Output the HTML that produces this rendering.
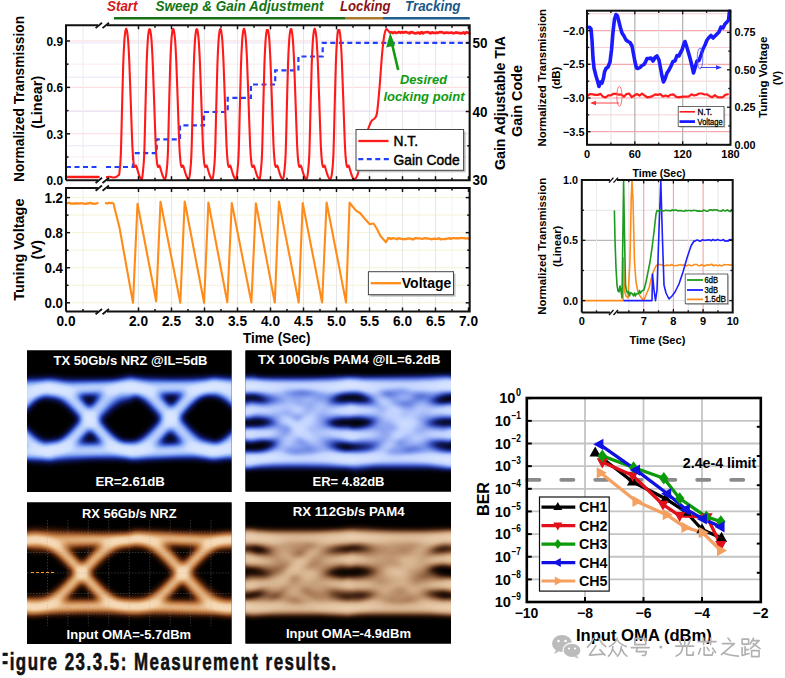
<!DOCTYPE html>
<html><head><meta charset="utf-8"><style>
html,body{margin:0;padding:0;background:#fff;width:785px;height:678px;overflow:hidden}
svg{display:block}
text{font-family:"Liberation Sans", sans-serif}
</style></head><body>
<svg width="785" height="678" viewBox="0 0 785 678">
<defs><filter id="bl2" x="-20%" y="-20%" width="140%" height="140%"><feGaussianBlur stdDeviation="2"/></filter><filter id="bl3" x="-20%" y="-20%" width="140%" height="140%"><feGaussianBlur stdDeviation="3"/></filter><filter id="bl4" x="-20%" y="-20%" width="140%" height="140%"><feGaussianBlur stdDeviation="4.5"/></filter><filter id="bl15" x="-20%" y="-20%" width="140%" height="140%"><feGaussianBlur stdDeviation="1.3"/></filter><filter id="fTX" x="0" y="0" width="1" height="1" filterUnits="objectBoundingBox" color-interpolation-filters="sRGB"><feGaussianBlur in="SourceAlpha" stdDeviation="3.3" result="b"/><feColorMatrix in="b" type="matrix" values="0 0 0 1 0  0 0 0 1 0  0 0 0 1 0  0 0 0 0 1" result="g"/><feComponentTransfer in="g"><feFuncR type="table" tableValues="0 0.07 0.24 0.54 0.8 0.9"/><feFuncG type="table" tableValues="0 0.11 0.37 0.67 0.87 0.93"/><feFuncB type="table" tableValues="0 0.42 0.82 0.96 1 1"/></feComponentTransfer></filter><clipPath id="k1"><rect x="27" y="350.5" width="204.5" height="141.5"/></clipPath><filter id="fTX4" x="0" y="0" width="1" height="1" filterUnits="objectBoundingBox" color-interpolation-filters="sRGB"><feGaussianBlur in="SourceAlpha" stdDeviation="2.6" result="b"/><feColorMatrix in="b" type="matrix" values="0 0 0 1 0  0 0 0 1 0  0 0 0 1 0  0 0 0 0 1" result="g"/><feComponentTransfer in="g"><feFuncR type="table" tableValues="0 0.08 0.25 0.5 0.75 0.88"/><feFuncG type="table" tableValues="0 0.12 0.35 0.6 0.82 0.92"/><feFuncB type="table" tableValues="0 0.42 0.78 0.93 1 1"/></feComponentTransfer></filter><clipPath id="k2"><rect x="245.5" y="350.5" width="205.5" height="141"/></clipPath><filter id="fRX" x="0" y="0" width="1" height="1" filterUnits="objectBoundingBox" color-interpolation-filters="sRGB"><feGaussianBlur in="SourceAlpha" stdDeviation="3.2" result="b"/><feColorMatrix in="b" type="matrix" values="0 0 0 1 0  0 0 0 1 0  0 0 0 1 0  0 0 0 0 1" result="g"/><feComponentTransfer in="g"><feFuncR type="table" tableValues="0 0.3 0.62 0.82 0.95 0.99"/><feFuncG type="table" tableValues="0 0.13 0.35 0.58 0.82 0.92"/><feFuncB type="table" tableValues="0 0.04 0.16 0.36 0.66 0.84"/></feComponentTransfer></filter><clipPath id="k3"><rect x="27" y="502.5" width="204.5" height="141.5"/></clipPath><filter id="fRX4" x="0" y="0" width="1" height="1" filterUnits="objectBoundingBox" color-interpolation-filters="sRGB"><feGaussianBlur in="SourceAlpha" stdDeviation="2.6" result="b"/><feColorMatrix in="b" type="matrix" values="0 0 0 1 0  0 0 0 1 0  0 0 0 1 0  0 0 0 0 1" result="g"/><feComponentTransfer in="g"><feFuncR type="table" tableValues="0 0.22 0.46 0.68 0.84 0.94"/><feFuncG type="table" tableValues="0 0.11 0.3 0.5 0.7 0.84"/><feFuncB type="table" tableValues="0 0.05 0.19 0.36 0.56 0.72"/></feComponentTransfer></filter><clipPath id="k4"><rect x="245.5" y="502" width="205.5" height="141.5"/></clipPath></defs>
<line x1="66" y1="157" x2="469.7" y2="157" stroke="#fdeaec" stroke-width="1" />
<line x1="66" y1="133.79" x2="469.7" y2="133.79" stroke="#fbd8db" stroke-width="1" />
<line x1="66" y1="110.58" x2="469.7" y2="110.58" stroke="#fdeaec" stroke-width="1" />
<line x1="66" y1="87.38" x2="469.7" y2="87.38" stroke="#fbd8db" stroke-width="1" />
<line x1="66" y1="64.17" x2="469.7" y2="64.17" stroke="#fdeaec" stroke-width="1" />
<line x1="66" y1="40.97" x2="469.7" y2="40.97" stroke="#fbd8db" stroke-width="1" />
<line x1="66" y1="145.8" x2="469.7" y2="145.8" stroke="#e6e6fa" stroke-width="1" />
<line x1="66" y1="111.5" x2="469.7" y2="111.5" stroke="#e6e6fa" stroke-width="1" />
<line x1="66" y1="77.2" x2="469.7" y2="77.2" stroke="#e6e6fa" stroke-width="1" />
<line x1="66" y1="42.9" x2="469.7" y2="42.9" stroke="#e6e6fa" stroke-width="1" />
<line x1="138.5" y1="25.3" x2="138.5" y2="180.2" stroke="#e6e6e6" stroke-width="1" />
<line x1="155" y1="25.3" x2="155" y2="180.2" stroke="#f3f3f3" stroke-width="1" />
<line x1="171.5" y1="25.3" x2="171.5" y2="180.2" stroke="#e6e6e6" stroke-width="1" />
<line x1="188" y1="25.3" x2="188" y2="180.2" stroke="#f3f3f3" stroke-width="1" />
<line x1="204.5" y1="25.3" x2="204.5" y2="180.2" stroke="#e6e6e6" stroke-width="1" />
<line x1="221" y1="25.3" x2="221" y2="180.2" stroke="#f3f3f3" stroke-width="1" />
<line x1="237.5" y1="25.3" x2="237.5" y2="180.2" stroke="#e6e6e6" stroke-width="1" />
<line x1="254" y1="25.3" x2="254" y2="180.2" stroke="#f3f3f3" stroke-width="1" />
<line x1="270.5" y1="25.3" x2="270.5" y2="180.2" stroke="#e6e6e6" stroke-width="1" />
<line x1="287" y1="25.3" x2="287" y2="180.2" stroke="#f3f3f3" stroke-width="1" />
<line x1="303.5" y1="25.3" x2="303.5" y2="180.2" stroke="#e6e6e6" stroke-width="1" />
<line x1="320" y1="25.3" x2="320" y2="180.2" stroke="#f3f3f3" stroke-width="1" />
<line x1="336.5" y1="25.3" x2="336.5" y2="180.2" stroke="#e6e6e6" stroke-width="1" />
<line x1="353" y1="25.3" x2="353" y2="180.2" stroke="#f3f3f3" stroke-width="1" />
<line x1="369.5" y1="25.3" x2="369.5" y2="180.2" stroke="#e6e6e6" stroke-width="1" />
<line x1="386" y1="25.3" x2="386" y2="180.2" stroke="#f3f3f3" stroke-width="1" />
<line x1="402.5" y1="25.3" x2="402.5" y2="180.2" stroke="#e6e6e6" stroke-width="1" />
<line x1="419" y1="25.3" x2="419" y2="180.2" stroke="#f3f3f3" stroke-width="1" />
<line x1="435.5" y1="25.3" x2="435.5" y2="180.2" stroke="#e6e6e6" stroke-width="1" />
<line x1="452" y1="25.3" x2="452" y2="180.2" stroke="#f3f3f3" stroke-width="1" />
<line x1="468.5" y1="25.3" x2="468.5" y2="180.2" stroke="#e6e6e6" stroke-width="1" />
<line x1="83" y1="25.3" x2="83" y2="180.2" stroke="#ececec" stroke-width="1" />
<text x="107" y="11.3" font-size="14.5" font-weight="bold" fill="#d41820" textLength="30.5" lengthAdjust="spacingAndGlyphs" font-style="italic" >Start</text>
<text x="155.5" y="11.3" font-size="14.5" font-weight="bold" fill="#137513" textLength="168" lengthAdjust="spacingAndGlyphs" font-style="italic" >Sweep &amp; Gain Adjustment</text>
<text x="340" y="11.3" font-size="14.5" font-weight="bold" fill="#8a1414" textLength="50.5" lengthAdjust="spacingAndGlyphs" font-style="italic" >Locking</text>
<text x="405" y="11.3" font-size="14.5" font-weight="bold" fill="#1a5888" textLength="55.5" lengthAdjust="spacingAndGlyphs" font-style="italic" >Tracking</text>
<line x1="114" y1="18.2" x2="345" y2="18.2" stroke="#177017" stroke-width="2.6" />
<line x1="345" y1="18.2" x2="383" y2="18.2" stroke="#a87b2a" stroke-width="2.6" />
<line x1="383" y1="18.2" x2="469.8" y2="18.2" stroke="#1f5f8f" stroke-width="2.6" />
<polyline points="66,167 98,167" fill="none" stroke="#1f3fff" stroke-width="2.2" stroke-dasharray="5,3.5"/>
<polyline points="106,167 133,167 133,153.2 156.7,153.2 156.7,139.3 180,139.3 180,125.4 204,125.4 204,112 227.7,112 227.7,97.9 250.9,97.9 250.9,84.5 275.2,84.5 275.2,70.4 298.4,70.4 298.4,56.5 322.7,56.5 322.7,42.8 469.5,42.8" fill="none" stroke="#1f3fff" stroke-width="2.2" stroke-dasharray="5,3.5"/>
<path d="M106,177 C106.67,176.97 108.67,176.72 110,176.8 C111.33,176.88 112.83,177.55 114,177.5 C115.17,177.45 116.25,176.92 117,176.5 C117.75,176.08 118.1,175.58 118.5,175 C118.9,174.42 119.02,176.33 119.4,173 C119.78,169.67 120.37,165.5 120.8,155 C121.23,144.5 121.6,125 122,110 C122.4,95 122.8,76.67 123.2,65 C123.6,53.33 124.02,45.75 124.4,40 C124.78,34.25 125.2,32.42 125.5,30.5 C125.8,28.58 125.97,28.5 126.2,28.5 C126.43,28.5 126.58,28.58 126.9,30.5 C127.22,32.42 127.7,34.75 128.1,40 C128.5,45.25 128.87,52 129.3,62 C129.73,72 130.2,86.17 130.7,100 C131.2,113.83 131.82,134.5 132.3,145 C132.78,155.5 133.2,159.33 133.6,163 C134,166.67 134.3,166.58 134.7,167 C135.1,167.42 135.58,165.17 136,165.5 C136.42,165.83 136.67,167.33 137.2,169 C137.73,170.67 138.45,173.78 139.2,175.5 C139.95,177.22 141.1,179.72 141.7,179.3 C142.3,178.88 142.38,177.05 142.8,173 C143.22,168.95 143.77,165.5 144.2,155 C144.63,144.5 145,125 145.4,110 C145.8,95 146.2,76.67 146.6,65 C147,53.33 147.42,45.75 147.8,40 C148.18,34.25 148.6,32.25 148.9,30.5 C149.2,28.75 149.37,29.5 149.6,29.5 C149.83,29.5 149.98,28.75 150.3,30.5 C150.62,32.25 151.1,34.75 151.5,40 C151.9,45.25 152.27,52 152.7,62 C153.13,72 153.6,86.17 154.1,100 C154.6,113.83 155.22,134.5 155.7,145 C156.18,155.5 156.6,159.33 157,163 C157.4,166.67 157.7,166.58 158.1,167 C158.5,167.42 158.98,165.17 159.4,165.5 C159.82,165.83 160.07,167.33 160.6,169 C161.13,170.67 161.85,173.78 162.6,175.5 C163.35,177.22 164.47,179.72 165.1,179.3 C165.73,178.88 165.95,177.05 166.4,173 C166.85,168.95 167.37,165.5 167.8,155 C168.23,144.5 168.6,125 169,110 C169.4,95 169.8,76.67 170.2,65 C170.6,53.33 171.02,45.75 171.4,40 C171.78,34.25 172.2,32.37 172.5,30.5 C172.8,28.63 172.97,28.8 173.2,28.8 C173.43,28.8 173.58,28.63 173.9,30.5 C174.22,32.37 174.7,34.75 175.1,40 C175.5,45.25 175.87,52 176.3,62 C176.73,72 177.2,86.17 177.7,100 C178.2,113.83 178.82,134.5 179.3,145 C179.78,155.5 180.2,159.33 180.6,163 C181,166.67 181.3,166.58 181.7,167 C182.1,167.42 182.58,165.17 183,165.5 C183.42,165.83 183.67,167.33 184.2,169 C184.73,170.67 185.45,173.78 186.2,175.5 C186.95,177.22 188.07,179.72 188.7,179.3 C189.33,178.88 189.55,177.05 190,173 C190.45,168.95 190.97,165.5 191.4,155 C191.83,144.5 192.2,125 192.6,110 C193,95 193.4,76.67 193.8,65 C194.2,53.33 194.62,45.75 195,40 C195.38,34.25 195.8,32.25 196.1,30.5 C196.4,28.75 196.57,29.5 196.8,29.5 C197.03,29.5 197.18,28.75 197.5,30.5 C197.82,32.25 198.3,34.75 198.7,40 C199.1,45.25 199.47,52 199.9,62 C200.33,72 200.8,86.17 201.3,100 C201.8,113.83 202.42,134.5 202.9,145 C203.38,155.5 203.8,159.33 204.2,163 C204.6,166.67 204.9,166.58 205.3,167 C205.7,167.42 206.18,165.17 206.6,165.5 C207.02,165.83 207.27,167.33 207.8,169 C208.33,170.67 209.05,173.78 209.8,175.5 C210.55,177.22 211.67,179.72 212.3,179.3 C212.93,178.88 213.15,177.05 213.6,173 C214.05,168.95 214.57,165.5 215,155 C215.43,144.5 215.8,125 216.2,110 C216.6,95 217,76.67 217.4,65 C217.8,53.33 218.22,45.75 218.6,40 C218.98,34.25 219.4,32.3 219.7,30.5 C220,28.7 220.17,29.2 220.4,29.2 C220.63,29.2 220.78,28.7 221.1,30.5 C221.42,32.3 221.9,34.75 222.3,40 C222.7,45.25 223.07,52 223.5,62 C223.93,72 224.4,86.17 224.9,100 C225.4,113.83 226.02,134.5 226.5,145 C226.98,155.5 227.4,159.33 227.8,163 C228.2,166.67 228.5,166.58 228.9,167 C229.3,167.42 229.78,165.17 230.2,165.5 C230.62,165.83 230.87,167.33 231.4,169 C231.93,170.67 232.65,173.78 233.4,175.5 C234.15,177.22 235.27,179.72 235.9,179.3 C236.53,178.88 236.75,177.05 237.2,173 C237.65,168.95 238.17,165.5 238.6,155 C239.03,144.5 239.4,125 239.8,110 C240.2,95 240.6,76.67 241,65 C241.4,53.33 241.82,45.75 242.2,40 C242.58,34.25 243,32.42 243.3,30.5 C243.6,28.58 243.77,28.5 244,28.5 C244.23,28.5 244.38,28.58 244.7,30.5 C245.02,32.42 245.5,34.75 245.9,40 C246.3,45.25 246.67,52 247.1,62 C247.53,72 248,86.17 248.5,100 C249,113.83 249.62,134.5 250.1,145 C250.58,155.5 251,159.33 251.4,163 C251.8,166.67 252.1,166.58 252.5,167 C252.9,167.42 253.38,165.17 253.8,165.5 C254.22,165.83 254.47,167.33 255,169 C255.53,170.67 256.25,173.78 257,175.5 C257.75,177.22 258.9,179.72 259.5,179.3 C260.1,178.88 260.18,177.05 260.6,173 C261.02,168.95 261.57,165.5 262,155 C262.43,144.5 262.8,125 263.2,110 C263.6,95 264,76.67 264.4,65 C264.8,53.33 265.22,45.75 265.6,40 C265.98,34.25 266.4,32 266.7,30.5 C267,29 267.17,31 267.4,31 C267.63,31 267.78,29 268.1,30.5 C268.42,32 268.9,34.75 269.3,40 C269.7,45.25 270.07,52 270.5,62 C270.93,72 271.4,86.17 271.9,100 C272.4,113.83 273.02,134.5 273.5,145 C273.98,155.5 274.4,159.33 274.8,163 C275.2,166.67 275.5,166.58 275.9,167 C276.3,167.42 276.78,165.17 277.2,165.5 C277.62,165.83 277.87,167.33 278.4,169 C278.93,170.67 279.65,173.78 280.4,175.5 C281.15,177.22 282.27,179.72 282.9,179.3 C283.53,178.88 283.75,177.05 284.2,173 C284.65,168.95 285.17,165.5 285.6,155 C286.03,144.5 286.4,125 286.8,110 C287.2,95 287.6,76.67 288,65 C288.4,53.33 288.82,45.75 289.2,40 C289.58,34.25 290,32.3 290.3,30.5 C290.6,28.7 290.77,29.2 291,29.2 C291.23,29.2 291.38,28.7 291.7,30.5 C292.02,32.3 292.5,34.75 292.9,40 C293.3,45.25 293.67,52 294.1,62 C294.53,72 295,86.17 295.5,100 C296,113.83 296.62,134.5 297.1,145 C297.58,155.5 298,159.33 298.4,163 C298.8,166.67 299.1,166.58 299.5,167 C299.9,167.42 300.38,165.17 300.8,165.5 C301.22,165.83 301.47,167.33 302,169 C302.53,170.67 303.25,173.78 304,175.5 C304.75,177.22 305.85,179.72 306.5,179.3 C307.15,178.88 307.43,177.05 307.9,173 C308.37,168.95 308.87,165.5 309.3,155 C309.73,144.5 310.1,125 310.5,110 C310.9,95 311.3,76.67 311.7,65 C312.1,53.33 312.52,45.75 312.9,40 C313.28,34.25 313.7,32.42 314,30.5 C314.3,28.58 314.47,28.5 314.7,28.5 C314.93,28.5 315.08,28.58 315.4,30.5 C315.72,32.42 316.2,34.75 316.6,40 C317,45.25 317.37,52 317.8,62 C318.23,72 318.7,86.17 319.2,100 C319.7,113.83 320.32,134.5 320.8,145 C321.28,155.5 321.7,159.33 322.1,163 C322.5,166.67 322.8,166.58 323.2,167 C323.6,167.42 324.08,165.17 324.5,165.5 C324.92,165.83 325.17,167.33 325.7,169 C326.23,170.67 326.95,173.78 327.7,175.5 C328.45,177.22 329.48,179.72 330.2,179.3 C330.92,178.88 331.47,177.05 332,173 C332.53,168.95 332.97,165.5 333.4,155 C333.83,144.5 334.2,125 334.6,110 C335,95 335.4,76.67 335.8,65 C336.2,53.33 336.62,45.75 337,40 C337.38,34.25 337.8,32 338.1,30.5 C338.4,29 338.57,31 338.8,31 C339.03,31 339.18,29 339.5,30.5 C339.82,32 340.3,34.75 340.7,40 C341.1,45.25 341.47,52 341.9,62 C342.33,72 342.8,86.17 343.3,100 C343.8,113.83 344.42,134.5 344.9,145 C345.38,155.5 345.8,159.33 346.2,163 C346.6,166.67 346.9,166.58 347.3,167 C347.7,167.42 348.18,165.17 348.6,165.5 C349.02,165.83 349.27,167.33 349.8,169 C350.33,170.67 351.05,173.78 351.8,175.5 C352.55,177.22 353.35,179.38 354.3,179.3 C355.25,179.22 356.38,178.22 357.5,175 C358.62,171.78 359.75,165.83 361,160 C362.25,154.17 363.75,145.33 365,140 C366.25,134.67 367.42,131.17 368.5,128 C369.58,124.83 370.5,122.58 371.5,121 C372.5,119.42 373.58,119.83 374.5,118.5 C375.42,117.17 376.17,118.08 377,113 C377.83,107.92 378.67,97.67 379.5,88 C380.33,78.33 381.25,63.5 382,55 C382.75,46.5 383.33,41.25 384,37 C384.67,32.75 385.33,30.58 386,29.5 C386.67,28.42 387.33,29.95 388,30.5 C388.67,31.05 389.67,32.42 390,32.8" fill="none" stroke="#ff1a1a" stroke-width="2.1" stroke-linejoin="round"/>
<polyline points="66,177 98.7,177" fill="none" stroke="#ff1a1a" stroke-width="2.3" stroke-linejoin="round" stroke-linecap="round" />
<polyline points="390,32.52 391.5,32.24 393,33.04 394.5,32.12 396,32.86 397.5,32.59 399,32.09 400.5,32.81 402,32.06 403.5,32.69 405,32.11 406.5,32.15 408,32.68 409.5,33.32 411,32.2 412.5,32.36 414,33 415.5,33.52 417,32.92 418.5,32.63 420,33.56 421.5,32.07 423,33.37 424.5,32.46 426,32.23 427.5,32.19 429,32.49 430.5,33.31 432,32.29 433.5,32.93 435,33.02 436.5,32.6 438,32.88 439.5,32.1 441,32.1 442.5,32.33 444,33.09 445.5,32.68 447,32.5 448.5,32.94 450,32.73 451.5,32.48 453,33.27 454.5,33.12 456,32.39 457.5,32.92 459,32.84 460.5,33.4 462,33.17 463.5,32.46 465,33.57 466.5,32.19 468,32.67 469.5,33.21" fill="none" stroke="#ff1a1a" stroke-width="2.7" stroke-linejoin="round" stroke-linecap="round" />
<line x1="398.2" y1="70" x2="392.3" y2="45" stroke="#139a13" stroke-width="2.6" />
<polygon points="390.2,32.5 386.2,47.5 395,45.5" fill="#139a13"/>
<text x="400" y="83.5" font-size="13" font-weight="bold" fill="#109a10" textLength="47" lengthAdjust="spacingAndGlyphs" font-style="italic" >Desired</text>
<text x="383.5" y="100.5" font-size="13" font-weight="bold" fill="#109a10" textLength="81" lengthAdjust="spacingAndGlyphs" font-style="italic" >locking point</text>
<rect x="358" y="131.5" width="107.6" height="40.8" fill="#9a9a9a" opacity="0.6"/>
<rect x="356" y="129.5" width="107.6" height="40.8" fill="#fff" stroke="#444" stroke-width="1"/>
<line x1="358.3" y1="141" x2="388.5" y2="141" stroke="#ff1a1a" stroke-width="2.3" />
<text x="393.6" y="146" font-size="14" font-weight="normal" fill="#000" textLength="24.5" lengthAdjust="spacingAndGlyphs" stroke="#000" stroke-width="0.45">N.T.</text>
<line x1="358.3" y1="159.2" x2="389" y2="159.2" stroke="#1f3fff" stroke-width="2.2" stroke-dasharray="5,3.5"/>
<text x="393.6" y="164.5" font-size="14" font-weight="normal" fill="#000" textLength="66" lengthAdjust="spacingAndGlyphs" stroke="#000" stroke-width="0.45">Gain Code</text>
<path d="M66,180.2 V25.3 H98 M107,25.3 H469.7 V180.2 H107 M98,180.2 H66" fill="none" stroke="#111" stroke-width="2"/>
<line x1="95.6" y1="28.1" x2="102" y2="22.8" stroke="#111" stroke-width="1.8" />
<line x1="102.5" y1="28.1" x2="109" y2="22.8" stroke="#111" stroke-width="1.8" />
<line x1="95.6" y1="183" x2="102" y2="177.7" stroke="#111" stroke-width="1.8" />
<line x1="102.5" y1="183" x2="109" y2="177.7" stroke="#111" stroke-width="1.8" />
<line x1="66" y1="157" x2="68.5" y2="157" stroke="#111" stroke-width="1.5" />
<line x1="66" y1="133.79" x2="70" y2="133.79" stroke="#111" stroke-width="1.5" />
<line x1="66" y1="110.58" x2="68.5" y2="110.58" stroke="#111" stroke-width="1.5" />
<line x1="66" y1="87.38" x2="70" y2="87.38" stroke="#111" stroke-width="1.5" />
<line x1="66" y1="64.17" x2="68.5" y2="64.17" stroke="#111" stroke-width="1.5" />
<line x1="66" y1="40.97" x2="70" y2="40.97" stroke="#111" stroke-width="1.5" />
<line x1="469.7" y1="145.8" x2="467.2" y2="145.8" stroke="#111" stroke-width="1.5" />
<line x1="469.7" y1="111.5" x2="465.7" y2="111.5" stroke="#111" stroke-width="1.5" />
<line x1="469.7" y1="77.2" x2="467.2" y2="77.2" stroke="#111" stroke-width="1.5" />
<line x1="469.7" y1="42.9" x2="465.7" y2="42.9" stroke="#111" stroke-width="1.5" />
<line x1="138.5" y1="180.2" x2="138.5" y2="176.2" stroke="#111" stroke-width="1.5" />
<line x1="138.5" y1="25.3" x2="138.5" y2="29.3" stroke="#111" stroke-width="1.5" />
<line x1="155" y1="180.2" x2="155" y2="177.7" stroke="#111" stroke-width="1.5" />
<line x1="155" y1="25.3" x2="155" y2="27.8" stroke="#111" stroke-width="1.5" />
<line x1="171.5" y1="180.2" x2="171.5" y2="176.2" stroke="#111" stroke-width="1.5" />
<line x1="171.5" y1="25.3" x2="171.5" y2="29.3" stroke="#111" stroke-width="1.5" />
<line x1="188" y1="180.2" x2="188" y2="177.7" stroke="#111" stroke-width="1.5" />
<line x1="188" y1="25.3" x2="188" y2="27.8" stroke="#111" stroke-width="1.5" />
<line x1="204.5" y1="180.2" x2="204.5" y2="176.2" stroke="#111" stroke-width="1.5" />
<line x1="204.5" y1="25.3" x2="204.5" y2="29.3" stroke="#111" stroke-width="1.5" />
<line x1="221" y1="180.2" x2="221" y2="177.7" stroke="#111" stroke-width="1.5" />
<line x1="221" y1="25.3" x2="221" y2="27.8" stroke="#111" stroke-width="1.5" />
<line x1="237.5" y1="180.2" x2="237.5" y2="176.2" stroke="#111" stroke-width="1.5" />
<line x1="237.5" y1="25.3" x2="237.5" y2="29.3" stroke="#111" stroke-width="1.5" />
<line x1="254" y1="180.2" x2="254" y2="177.7" stroke="#111" stroke-width="1.5" />
<line x1="254" y1="25.3" x2="254" y2="27.8" stroke="#111" stroke-width="1.5" />
<line x1="270.5" y1="180.2" x2="270.5" y2="176.2" stroke="#111" stroke-width="1.5" />
<line x1="270.5" y1="25.3" x2="270.5" y2="29.3" stroke="#111" stroke-width="1.5" />
<line x1="287" y1="180.2" x2="287" y2="177.7" stroke="#111" stroke-width="1.5" />
<line x1="287" y1="25.3" x2="287" y2="27.8" stroke="#111" stroke-width="1.5" />
<line x1="303.5" y1="180.2" x2="303.5" y2="176.2" stroke="#111" stroke-width="1.5" />
<line x1="303.5" y1="25.3" x2="303.5" y2="29.3" stroke="#111" stroke-width="1.5" />
<line x1="320" y1="180.2" x2="320" y2="177.7" stroke="#111" stroke-width="1.5" />
<line x1="320" y1="25.3" x2="320" y2="27.8" stroke="#111" stroke-width="1.5" />
<line x1="336.5" y1="180.2" x2="336.5" y2="176.2" stroke="#111" stroke-width="1.5" />
<line x1="336.5" y1="25.3" x2="336.5" y2="29.3" stroke="#111" stroke-width="1.5" />
<line x1="353" y1="180.2" x2="353" y2="177.7" stroke="#111" stroke-width="1.5" />
<line x1="353" y1="25.3" x2="353" y2="27.8" stroke="#111" stroke-width="1.5" />
<line x1="369.5" y1="180.2" x2="369.5" y2="176.2" stroke="#111" stroke-width="1.5" />
<line x1="369.5" y1="25.3" x2="369.5" y2="29.3" stroke="#111" stroke-width="1.5" />
<line x1="386" y1="180.2" x2="386" y2="177.7" stroke="#111" stroke-width="1.5" />
<line x1="386" y1="25.3" x2="386" y2="27.8" stroke="#111" stroke-width="1.5" />
<line x1="402.5" y1="180.2" x2="402.5" y2="176.2" stroke="#111" stroke-width="1.5" />
<line x1="402.5" y1="25.3" x2="402.5" y2="29.3" stroke="#111" stroke-width="1.5" />
<line x1="419" y1="180.2" x2="419" y2="177.7" stroke="#111" stroke-width="1.5" />
<line x1="419" y1="25.3" x2="419" y2="27.8" stroke="#111" stroke-width="1.5" />
<line x1="435.5" y1="180.2" x2="435.5" y2="176.2" stroke="#111" stroke-width="1.5" />
<line x1="435.5" y1="25.3" x2="435.5" y2="29.3" stroke="#111" stroke-width="1.5" />
<line x1="452" y1="180.2" x2="452" y2="177.7" stroke="#111" stroke-width="1.5" />
<line x1="452" y1="25.3" x2="452" y2="27.8" stroke="#111" stroke-width="1.5" />
<line x1="468.5" y1="180.2" x2="468.5" y2="176.2" stroke="#111" stroke-width="1.5" />
<line x1="468.5" y1="25.3" x2="468.5" y2="29.3" stroke="#111" stroke-width="1.5" />
<text x="63" y="45.77" font-size="13.5" font-weight="bold" fill="#000" text-anchor="end" textLength="16.5" lengthAdjust="spacingAndGlyphs" >0.9</text>
<text x="63" y="92.18" font-size="13.5" font-weight="bold" fill="#000" text-anchor="end" textLength="16.5" lengthAdjust="spacingAndGlyphs" >0.6</text>
<text x="63" y="138.59" font-size="13.5" font-weight="bold" fill="#000" text-anchor="end" textLength="16.5" lengthAdjust="spacingAndGlyphs" >0.3</text>
<text x="63" y="185" font-size="13.5" font-weight="bold" fill="#000" text-anchor="end" textLength="16.5" lengthAdjust="spacingAndGlyphs" >0.0</text>
<text x="472.6" y="47.9" font-size="14" font-weight="bold" fill="#000" textLength="15" lengthAdjust="spacingAndGlyphs" >50</text>
<text x="472.6" y="116.5" font-size="14" font-weight="bold" fill="#000" textLength="15" lengthAdjust="spacingAndGlyphs" >40</text>
<text x="472.6" y="185.1" font-size="14" font-weight="bold" fill="#000" textLength="15" lengthAdjust="spacingAndGlyphs" >30</text>
<text x="0" y="0" font-size="14" font-weight="bold" fill="#000" text-anchor="middle" textLength="166" lengthAdjust="spacingAndGlyphs" transform="translate(23.8,99) rotate(-90)" >Normalized Transmission</text>
<text x="0" y="0" font-size="14" font-weight="bold" fill="#000" text-anchor="middle" textLength="53" lengthAdjust="spacingAndGlyphs" transform="translate(42,102.3) rotate(-90)" >(Linear)</text>
<text x="0" y="0" font-size="14" font-weight="bold" fill="#000" text-anchor="middle" textLength="134" lengthAdjust="spacingAndGlyphs" transform="translate(504.7,103) rotate(-90)" >Gain Adjustable TIA</text>
<text x="0" y="0" font-size="14" font-weight="bold" fill="#000" text-anchor="middle" textLength="71.8" lengthAdjust="spacingAndGlyphs" transform="translate(522,101) rotate(-90)" >Gain Code</text>
<line x1="66" y1="302.8" x2="469.7" y2="302.8" stroke="#f5f2d4" stroke-width="1" />
<line x1="66" y1="285.27" x2="469.7" y2="285.27" stroke="#f5f2d4" stroke-width="1" />
<line x1="66" y1="267.73" x2="469.7" y2="267.73" stroke="#f5f2d4" stroke-width="1" />
<line x1="66" y1="250.2" x2="469.7" y2="250.2" stroke="#f5f2d4" stroke-width="1" />
<line x1="66" y1="232.66" x2="469.7" y2="232.66" stroke="#f5f2d4" stroke-width="1" />
<line x1="66" y1="215.13" x2="469.7" y2="215.13" stroke="#f5f2d4" stroke-width="1" />
<line x1="66" y1="197.6" x2="469.7" y2="197.6" stroke="#f5f2d4" stroke-width="1" />
<line x1="138.5" y1="188" x2="138.5" y2="311.5" stroke="#e6e6e6" stroke-width="1" />
<line x1="155" y1="188" x2="155" y2="311.5" stroke="#f3f3f3" stroke-width="1" />
<line x1="171.5" y1="188" x2="171.5" y2="311.5" stroke="#e6e6e6" stroke-width="1" />
<line x1="188" y1="188" x2="188" y2="311.5" stroke="#f3f3f3" stroke-width="1" />
<line x1="204.5" y1="188" x2="204.5" y2="311.5" stroke="#e6e6e6" stroke-width="1" />
<line x1="221" y1="188" x2="221" y2="311.5" stroke="#f3f3f3" stroke-width="1" />
<line x1="237.5" y1="188" x2="237.5" y2="311.5" stroke="#e6e6e6" stroke-width="1" />
<line x1="254" y1="188" x2="254" y2="311.5" stroke="#f3f3f3" stroke-width="1" />
<line x1="270.5" y1="188" x2="270.5" y2="311.5" stroke="#e6e6e6" stroke-width="1" />
<line x1="287" y1="188" x2="287" y2="311.5" stroke="#f3f3f3" stroke-width="1" />
<line x1="303.5" y1="188" x2="303.5" y2="311.5" stroke="#e6e6e6" stroke-width="1" />
<line x1="320" y1="188" x2="320" y2="311.5" stroke="#f3f3f3" stroke-width="1" />
<line x1="336.5" y1="188" x2="336.5" y2="311.5" stroke="#e6e6e6" stroke-width="1" />
<line x1="353" y1="188" x2="353" y2="311.5" stroke="#f3f3f3" stroke-width="1" />
<line x1="369.5" y1="188" x2="369.5" y2="311.5" stroke="#e6e6e6" stroke-width="1" />
<line x1="386" y1="188" x2="386" y2="311.5" stroke="#f3f3f3" stroke-width="1" />
<line x1="402.5" y1="188" x2="402.5" y2="311.5" stroke="#e6e6e6" stroke-width="1" />
<line x1="419" y1="188" x2="419" y2="311.5" stroke="#f3f3f3" stroke-width="1" />
<line x1="435.5" y1="188" x2="435.5" y2="311.5" stroke="#e6e6e6" stroke-width="1" />
<line x1="452" y1="188" x2="452" y2="311.5" stroke="#f3f3f3" stroke-width="1" />
<line x1="468.5" y1="188" x2="468.5" y2="311.5" stroke="#e6e6e6" stroke-width="1" />
<line x1="83" y1="188" x2="83" y2="311.5" stroke="#efefef" stroke-width="1" />
<polyline points="66,202.88 67.5,203.29 69,202.75 70.5,203.5 72,203.62 73.5,203.39 75,203.75 76.5,203.08 78,203.53 79.5,203.41 81,203.4 82.5,203.25 84,203.71 85.5,203.83 87,203.27 88.5,203.5 90,202.77 91.5,203.54 93,203.48 94.5,203.89 96,203.69 97.5,203.04" fill="none" stroke="#ff8c1a" stroke-width="2.3" stroke-linejoin="round" stroke-linecap="round" />
<polyline points="106,203.16 107.5,203.5 109,202.73 110.5,203.25 112,202.9" fill="none" stroke="#ff8c1a" stroke-width="2.3" stroke-linejoin="round" stroke-linecap="round" />
<polyline points="113.4,203.3 119.5,227.8 133,302.8 137.5,203.8 156.2,301.2 160.5,201.7 180.3,302.8 184.7,201.5 204.1,302.8 208.4,202.5 227.3,302.2 231.8,203 251.4,302.5 255.9,203.3 274.8,302.5 278.9,201.5 298.7,302.5 302.7,203 322.1,302.5 326.6,202.5 346,302.4 349.6,202.6 353,207 356.3,210.9 360,213 365,219 369.7,224.3 373.6,223.5 377,229 380.3,235.8 384,240 386,242.2 388,238.7" fill="none" stroke="#ff8c1a" stroke-width="2.1" stroke-linejoin="round" stroke-linecap="round" />
<polyline points="388,238.16 389.5,238.08 391,239.08 392.5,238.18 394,238.35 395.5,238.55 397,239.22 398.5,238.11 400,238.63 401.5,238.77 403,239.24 404.5,239.15 406,239.21 407.5,238.39 409,238.58 410.5,238.5 412,239.24 413.5,239.34 415,238.21 416.5,238.25 418,238.32 419.5,238.33 421,238.68 422.5,238.82 424,238.37 425.5,238.01 427,238.59 428.5,238.52 430,238.79 431.5,239.33 433,238.97 434.5,238.72 436,238.86 437.5,238.95 439,238.08 440.5,239.26 442,239.09 443.5,239.22 445,239.12 446.5,238.55 448,238.56 449.5,238.14 451,238.89 452.5,238.09 454,238.09 455.5,238.29 457,238.23 458.5,238.48 460,238.07 461.5,238 463,238.21 464.5,238.14 466,238.51 467.5,238.04 469,239.22" fill="none" stroke="#ff8c1a" stroke-width="2.3" stroke-linejoin="round" stroke-linecap="round" />
<rect x="370.4" y="273.7" width="85.1" height="23" fill="#9a9a9a" opacity="0.6"/>
<rect x="368.4" y="271.7" width="85.1" height="23" fill="#fff" stroke="#444" stroke-width="1"/>
<line x1="370.7" y1="283.2" x2="401" y2="283.2" stroke="#ff8c1a" stroke-width="2.3" />
<text x="401.8" y="288.2" font-size="14" font-weight="bold" fill="#000" textLength="49.5" lengthAdjust="spacingAndGlyphs" >Voltage</text>
<path d="M66,311.5 V188 H98 M107,188 H469.7 V311.5 H107 M98,311.5 H66" fill="none" stroke="#111" stroke-width="2"/>
<line x1="95.6" y1="190.8" x2="102" y2="185.5" stroke="#111" stroke-width="1.8" />
<line x1="102.5" y1="190.8" x2="109" y2="185.5" stroke="#111" stroke-width="1.8" />
<line x1="95.6" y1="314.3" x2="102" y2="309" stroke="#111" stroke-width="1.8" />
<line x1="102.5" y1="314.3" x2="109" y2="309" stroke="#111" stroke-width="1.8" />
<line x1="66" y1="302.8" x2="70" y2="302.8" stroke="#111" stroke-width="1.5" />
<line x1="469.7" y1="302.8" x2="465.7" y2="302.8" stroke="#111" stroke-width="1.5" />
<line x1="66" y1="285.27" x2="68.5" y2="285.27" stroke="#111" stroke-width="1.5" />
<line x1="469.7" y1="285.27" x2="467.2" y2="285.27" stroke="#111" stroke-width="1.5" />
<line x1="66" y1="267.73" x2="70" y2="267.73" stroke="#111" stroke-width="1.5" />
<line x1="469.7" y1="267.73" x2="465.7" y2="267.73" stroke="#111" stroke-width="1.5" />
<line x1="66" y1="250.2" x2="68.5" y2="250.2" stroke="#111" stroke-width="1.5" />
<line x1="469.7" y1="250.2" x2="467.2" y2="250.2" stroke="#111" stroke-width="1.5" />
<line x1="66" y1="232.66" x2="70" y2="232.66" stroke="#111" stroke-width="1.5" />
<line x1="469.7" y1="232.66" x2="465.7" y2="232.66" stroke="#111" stroke-width="1.5" />
<line x1="66" y1="215.13" x2="68.5" y2="215.13" stroke="#111" stroke-width="1.5" />
<line x1="469.7" y1="215.13" x2="467.2" y2="215.13" stroke="#111" stroke-width="1.5" />
<line x1="66" y1="197.6" x2="70" y2="197.6" stroke="#111" stroke-width="1.5" />
<line x1="469.7" y1="197.6" x2="465.7" y2="197.6" stroke="#111" stroke-width="1.5" />
<line x1="138.5" y1="311.5" x2="138.5" y2="307.5" stroke="#111" stroke-width="1.5" />
<line x1="138.5" y1="188" x2="138.5" y2="192" stroke="#111" stroke-width="1.5" />
<line x1="155" y1="311.5" x2="155" y2="309" stroke="#111" stroke-width="1.5" />
<line x1="155" y1="188" x2="155" y2="190.5" stroke="#111" stroke-width="1.5" />
<line x1="171.5" y1="311.5" x2="171.5" y2="307.5" stroke="#111" stroke-width="1.5" />
<line x1="171.5" y1="188" x2="171.5" y2="192" stroke="#111" stroke-width="1.5" />
<line x1="188" y1="311.5" x2="188" y2="309" stroke="#111" stroke-width="1.5" />
<line x1="188" y1="188" x2="188" y2="190.5" stroke="#111" stroke-width="1.5" />
<line x1="204.5" y1="311.5" x2="204.5" y2="307.5" stroke="#111" stroke-width="1.5" />
<line x1="204.5" y1="188" x2="204.5" y2="192" stroke="#111" stroke-width="1.5" />
<line x1="221" y1="311.5" x2="221" y2="309" stroke="#111" stroke-width="1.5" />
<line x1="221" y1="188" x2="221" y2="190.5" stroke="#111" stroke-width="1.5" />
<line x1="237.5" y1="311.5" x2="237.5" y2="307.5" stroke="#111" stroke-width="1.5" />
<line x1="237.5" y1="188" x2="237.5" y2="192" stroke="#111" stroke-width="1.5" />
<line x1="254" y1="311.5" x2="254" y2="309" stroke="#111" stroke-width="1.5" />
<line x1="254" y1="188" x2="254" y2="190.5" stroke="#111" stroke-width="1.5" />
<line x1="270.5" y1="311.5" x2="270.5" y2="307.5" stroke="#111" stroke-width="1.5" />
<line x1="270.5" y1="188" x2="270.5" y2="192" stroke="#111" stroke-width="1.5" />
<line x1="287" y1="311.5" x2="287" y2="309" stroke="#111" stroke-width="1.5" />
<line x1="287" y1="188" x2="287" y2="190.5" stroke="#111" stroke-width="1.5" />
<line x1="303.5" y1="311.5" x2="303.5" y2="307.5" stroke="#111" stroke-width="1.5" />
<line x1="303.5" y1="188" x2="303.5" y2="192" stroke="#111" stroke-width="1.5" />
<line x1="320" y1="311.5" x2="320" y2="309" stroke="#111" stroke-width="1.5" />
<line x1="320" y1="188" x2="320" y2="190.5" stroke="#111" stroke-width="1.5" />
<line x1="336.5" y1="311.5" x2="336.5" y2="307.5" stroke="#111" stroke-width="1.5" />
<line x1="336.5" y1="188" x2="336.5" y2="192" stroke="#111" stroke-width="1.5" />
<line x1="353" y1="311.5" x2="353" y2="309" stroke="#111" stroke-width="1.5" />
<line x1="353" y1="188" x2="353" y2="190.5" stroke="#111" stroke-width="1.5" />
<line x1="369.5" y1="311.5" x2="369.5" y2="307.5" stroke="#111" stroke-width="1.5" />
<line x1="369.5" y1="188" x2="369.5" y2="192" stroke="#111" stroke-width="1.5" />
<line x1="386" y1="311.5" x2="386" y2="309" stroke="#111" stroke-width="1.5" />
<line x1="386" y1="188" x2="386" y2="190.5" stroke="#111" stroke-width="1.5" />
<line x1="402.5" y1="311.5" x2="402.5" y2="307.5" stroke="#111" stroke-width="1.5" />
<line x1="402.5" y1="188" x2="402.5" y2="192" stroke="#111" stroke-width="1.5" />
<line x1="419" y1="311.5" x2="419" y2="309" stroke="#111" stroke-width="1.5" />
<line x1="419" y1="188" x2="419" y2="190.5" stroke="#111" stroke-width="1.5" />
<line x1="435.5" y1="311.5" x2="435.5" y2="307.5" stroke="#111" stroke-width="1.5" />
<line x1="435.5" y1="188" x2="435.5" y2="192" stroke="#111" stroke-width="1.5" />
<line x1="452" y1="311.5" x2="452" y2="309" stroke="#111" stroke-width="1.5" />
<line x1="452" y1="188" x2="452" y2="190.5" stroke="#111" stroke-width="1.5" />
<line x1="468.5" y1="311.5" x2="468.5" y2="307.5" stroke="#111" stroke-width="1.5" />
<line x1="468.5" y1="188" x2="468.5" y2="192" stroke="#111" stroke-width="1.5" />
<line x1="83" y1="311.5" x2="83" y2="309" stroke="#111" stroke-width="1.5" />
<text x="63" y="202.6" font-size="14.2" font-weight="bold" fill="#000" text-anchor="end" textLength="18.5" lengthAdjust="spacingAndGlyphs" >1.2</text>
<text x="63" y="237.66" font-size="14.2" font-weight="bold" fill="#000" text-anchor="end" textLength="18.5" lengthAdjust="spacingAndGlyphs" >0.8</text>
<text x="63" y="272.73" font-size="14.2" font-weight="bold" fill="#000" text-anchor="end" textLength="18.5" lengthAdjust="spacingAndGlyphs" >0.4</text>
<text x="63" y="307.8" font-size="14.2" font-weight="bold" fill="#000" text-anchor="end" textLength="18.5" lengthAdjust="spacingAndGlyphs" >0.0</text>
<text x="66" y="326" font-size="14.2" font-weight="bold" fill="#000" text-anchor="middle" textLength="19" lengthAdjust="spacingAndGlyphs" >0.0</text>
<text x="138.5" y="326" font-size="14.2" font-weight="bold" fill="#000" text-anchor="middle" textLength="19" lengthAdjust="spacingAndGlyphs" >2.0</text>
<text x="171.5" y="326" font-size="14.2" font-weight="bold" fill="#000" text-anchor="middle" textLength="19" lengthAdjust="spacingAndGlyphs" >2.5</text>
<text x="204.5" y="326" font-size="14.2" font-weight="bold" fill="#000" text-anchor="middle" textLength="19" lengthAdjust="spacingAndGlyphs" >3.0</text>
<text x="237.5" y="326" font-size="14.2" font-weight="bold" fill="#000" text-anchor="middle" textLength="19" lengthAdjust="spacingAndGlyphs" >3.5</text>
<text x="270.5" y="326" font-size="14.2" font-weight="bold" fill="#000" text-anchor="middle" textLength="19" lengthAdjust="spacingAndGlyphs" >4.0</text>
<text x="303.5" y="326" font-size="14.2" font-weight="bold" fill="#000" text-anchor="middle" textLength="19" lengthAdjust="spacingAndGlyphs" >4.5</text>
<text x="336.5" y="326" font-size="14.2" font-weight="bold" fill="#000" text-anchor="middle" textLength="19" lengthAdjust="spacingAndGlyphs" >5.0</text>
<text x="369.5" y="326" font-size="14.2" font-weight="bold" fill="#000" text-anchor="middle" textLength="19" lengthAdjust="spacingAndGlyphs" >5.5</text>
<text x="402.5" y="326" font-size="14.2" font-weight="bold" fill="#000" text-anchor="middle" textLength="19" lengthAdjust="spacingAndGlyphs" >6.0</text>
<text x="435.5" y="326" font-size="14.2" font-weight="bold" fill="#000" text-anchor="middle" textLength="19" lengthAdjust="spacingAndGlyphs" >6.5</text>
<text x="468.5" y="326" font-size="14.2" font-weight="bold" fill="#000" text-anchor="middle" textLength="19" lengthAdjust="spacingAndGlyphs" >7.0</text>
<text x="243" y="343" font-size="14" font-weight="bold" fill="#000" textLength="67.5" lengthAdjust="spacingAndGlyphs" >Time (Sec)</text>
<text x="0" y="0" font-size="14" font-weight="bold" fill="#000" text-anchor="middle" textLength="102.3" lengthAdjust="spacingAndGlyphs" transform="translate(23.6,249.7) rotate(-90)" >Tuning Voltage</text>
<text x="0" y="0" font-size="14" font-weight="bold" fill="#000" text-anchor="middle" textLength="19.5" lengthAdjust="spacingAndGlyphs" transform="translate(42.2,249.8) rotate(-90)" >(V)</text>
<line x1="587" y1="13.75" x2="730.5" y2="13.75" stroke="#f9cfd2" stroke-width="1" />
<line x1="587" y1="30.6" x2="730.5" y2="30.6" stroke="#f7a8ae" stroke-width="1.2" />
<line x1="587" y1="47.45" x2="730.5" y2="47.45" stroke="#f9cfd2" stroke-width="1" />
<line x1="587" y1="64.3" x2="730.5" y2="64.3" stroke="#f7a8ae" stroke-width="1.2" />
<line x1="587" y1="81.15" x2="730.5" y2="81.15" stroke="#f9cfd2" stroke-width="1" />
<line x1="587" y1="98" x2="730.5" y2="98" stroke="#f7a8ae" stroke-width="1.2" />
<line x1="587" y1="114.85" x2="730.5" y2="114.85" stroke="#f9cfd2" stroke-width="1" />
<line x1="587" y1="131.7" x2="730.5" y2="131.7" stroke="#f7a8ae" stroke-width="1.2" />
<line x1="610.92" y1="10.7" x2="610.92" y2="144.8" stroke="#e2e2e2" stroke-width="1" />
<line x1="634.83" y1="10.7" x2="634.83" y2="144.8" stroke="#b0b0b0" stroke-width="1.2" />
<line x1="658.75" y1="10.7" x2="658.75" y2="144.8" stroke="#e2e2e2" stroke-width="1" />
<line x1="682.67" y1="10.7" x2="682.67" y2="144.8" stroke="#b0b0b0" stroke-width="1.2" />
<line x1="706.58" y1="10.7" x2="706.58" y2="144.8" stroke="#e2e2e2" stroke-width="1" />
<polyline points="587.5,27.5 589.5,27.2 591,29 592,40 593,58 594,68 596,76 597.5,81 599,86.5 600.5,82 602,83 603.5,78 604.5,72 606,68.5 608,67 610,62 611.5,50 613,32 614.5,19 616,14.5 617.5,16 619,22 620.5,28 622,33 624,36 626,40 628,41.5 630,42.5 632,46 633.5,54 635,62 636.5,68 638,68.5 640,67.5 642,65.5 644,64.5 645.5,62 647,58.5 649,58.5 651,58 653,61 655,57.5 657,56 659,60 660.5,68 662,76 663.5,82 665,79 667,73 669,70 671,66 673,61.5 675,61 677,55.5 679,56 680.5,52.5 682,50 683.5,45 685,41.5 686.5,46 688,51 690,58 692,66 693.5,73 695,68 697,61 699,60.5 701,55 703,49 705,45 707,40 709,37.5 711,35.5 713,38 715,36 717,34 719,32 721,27 723,28 725,24 727,22 728.5,20 729.5,11" fill="none" stroke="#1a1aff" stroke-width="3.6" stroke-linejoin="round" stroke-linecap="round" />
<polyline points="587.5,95.86 590.1,93.99 592.7,94.41 595.3,94.79 597.9,94.86 600.5,93.89 603.1,96.8 605.7,97.37 608.3,95.26 610.9,95.34 613.5,93.74 616.1,93.81 618.7,94.77 621.3,94.46 623.9,96.72 626.5,94.05 629.1,93.49 631.7,97.2 634.3,95.51 636.9,93.99 639.5,95.57 642.1,93.51 644.7,95.51 647.3,97.31 649.9,96.85 652.5,96.18 655.1,94.44 657.7,94.87 660.3,94.07 662.9,96.49 665.5,95.53 668.1,96.52 670.7,94.72 673.3,94.29 675.9,96.65 678.5,97.34 681.1,96.81 683.7,96.62 686.3,96.67 688.9,96.36 691.5,94.31 694.1,95.47 696.7,94.82 699.3,93.52 701.9,93.51 704.5,94.52 707.1,94.44 709.7,96.17 712.3,97.23 714.9,95.19 717.5,97.15 720.1,97.35 722.7,97.22 725.3,94.86 727.9,94.28" fill="none" stroke="#ff1a1a" stroke-width="2.2" stroke-linejoin="round" stroke-linecap="round" />
<ellipse cx="619.4" cy="96.3" rx="2.6" ry="10" fill="none" stroke="#ff5050" stroke-width="0.8"/>
<line x1="619" y1="103" x2="592" y2="103" stroke="#ff3030" stroke-width="0.9" />
<polygon points="590,103 596,100.8 596,105.2" fill="#ff3030"/>
<ellipse cx="700" cy="58.5" rx="2.8" ry="10.5" fill="none" stroke="#5050ff" stroke-width="0.8"/>
<line x1="700.5" y1="67.5" x2="720" y2="67.5" stroke="#3030ff" stroke-width="0.9" />
<polygon points="722,67.5 716,65.3 716,69.7" fill="#3030ff"/>
<rect x="679.5" y="107.8" width="45.8" height="20.1" fill="#999" opacity="0.5"/>
<rect x="678.2" y="106.4" width="45.8" height="20.1" fill="#fff" stroke="#444" stroke-width="0.8"/>
<line x1="679.5" y1="111.8" x2="695" y2="111.8" stroke="#ff1a1a" stroke-width="1.6" />
<line x1="679.5" y1="121.6" x2="695" y2="121.6" stroke="#1a1aff" stroke-width="2.8" />
<text x="697.6" y="114.8" font-size="8.5" font-weight="normal" fill="#000" textLength="14.5" lengthAdjust="spacingAndGlyphs" stroke="#000" stroke-width="0.3">N.T.</text>
<text x="697.6" y="124.8" font-size="8.5" font-weight="normal" fill="#000" textLength="25" lengthAdjust="spacingAndGlyphs" stroke="#000" stroke-width="0.3">Voltage</text>
<rect x="587" y="10.7" width="143.5" height="134.10000000000002" fill="none" stroke="#111" stroke-width="2"/>
<line x1="587" y1="13.75" x2="589.2" y2="13.75" stroke="#111" stroke-width="1.3" />
<line x1="587" y1="30.6" x2="590.5" y2="30.6" stroke="#111" stroke-width="1.3" />
<line x1="587" y1="47.45" x2="589.2" y2="47.45" stroke="#111" stroke-width="1.3" />
<line x1="587" y1="64.3" x2="590.5" y2="64.3" stroke="#111" stroke-width="1.3" />
<line x1="587" y1="81.15" x2="589.2" y2="81.15" stroke="#111" stroke-width="1.3" />
<line x1="587" y1="98" x2="590.5" y2="98" stroke="#111" stroke-width="1.3" />
<line x1="587" y1="114.85" x2="589.2" y2="114.85" stroke="#111" stroke-width="1.3" />
<line x1="587" y1="131.7" x2="590.5" y2="131.7" stroke="#111" stroke-width="1.3" />
<line x1="730.5" y1="144.6" x2="727" y2="144.6" stroke="#111" stroke-width="1.3" />
<line x1="730.5" y1="125.9" x2="728.3" y2="125.9" stroke="#111" stroke-width="1.3" />
<line x1="730.5" y1="107.2" x2="727" y2="107.2" stroke="#111" stroke-width="1.3" />
<line x1="730.5" y1="88.5" x2="728.3" y2="88.5" stroke="#111" stroke-width="1.3" />
<line x1="730.5" y1="69.8" x2="727" y2="69.8" stroke="#111" stroke-width="1.3" />
<line x1="730.5" y1="51.1" x2="728.3" y2="51.1" stroke="#111" stroke-width="1.3" />
<line x1="730.5" y1="32.4" x2="727" y2="32.4" stroke="#111" stroke-width="1.3" />
<line x1="610.92" y1="144.8" x2="610.92" y2="142.6" stroke="#111" stroke-width="1.3" />
<line x1="610.92" y1="10.7" x2="610.92" y2="12.9" stroke="#111" stroke-width="1.3" />
<line x1="634.83" y1="144.8" x2="634.83" y2="141.3" stroke="#111" stroke-width="1.3" />
<line x1="634.83" y1="10.7" x2="634.83" y2="14.2" stroke="#111" stroke-width="1.3" />
<line x1="658.75" y1="144.8" x2="658.75" y2="142.6" stroke="#111" stroke-width="1.3" />
<line x1="658.75" y1="10.7" x2="658.75" y2="12.9" stroke="#111" stroke-width="1.3" />
<line x1="682.67" y1="144.8" x2="682.67" y2="141.3" stroke="#111" stroke-width="1.3" />
<line x1="682.67" y1="10.7" x2="682.67" y2="14.2" stroke="#111" stroke-width="1.3" />
<line x1="706.58" y1="144.8" x2="706.58" y2="142.6" stroke="#111" stroke-width="1.3" />
<line x1="706.58" y1="10.7" x2="706.58" y2="12.9" stroke="#111" stroke-width="1.3" />
<text x="584.5" y="34.6" font-size="11" font-weight="bold" fill="#000" text-anchor="end" textLength="21.5" lengthAdjust="spacingAndGlyphs" >&#8722;2.0</text>
<text x="584.5" y="68.3" font-size="11" font-weight="bold" fill="#000" text-anchor="end" textLength="21.5" lengthAdjust="spacingAndGlyphs" >&#8722;2.5</text>
<text x="584.5" y="102" font-size="11" font-weight="bold" fill="#000" text-anchor="end" textLength="21.5" lengthAdjust="spacingAndGlyphs" >&#8722;3.0</text>
<text x="584.5" y="135.7" font-size="11" font-weight="bold" fill="#000" text-anchor="end" textLength="21.5" lengthAdjust="spacingAndGlyphs" >&#8722;3.5</text>
<text x="734.5" y="148.6" font-size="11" font-weight="bold" fill="#000" textLength="21" lengthAdjust="spacingAndGlyphs" >0.00</text>
<text x="734.5" y="111.2" font-size="11" font-weight="bold" fill="#000" textLength="21" lengthAdjust="spacingAndGlyphs" >0.25</text>
<text x="734.5" y="73.8" font-size="11" font-weight="bold" fill="#000" textLength="21" lengthAdjust="spacingAndGlyphs" >0.50</text>
<text x="734.5" y="36.4" font-size="11" font-weight="bold" fill="#000" textLength="21" lengthAdjust="spacingAndGlyphs" >0.75</text>
<text x="587" y="158" font-size="11" font-weight="bold" fill="#000" text-anchor="middle" >0</text>
<text x="634.83" y="158" font-size="11" font-weight="bold" fill="#000" text-anchor="middle" >60</text>
<text x="682.67" y="158" font-size="11" font-weight="bold" fill="#000" text-anchor="middle" >120</text>
<text x="730.5" y="158" font-size="11" font-weight="bold" fill="#000" text-anchor="middle" >180</text>
<text x="632.5" y="176.5" font-size="11" font-weight="bold" fill="#000" textLength="53" lengthAdjust="spacingAndGlyphs" >Time (Sec)</text>
<text x="0" y="0" font-size="11.3" font-weight="bold" fill="#000" text-anchor="middle" textLength="137.5" lengthAdjust="spacingAndGlyphs" transform="translate(546.3,77.7) rotate(-90)" >Normalized Transmission</text>
<text x="0" y="0" font-size="11.3" font-weight="bold" fill="#000" text-anchor="middle" textLength="22.7" lengthAdjust="spacingAndGlyphs" transform="translate(560,78) rotate(-90)" >(dB)</text>
<text x="0" y="0" font-size="11.3" font-weight="bold" fill="#000" text-anchor="middle" textLength="81.5" lengthAdjust="spacingAndGlyphs" transform="translate(767.3,77.3) rotate(-90)" >Tuning Voltage</text>
<text x="0" y="0" font-size="11.3" font-weight="bold" fill="#000" text-anchor="middle" textLength="14" lengthAdjust="spacingAndGlyphs" transform="translate(781.4,78) rotate(-90)" >(V)</text>
<line x1="581.8" y1="270.48" x2="732.7" y2="270.48" stroke="#e4e4e4" stroke-width="1" />
<line x1="581.8" y1="210.23" x2="732.7" y2="210.23" stroke="#e4e4e4" stroke-width="1" />
<line x1="581.8" y1="240.35" x2="732.7" y2="240.35" stroke="#b8b8b8" stroke-width="1.2" />
<line x1="581.8" y1="300.6" x2="732.7" y2="300.6" stroke="#e4e4e4" stroke-width="1" />
<line x1="628.85" y1="180.1" x2="628.85" y2="312.5" stroke="#e6e6e6" stroke-width="1" />
<line x1="658.55" y1="180.1" x2="658.55" y2="312.5" stroke="#e6e6e6" stroke-width="1" />
<line x1="688.25" y1="180.1" x2="688.25" y2="312.5" stroke="#e6e6e6" stroke-width="1" />
<line x1="717.95" y1="180.1" x2="717.95" y2="312.5" stroke="#e6e6e6" stroke-width="1" />
<line x1="596.5" y1="180.1" x2="596.5" y2="312.5" stroke="#ececec" stroke-width="1" />
<line x1="643.7" y1="180.1" x2="643.7" y2="312.5" stroke="#f6a0a6" stroke-width="1.1" />
<line x1="673.4" y1="180.1" x2="673.4" y2="312.5" stroke="#f6a0a6" stroke-width="1.1" />
<line x1="703.1" y1="180.1" x2="703.1" y2="312.5" stroke="#f6a0a6" stroke-width="1.1" />
<polyline points="582,300.6 623,300.6 623.5,258 624.3,290 626,296 628,298 630,260 631.2,200 632,181 633,200 634.5,262 636,282 638,292 640,296 642,298.5 644,300 646,295 649,288 652,276 654,270 656.5,265.2 658,264.66 659.5,264.61 661,264.63 662.5,265.3 664,265.74 665.5,265.64 667,265.07 668.5,265.34 670,265.58 671.5,264.44 673,265.36 674.5,265.76 676,265.55 677.5,265.5 679,265.06 680.5,264.59 682,265.56 683.5,264.83 685,265.58 686.5,265.85 688,264.93 689.5,264.94 691,265.81 692.5,265.46 694,264.57 695.5,264.5 697,264.54 698.5,265.75 700,265.59 701.5,264.53 703,265.62 704.5,265.87 706,265.35 707.5,264.86 709,265.18 710.5,264.51 712,264.32 713.5,265.85 715,265.34 716.5,265.14 718,265.79 719.5,264.99 721,265.69 722.5,265.62 724,264.64 725.5,264.7 727,264.77 728.5,264.68 730,265.24 731.5,264.71" fill="none" stroke="#ff8c1a" stroke-width="1.6" stroke-linejoin="round" stroke-linecap="round" />
<polyline points="624,300.6 652,300.6 652.5,274 654,290 655.5,300.6 657,290 659,230 660.8,181 662.5,240 664,285 666,293 669,299 672,296 675,292 679,284 683,272 687,258 691,246 694,241 695,241.11 696.5,240.12 698,240.28 699.5,241.18 701,240.9 702.5,239.69 704,240.18 705.5,240.33 707,240.01 708.5,239.75 710,239.97 711.5,240.7 713,239.44 714.5,240.4 716,240.19 717.5,239.43 719,240 720.5,240.52 722,240.32 723.5,239.52 725,241.17 726.5,240.82 728,241.15 729.5,239.59 731,239.88 732.5,239.47" fill="none" stroke="#1f1fff" stroke-width="1.6" stroke-linejoin="round" stroke-linecap="round" />
<polyline points="614.4,211 615,240 616,268 617,285 618,291 619,292 620,286 621,291 622,298 622.8,240 623.6,181 624.6,240 625.5,285 626.5,291 627.5,293.01 628.5,291.29 629.5,295.96 630.5,292.62 631.5,293.25 632.5,294 633.5,295.93 634.5,293.02 635.5,296.01 636.5,293.51 637.5,293.69 638.5,293.64 639.5,290.61 640.5,293.14 641.5,291.6 642.5,290.52 644,290 646,282 648,272 650,262 652,248 654,232 656,214 657,210.5 658.5,211.04 660,209.91 661.5,210.45 663,210.91 664.5,210.6 666,210.19 667.5,210.53 669,210.6 670.5,211.01 672,209.79 673.5,210.61 675,210.05 676.5,210.1 678,210.99 679.5,210.51 681,210.61 682.5,210.97 684,211.24 685.5,210.4 687,210.7 688.5,210.51 690,210.52 691.5,210.85 693,210.41 694.5,210.56 696,210.46 697.5,211.29 699,210.86 700.5,211.18 702,211.3 703.5,210.07 705,210.61 706.5,211.3 708,211.11 709.5,209.85 711,209.82 712.5,210.4 714,209.73 715.5,210.03 717,209.73 718.5,210.81 720,211.01 721.5,211.21 723,209.88 724.5,210.89 726,210.79 727.5,209.86 729,211.19 730.5,211.34 732,210" fill="none" stroke="#1e9a1e" stroke-width="1.6" stroke-linejoin="round" stroke-linecap="round" />
<rect x="686.5" y="275.3" width="42.6" height="29.8" fill="#999" opacity="0.5"/>
<rect x="685.2" y="274" width="42.6" height="29.8" fill="#fff" stroke="#444" stroke-width="0.8"/>
<line x1="687" y1="280" x2="703" y2="280" stroke="#1e9a1e" stroke-width="1.8" />
<line x1="687" y1="290" x2="703" y2="290" stroke="#1f1fff" stroke-width="1.8" />
<line x1="687" y1="299.4" x2="703" y2="299.4" stroke="#ff8c1a" stroke-width="1.8" />
<text x="704.5" y="283" font-size="8.5" font-weight="normal" fill="#000" textLength="13.5" lengthAdjust="spacingAndGlyphs" stroke="#000" stroke-width="0.3">6dB</text>
<text x="704.5" y="293" font-size="8.5" font-weight="normal" fill="#000" textLength="13.5" lengthAdjust="spacingAndGlyphs" stroke="#000" stroke-width="0.3">3dB</text>
<text x="704.5" y="302.4" font-size="8.5" font-weight="normal" fill="#000" textLength="21.5" lengthAdjust="spacingAndGlyphs" stroke="#000" stroke-width="0.3">1.5dB</text>
<path d="M581.8,312.5 V180.1 H610 M617,180.1 H732.7 V312.5 H617 M610,312.5 H581.8" fill="none" stroke="#111" stroke-width="2"/>
<line x1="609" y1="182.6" x2="613.5" y2="177.6" stroke="#111" stroke-width="1.4" />
<line x1="613.5" y1="182.6" x2="618" y2="177.6" stroke="#111" stroke-width="1.4" />
<line x1="609" y1="315" x2="613.5" y2="310" stroke="#111" stroke-width="1.4" />
<line x1="613.5" y1="315" x2="618" y2="310" stroke="#111" stroke-width="1.4" />
<line x1="581.8" y1="270.48" x2="584" y2="270.48" stroke="#111" stroke-width="1.3" />
<line x1="732.7" y1="270.48" x2="730.5" y2="270.48" stroke="#111" stroke-width="1.3" />
<line x1="581.8" y1="240.35" x2="585.3" y2="240.35" stroke="#111" stroke-width="1.3" />
<line x1="732.7" y1="240.35" x2="729.2" y2="240.35" stroke="#111" stroke-width="1.3" />
<line x1="581.8" y1="210.23" x2="584" y2="210.23" stroke="#111" stroke-width="1.3" />
<line x1="732.7" y1="210.23" x2="730.5" y2="210.23" stroke="#111" stroke-width="1.3" />
<line x1="581.8" y1="300.6" x2="585.3" y2="300.6" stroke="#111" stroke-width="1.3" />
<line x1="732.7" y1="300.6" x2="729.2" y2="300.6" stroke="#111" stroke-width="1.3" />
<line x1="628.85" y1="312.5" x2="628.85" y2="310.3" stroke="#111" stroke-width="1.3" />
<line x1="628.85" y1="180.1" x2="628.85" y2="182.3" stroke="#111" stroke-width="1.3" />
<line x1="643.7" y1="312.5" x2="643.7" y2="309" stroke="#111" stroke-width="1.3" />
<line x1="643.7" y1="180.1" x2="643.7" y2="183.6" stroke="#111" stroke-width="1.3" />
<line x1="658.55" y1="312.5" x2="658.55" y2="310.3" stroke="#111" stroke-width="1.3" />
<line x1="658.55" y1="180.1" x2="658.55" y2="182.3" stroke="#111" stroke-width="1.3" />
<line x1="673.4" y1="312.5" x2="673.4" y2="309" stroke="#111" stroke-width="1.3" />
<line x1="673.4" y1="180.1" x2="673.4" y2="183.6" stroke="#111" stroke-width="1.3" />
<line x1="688.25" y1="312.5" x2="688.25" y2="310.3" stroke="#111" stroke-width="1.3" />
<line x1="688.25" y1="180.1" x2="688.25" y2="182.3" stroke="#111" stroke-width="1.3" />
<line x1="703.1" y1="312.5" x2="703.1" y2="309" stroke="#111" stroke-width="1.3" />
<line x1="703.1" y1="180.1" x2="703.1" y2="183.6" stroke="#111" stroke-width="1.3" />
<line x1="717.95" y1="312.5" x2="717.95" y2="310.3" stroke="#111" stroke-width="1.3" />
<line x1="717.95" y1="180.1" x2="717.95" y2="182.3" stroke="#111" stroke-width="1.3" />
<line x1="596.5" y1="312.5" x2="596.5" y2="310.3" stroke="#111" stroke-width="1.3" />
<text x="578" y="184.1" font-size="11" font-weight="bold" fill="#000" text-anchor="end" textLength="15" lengthAdjust="spacingAndGlyphs" >1.0</text>
<text x="578" y="244.35" font-size="11" font-weight="bold" fill="#000" text-anchor="end" textLength="15" lengthAdjust="spacingAndGlyphs" >0.5</text>
<text x="578" y="304.6" font-size="11" font-weight="bold" fill="#000" text-anchor="end" textLength="15" lengthAdjust="spacingAndGlyphs" >0.0</text>
<text x="581.8" y="324.8" font-size="11" font-weight="bold" fill="#000" text-anchor="middle" >0</text>
<text x="643.7" y="324.8" font-size="11" font-weight="bold" fill="#000" text-anchor="middle" >7</text>
<text x="673.4" y="324.8" font-size="11" font-weight="bold" fill="#000" text-anchor="middle" >8</text>
<text x="703.1" y="324.8" font-size="11" font-weight="bold" fill="#000" text-anchor="middle" >9</text>
<text x="732.8" y="324.8" font-size="11" font-weight="bold" fill="#000" text-anchor="middle" >10</text>
<text x="629.4" y="343.5" font-size="11" font-weight="bold" fill="#000" textLength="56" lengthAdjust="spacingAndGlyphs" >Time (Sec)</text>
<text x="0" y="0" font-size="11.3" font-weight="bold" fill="#000" text-anchor="middle" textLength="136.7" lengthAdjust="spacingAndGlyphs" transform="translate(546,246.3) rotate(-90)" >Normalized Transmission</text>
<text x="0" y="0" font-size="11.3" font-weight="bold" fill="#000" text-anchor="middle" textLength="41.2" lengthAdjust="spacingAndGlyphs" transform="translate(560.5,246.3) rotate(-90)" >(Linear)</text>
<rect x="27" y="350.5" width="204.5" height="141.5" fill="#000"/>
<g clip-path="url(#k1)">
<g filter="url(#fTX)"><rect x="27" y="350.5" width="204.5" height="141.5" fill="#000" fill-opacity="0.0"/>
<g fill="none" stroke="#fff" stroke-width="10" stroke-opacity="0.2">
<path d="M-31.6,383.8 -30.1,383.8 -22.0,383.9 -13.9,384.2 -5.8,384.7 2.3,385.3 10.4,385.9 18.5,386.5 26.6,387.1 34.7,387.6 42.8,387.9 50.9,388.0 49.4,388.0"/>
<path d="M-31.6,385.7 -31.7,385.7 -23.6,385.6 -15.5,385.5 -7.4,385.2 0.7,384.9 8.8,384.6 16.9,384.3 25.0,384.0 33.1,383.7 41.2,383.6 49.3,383.5 49.4,383.5"/>
<path d="M-31.6,388.2 -33.4,388.2 -25.3,388.3 -17.2,388.4 -9.1,388.6 -1.0,388.8 7.1,389.0 15.2,389.3 23.3,389.5 31.4,389.7 39.5,389.8 47.6,389.9 49.4,389.9"/>
<path d="M-31.6,383.6 -30.9,383.6 -22.8,383.8 -14.7,384.1 -6.6,384.7 1.5,385.4 9.6,386.2 17.7,387.0 25.8,387.8 33.9,388.3 42.0,388.7 50.1,388.8 49.4,388.8"/>
<path d="M-31.6,391.0 -31.8,391.0 -23.7,391.0 -15.6,390.9 -7.5,390.7 0.6,390.5 8.7,390.3 16.8,390.0 24.9,389.8 33.0,389.7 41.1,389.6 49.2,389.6 49.4,389.6"/>
<path d="M-31.6,386.3 -32.0,386.3 -23.9,386.5 -15.8,387.0 -7.7,387.8 0.4,388.8 8.5,390.0 16.6,391.1 24.7,392.2 32.8,393.0 40.9,393.5 49.0,393.7 49.4,393.7"/>
<path d="M-31.6,385.0 -31.5,385.0 -23.4,384.9 -15.3,384.9 -7.2,384.8 0.9,384.6 9.0,384.5 17.1,384.4 25.2,384.2 33.3,384.1 41.4,384.1 49.5,384.0 49.4,384.0"/>
<path d="M-31.6,387.4 -31.7,387.4 -23.6,387.3 -15.5,387.3 -7.4,387.1 0.7,386.9 8.8,386.7 16.9,386.5 25.0,386.4 33.1,386.2 41.2,386.1 49.3,386.1 49.4,386.1"/>
<path d="M-31.6,387.7 -30.0,387.7 -21.9,389.3 -13.8,393.9 -5.7,401.1 2.4,410.2 10.5,420.3 18.6,430.3 26.7,439.4 34.8,446.6 42.9,451.2 51.0,452.8 49.4,452.8"/>
<path d="M-31.6,387.5 -30.5,387.5 -22.4,389.0 -14.3,393.2 -6.2,399.7 1.9,407.9 10.0,416.9 18.1,426.0 26.2,434.2 34.3,440.7 42.4,444.9 50.5,446.3 49.4,446.3"/>
<path d="M-31.6,383.3 -33.8,383.3 -25.7,385.0 -17.6,389.7 -9.5,397.2 -1.4,406.5 6.7,416.9 14.8,427.3 22.9,436.7 31.0,444.1 39.1,448.9 47.2,450.6 49.4,450.6"/>
<path d="M-31.6,387.0 -31.3,387.0 -23.2,388.5 -15.1,392.9 -7.0,399.8 1.1,408.4 9.2,418.0 17.3,427.6 25.4,436.2 33.5,443.1 41.6,447.5 49.7,449.0 49.4,449.0"/>
<path d="M-31.6,395.6 -30.3,395.6 -22.2,396.9 -14.1,400.9 -6.0,407.0 2.1,414.7 10.2,423.2 18.3,431.8 26.4,439.5 34.5,445.6 42.6,449.5 50.7,450.9 49.4,450.9"/>
<path d="M-31.6,383.6 -30.6,383.6 -22.5,385.2 -14.4,389.9 -6.3,397.3 1.8,406.6 9.9,416.9 18.0,427.2 26.1,436.5 34.2,443.9 42.3,448.6 50.4,450.3 49.4,450.3"/>
<path d="M-31.6,386.8 -31.4,386.8 -23.3,388.4 -15.2,393.0 -7.1,400.2 1.0,409.3 9.1,419.4 17.2,429.4 25.3,438.5 33.4,445.7 41.5,450.4 49.6,452.0 49.4,452.0"/>
<path d="M-31.6,384.4 -32.8,384.4 -24.7,386.1 -16.6,390.9 -8.5,398.4 -0.4,407.9 7.7,418.4 15.8,428.9 23.9,438.4 32.0,446.0 40.1,450.8 48.2,452.5 49.4,452.5"/>
<path d="M-31.6,455.9 -30.6,455.9 -22.5,454.1 -14.4,449.2 -6.3,441.4 1.8,431.6 9.9,420.8 18.0,409.9 26.1,400.2 34.2,392.4 42.3,387.4 50.4,385.7 49.4,385.7"/>
<path d="M-31.6,451.0 -32.5,451.0 -24.4,449.5 -16.3,445.1 -8.2,438.3 -0.1,429.7 8.0,420.2 16.1,410.7 24.2,402.2 32.3,395.4 40.4,391.0 48.5,389.5 49.4,389.5"/>
<path d="M-31.6,453.6 -29.7,453.6 -21.6,452.0 -13.5,447.2 -5.4,439.8 2.7,430.5 10.8,420.1 18.9,409.8 27.0,400.5 35.1,393.1 43.2,388.3 51.3,386.7 49.4,386.7"/>
<path d="M-31.6,452.6 -32.8,452.6 -24.7,451.0 -16.6,446.4 -8.5,439.2 -0.4,430.1 7.7,420.0 15.8,409.9 23.9,400.8 32.0,393.6 40.1,389.0 48.2,387.4 49.4,387.4"/>
<path d="M-31.6,453.0 -29.1,453.0 -21.0,451.4 -12.9,446.8 -4.8,439.6 3.3,430.6 11.4,420.6 19.5,410.6 27.6,401.6 35.7,394.4 43.8,389.8 51.9,388.2 49.4,388.2"/>
<path d="M-31.6,450.0 -30.8,450.0 -22.7,448.5 -14.6,444.1 -6.5,437.3 1.6,428.7 9.7,419.2 17.8,409.7 25.9,401.1 34.0,394.3 42.1,389.9 50.2,388.4 49.4,388.4"/>
<path d="M-31.6,451.7 -31.3,451.7 -23.2,450.2 -15.1,445.6 -7.0,438.5 1.1,429.6 9.2,419.6 17.3,409.7 25.4,400.8 33.5,393.7 41.6,389.1 49.7,387.5 49.4,387.5"/>
<path d="M-31.6,449.4 -32.2,449.4 -24.1,447.9 -16.0,443.2 -7.9,436.0 0.2,427.0 8.3,416.9 16.4,406.8 24.5,397.8 32.6,390.6 40.7,386.0 48.8,384.4 49.4,384.4"/>
<path d="M-31.6,452.5 -30.1,452.5 -22.0,452.6 -13.9,452.8 -5.8,453.0 2.3,453.4 10.4,453.7 18.5,454.1 26.6,454.4 34.7,454.7 42.8,454.9 50.9,454.9 49.4,454.9"/>
<path d="M-31.6,453.7 -30.6,453.7 -22.5,453.7 -14.4,453.7 -6.3,453.6 1.8,453.5 9.9,453.4 18.0,453.3 26.1,453.2 34.2,453.1 42.3,453.0 50.4,453.0 49.4,453.0"/>
<path d="M-31.6,451.5 -28.9,451.5 -20.8,451.5 -12.7,451.6 -4.6,451.8 3.5,452.0 11.6,452.2 19.7,452.5 27.8,452.7 35.9,452.9 44.0,453.0 52.1,453.0 49.4,453.0"/>
<path d="M-31.6,450.1 -28.7,450.1 -20.6,450.1 -12.5,450.1 -4.4,450.0 3.7,449.8 11.8,449.7 19.9,449.5 28.0,449.4 36.1,449.3 44.2,449.2 52.3,449.2 49.4,449.2"/>
<path d="M-31.6,451.6 -30.3,451.6 -22.2,451.7 -14.1,451.8 -6.0,452.0 2.1,452.3 10.2,452.6 18.3,452.9 26.4,453.1 34.5,453.3 42.6,453.5 50.7,453.5 49.4,453.5"/>
<path d="M-31.6,448.0 -28.9,448.0 -20.8,448.3 -12.7,448.9 -4.6,450.0 3.5,451.3 11.6,452.7 19.7,454.1 27.8,455.4 35.9,456.4 44.0,457.1 52.1,457.3 49.4,457.3"/>
<path d="M-31.6,451.5 -31.4,451.5 -23.3,451.5 -15.2,451.6 -7.1,451.8 1.0,452.0 9.1,452.2 17.2,452.4 25.3,452.6 33.4,452.8 41.5,452.9 49.6,453.0 49.4,453.0"/>
<path d="M-31.6,448.7 -31.0,448.7 -22.9,448.8 -14.8,448.9 -6.7,449.1 1.4,449.4 9.5,449.7 17.6,450.0 25.7,450.3 33.8,450.5 41.9,450.7 50.0,450.7 49.4,450.7"/>
<path d="M49.4,389.9 49.5,389.9 57.6,389.9 65.7,389.8 73.8,389.7 81.9,389.5 90.0,389.4 98.1,389.2 106.2,389.1 114.3,388.9 122.4,388.9 130.5,388.8 130.4,388.8"/>
<path d="M49.4,390.5 50.6,390.5 58.7,390.4 66.8,390.0 74.9,389.4 83.0,388.6 91.1,387.8 99.2,386.9 107.3,386.2 115.4,385.5 123.5,385.2 131.6,385.0 130.4,385.0"/>
<path d="M49.4,389.9 46.7,389.9 54.8,389.8 62.9,389.5 71.0,389.1 79.1,388.6 87.2,388.1 95.3,387.5 103.4,387.0 111.5,386.6 119.6,386.3 127.7,386.2 130.4,386.2"/>
<path d="M49.4,384.6 50.2,384.6 58.3,384.7 66.4,384.9 74.5,385.3 82.6,385.7 90.7,386.1 98.8,386.6 106.9,387.0 115.0,387.3 123.1,387.5 131.2,387.6 130.4,387.6"/>
<path d="M49.4,391.0 49.4,391.0 57.5,390.9 65.6,390.4 73.7,389.7 81.8,388.7 89.9,387.7 98.0,386.7 106.1,385.8 114.2,385.0 122.3,384.6 130.4,384.4 130.4,384.4"/>
<path d="M49.4,388.7 45.8,388.7 53.9,388.6 62.0,388.5 70.1,388.3 78.2,388.0 86.3,387.6 94.4,387.3 102.5,387.0 110.6,386.8 118.7,386.6 126.8,386.6 130.4,386.6"/>
<path d="M49.4,389.1 50.9,389.1 59.0,389.2 67.1,389.5 75.2,389.9 83.3,390.4 91.4,391.1 99.5,391.7 107.6,392.2 115.7,392.6 123.8,392.9 131.9,393.0 130.4,393.0"/>
<path d="M49.4,384.6 49.7,384.6 57.8,384.6 65.9,384.7 74.0,384.9 82.1,385.1 90.2,385.3 98.3,385.5 106.4,385.7 114.5,385.8 122.6,385.9 130.7,385.9 130.4,385.9"/>
<path d="M49.4,393.5 49.6,393.5 57.7,394.9 65.8,399.1 73.9,405.7 82.0,413.9 90.1,423.0 98.2,432.2 106.3,440.4 114.4,447.0 122.5,451.2 130.6,452.6 130.4,452.6"/>
<path d="M49.4,391.0 52.2,391.0 60.3,392.5 68.4,396.8 76.5,403.4 84.6,411.7 92.7,420.9 100.8,430.1 108.9,438.5 117.0,445.1 125.1,449.3 133.2,450.8 130.4,450.8"/>
<path d="M49.4,385.2 50.5,385.2 58.6,386.8 66.7,391.4 74.8,398.5 82.9,407.5 91.0,417.5 99.1,427.5 107.2,436.5 115.3,443.6 123.4,448.2 131.5,449.8 130.4,449.8"/>
<path d="M49.4,390.7 49.9,390.7 58.0,392.2 66.1,396.6 74.2,403.5 82.3,412.1 90.4,421.7 98.5,431.3 106.6,439.9 114.7,446.8 122.8,451.2 130.9,452.7 130.4,452.7"/>
<path d="M49.4,382.3 48.5,382.3 56.6,383.9 64.7,388.7 72.8,396.0 80.9,405.4 89.0,415.7 97.1,426.0 105.2,435.4 113.3,442.8 121.4,447.5 129.5,449.1 130.4,449.1"/>
<path d="M49.4,385.6 48.9,385.6 57.0,387.3 65.1,392.0 73.2,399.4 81.3,408.7 89.4,419.1 97.5,429.4 105.6,438.7 113.7,446.1 121.8,450.9 129.9,452.5 130.4,452.5"/>
<path d="M49.4,389.0 48.9,389.0 57.0,390.6 65.1,395.0 73.2,401.9 81.3,410.5 89.4,420.1 97.5,429.7 105.6,438.4 113.7,445.3 121.8,449.7 129.9,451.2 130.4,451.2"/>
<path d="M49.4,387.3 50.7,387.3 58.8,388.9 66.9,393.5 75.0,400.7 83.1,409.7 91.2,419.7 99.3,429.7 107.4,438.8 115.5,445.9 123.6,450.5 131.7,452.1 130.4,452.1"/>
<path d="M49.4,449.8 47.4,449.8 55.5,448.2 63.6,443.7 71.7,436.7 79.8,427.9 87.9,418.1 96.0,408.3 104.1,399.5 112.2,392.4 120.3,387.9 128.4,386.4 130.4,386.4"/>
<path d="M49.4,455.2 49.1,455.2 57.2,453.6 65.3,449.0 73.4,441.9 81.5,432.9 89.6,423.0 97.7,413.0 105.8,404.0 113.9,396.9 122.0,392.4 130.1,390.8 130.4,390.8"/>
<path d="M49.4,449.8 49.7,449.8 57.8,448.1 65.9,443.5 74.0,436.2 82.1,427.0 90.2,416.8 98.3,406.6 106.4,397.4 114.5,390.1 122.6,385.4 130.7,383.8 130.4,383.8"/>
<path d="M49.4,451.5 49.8,451.5 57.9,450.1 66.0,445.9 74.1,439.4 82.2,431.2 90.3,422.1 98.4,413.0 106.5,404.8 114.6,398.3 122.7,394.1 130.8,392.7 130.4,392.7"/>
<path d="M49.4,449.0 51.5,449.0 59.6,447.3 67.7,442.5 75.8,434.9 83.9,425.4 92.0,414.8 100.1,404.3 108.2,394.7 116.3,387.2 124.4,382.3 132.5,380.6 130.4,380.6"/>
<path d="M49.4,451.5 49.7,451.5 57.8,449.8 65.9,444.9 74.0,437.3 82.1,427.8 90.2,417.2 98.3,406.5 106.4,397.0 114.5,389.4 122.6,384.5 130.7,382.8 130.4,382.8"/>
<path d="M49.4,446.8 51.1,446.8 59.2,445.6 67.3,442.0 75.4,436.4 83.5,429.3 91.6,421.4 99.7,413.6 107.8,406.5 115.9,400.9 124.0,397.3 132.1,396.0 130.4,396.0"/>
<path d="M49.4,452.5 46.2,452.5 54.3,450.9 62.4,446.2 70.5,438.9 78.6,429.7 86.7,419.5 94.8,409.3 102.9,400.1 111.0,392.8 119.1,388.2 127.2,386.5 130.4,386.5"/>
<path d="M49.4,450.7 50.3,450.7 58.4,450.6 66.5,450.3 74.6,449.9 82.7,449.4 90.8,448.8 98.9,448.2 107.0,447.7 115.1,447.3 123.2,447.0 131.3,447.0 130.4,447.0"/>
<path d="M49.4,445.4 51.2,445.4 59.3,445.5 67.4,445.7 75.5,446.1 83.6,446.5 91.7,447.0 99.8,447.5 107.9,448.0 116.0,448.3 124.1,448.6 132.2,448.6 130.4,448.6"/>
<path d="M49.4,455.3 47.1,455.3 55.2,455.1 63.3,454.6 71.4,453.8 79.5,452.7 87.6,451.6 95.7,450.5 103.8,449.4 111.9,448.6 120.0,448.1 128.1,447.9 130.4,447.9"/>
<path d="M49.4,453.3 47.9,453.3 56.0,453.3 64.1,453.3 72.2,453.3 80.3,453.3 88.4,453.3 96.5,453.2 104.6,453.2 112.7,453.2 120.8,453.2 128.9,453.2 130.4,453.2"/>
<path d="M49.4,449.2 47.6,449.2 55.7,449.2 63.8,449.2 71.9,449.2 80.0,449.2 88.1,449.2 96.2,449.2 104.3,449.2 112.4,449.2 120.5,449.2 128.6,449.2 130.4,449.2"/>
<path d="M49.4,449.2 50.4,449.2 58.5,449.4 66.6,449.7 74.7,450.3 82.8,451.0 90.9,451.7 99.0,452.5 107.1,453.2 115.2,453.8 123.3,454.1 131.4,454.3 130.4,454.3"/>
<path d="M49.4,456.3 49.2,456.3 57.3,456.2 65.4,455.8 73.5,455.2 81.6,454.4 89.7,453.6 97.8,452.7 105.9,451.9 114.0,451.3 122.1,450.9 130.2,450.8 130.4,450.8"/>
<path d="M49.4,448.4 47.4,448.4 55.5,448.5 63.6,448.7 71.7,448.9 79.8,449.2 87.9,449.6 96.0,449.9 104.1,450.2 112.2,450.5 120.3,450.6 128.4,450.7 130.4,450.7"/>
<path d="M130.4,382.4 132.6,382.4 140.7,382.5 148.8,383.0 156.9,383.7 165.0,384.6 173.1,385.6 181.2,386.6 189.3,387.5 197.4,388.2 205.5,388.7 213.6,388.8 211.4,388.8"/>
<path d="M130.4,389.2 130.8,389.2 138.9,389.2 147.0,389.3 155.1,389.4 163.2,389.6 171.3,389.8 179.4,390.0 187.5,390.2 195.6,390.3 203.7,390.4 211.8,390.5 211.4,390.5"/>
<path d="M130.4,385.1 129.8,385.1 137.9,385.2 146.0,385.3 154.1,385.6 162.2,385.9 170.3,386.2 178.4,386.5 186.5,386.8 194.6,387.0 202.7,387.2 210.8,387.2 211.4,387.2"/>
<path d="M130.4,384.1 128.2,384.1 136.3,384.1 144.4,384.0 152.5,383.8 160.6,383.6 168.7,383.4 176.8,383.1 184.9,382.9 193.0,382.7 201.1,382.6 209.2,382.6 211.4,382.6"/>
<path d="M130.4,387.0 129.7,387.0 137.8,387.0 145.9,387.0 154.0,387.1 162.1,387.1 170.2,387.2 178.3,387.3 186.4,387.3 194.5,387.4 202.6,387.4 210.7,387.4 211.4,387.4"/>
<path d="M130.4,390.7 131.3,390.7 139.4,390.6 147.5,390.4 155.6,390.0 163.7,389.6 171.8,389.1 179.9,388.6 188.0,388.1 196.1,387.8 204.2,387.5 212.3,387.5 211.4,387.5"/>
<path d="M130.4,390.2 127.4,390.2 135.5,390.0 143.6,389.7 151.7,389.1 159.8,388.3 167.9,387.5 176.0,386.7 184.1,386.0 192.2,385.4 200.3,385.0 208.4,384.9 211.4,384.9"/>
<path d="M130.4,389.0 132.4,389.0 140.5,388.9 148.6,388.6 156.7,388.2 164.8,387.7 172.9,387.1 181.0,386.5 189.1,386.0 197.2,385.6 205.3,385.3 213.4,385.2 211.4,385.2"/>
<path d="M130.4,387.9 131.5,387.9 139.6,389.5 147.7,394.2 155.8,401.4 163.9,410.6 172.0,420.7 180.1,430.9 188.2,440.1 196.3,447.3 204.4,452.0 212.5,453.6 211.4,453.6"/>
<path d="M130.4,381.6 129.4,381.6 137.5,383.3 145.6,388.4 153.7,396.3 161.8,406.2 169.9,417.2 178.0,428.2 186.1,438.2 194.2,446.1 202.3,451.1 210.4,452.9 211.4,452.9"/>
<path d="M130.4,385.0 131.6,385.0 139.7,386.6 147.8,391.2 155.9,398.4 164.0,407.4 172.1,417.5 180.2,427.5 188.3,436.5 196.4,443.7 204.5,448.3 212.6,449.9 211.4,449.9"/>
<path d="M130.4,389.3 127.9,389.3 136.0,390.9 144.1,395.4 152.2,402.6 160.3,411.5 168.4,421.5 176.5,431.4 184.6,440.4 192.7,447.5 200.8,452.1 208.9,453.6 211.4,453.6"/>
<path d="M130.4,385.5 130.2,385.5 138.3,386.9 146.4,391.1 154.5,397.7 162.6,406.0 170.7,415.1 178.8,424.3 186.9,432.6 195.0,439.2 203.1,443.4 211.2,444.8 211.4,444.8"/>
<path d="M130.4,388.6 130.8,388.6 138.9,390.0 147.0,394.3 155.1,401.0 163.2,409.4 171.3,418.8 179.4,428.1 187.5,436.6 195.6,443.2 203.7,447.5 211.8,449.0 211.4,449.0"/>
<path d="M130.4,387.6 129.2,387.6 137.3,389.2 145.4,393.9 153.5,401.2 161.6,410.4 169.7,420.6 177.8,430.8 185.9,440.0 194.0,447.3 202.1,452.0 210.2,453.6 211.4,453.6"/>
<path d="M130.4,384.8 133.0,384.8 141.1,386.4 149.2,391.0 157.3,398.1 165.4,407.0 173.5,416.9 181.6,426.8 189.7,435.8 197.8,442.9 205.9,447.4 214.0,449.0 211.4,449.0"/>
<path d="M130.4,453.8 130.7,453.8 138.8,452.2 146.9,447.4 155.0,440.0 163.1,430.6 171.2,420.3 179.3,409.9 187.4,400.5 195.5,393.1 203.6,388.3 211.7,386.7 211.4,386.7"/>
<path d="M130.4,451.3 130.1,451.3 138.2,449.7 146.3,445.2 154.4,438.2 162.5,429.3 170.6,419.4 178.7,409.6 186.8,400.7 194.9,393.6 203.0,389.1 211.1,387.5 211.4,387.5"/>
<path d="M130.4,450.1 129.4,450.1 137.5,448.5 145.6,443.8 153.7,436.4 161.8,427.2 169.9,416.9 178.0,406.7 186.1,397.4 194.2,390.1 202.3,385.4 210.4,383.7 211.4,383.7"/>
<path d="M130.4,455.3 130.5,455.3 138.6,453.7 146.7,448.9 154.8,441.5 162.9,432.2 171.0,421.8 179.1,411.5 187.2,402.2 195.3,394.8 203.4,390.0 211.5,388.4 211.4,388.4"/>
<path d="M130.4,450.4 130.9,450.4 139.0,448.9 147.1,444.4 155.2,437.4 163.3,428.6 171.4,418.8 179.5,409.0 187.6,400.2 195.7,393.2 203.8,388.7 211.9,387.2 211.4,387.2"/>
<path d="M130.4,449.3 130.8,449.3 138.9,447.8 147.0,443.4 155.1,436.6 163.2,428.0 171.3,418.4 179.4,408.9 187.5,400.3 195.6,393.4 203.7,389.0 211.8,387.5 211.4,387.5"/>
<path d="M130.4,449.1 128.9,449.1 137.0,447.5 145.1,442.9 153.2,435.8 161.3,426.9 169.4,417.0 177.5,407.1 185.6,398.2 193.7,391.1 201.8,386.5 209.9,384.9 211.4,384.9"/>
<path d="M130.4,448.2 126.9,448.2 135.0,446.8 143.1,442.6 151.2,436.1 159.3,427.9 167.4,418.8 175.5,409.7 183.6,401.5 191.7,394.9 199.8,390.8 207.9,389.3 211.4,389.3"/>
<path d="M130.4,450.3 129.5,450.3 137.6,450.3 145.7,450.2 153.8,450.1 161.9,450.0 170.0,449.9 178.1,449.7 186.2,449.6 194.3,449.5 202.4,449.4 210.5,449.4 211.4,449.4"/>
<path d="M130.4,451.3 130.5,451.3 138.6,451.3 146.7,451.5 154.8,451.8 162.9,452.2 171.0,452.6 179.1,453.0 187.2,453.4 195.3,453.7 203.4,453.9 211.5,453.9 211.4,453.9"/>
<path d="M130.4,450.6 130.2,450.6 138.3,450.6 146.4,450.5 154.5,450.4 162.6,450.2 170.7,450.0 178.8,449.8 186.9,449.7 195.0,449.5 203.1,449.4 211.2,449.4 211.4,449.4"/>
<path d="M130.4,453.4 128.7,453.4 136.8,453.3 144.9,453.0 153.0,452.7 161.1,452.2 169.2,451.7 177.3,451.1 185.4,450.7 193.5,450.3 201.6,450.1 209.7,450.0 211.4,450.0"/>
<path d="M130.4,447.7 128.3,447.7 136.4,447.7 144.5,447.8 152.6,447.8 160.7,447.9 168.8,447.9 176.9,448.0 185.0,448.0 193.1,448.1 201.2,448.1 209.3,448.1 211.4,448.1"/>
<path d="M130.4,453.9 130.0,453.9 138.1,453.8 146.2,453.7 154.3,453.5 162.4,453.2 170.5,452.9 178.6,452.6 186.7,452.3 194.8,452.1 202.9,452.0 211.0,451.9 211.4,451.9"/>
<path d="M130.4,454.8 131.5,454.8 139.6,454.7 147.7,454.3 155.8,453.7 163.9,452.9 172.0,452.0 180.1,451.2 188.2,450.4 196.3,449.8 204.4,449.4 212.5,449.3 211.4,449.3"/>
<path d="M130.4,453.1 128.1,453.1 136.2,452.9 144.3,452.5 152.4,451.8 160.5,451.0 168.6,450.0 176.7,449.1 184.8,448.2 192.9,447.6 201.0,447.1 209.1,447.0 211.4,447.0"/>
<path d="M211.4,384.6 213.3,384.6 221.4,384.7 229.5,385.0 237.6,385.6 245.7,386.2 253.8,387.0 261.9,387.7 270.0,388.4 278.1,388.9 286.2,389.2 294.3,389.4 292.4,389.4"/>
<path d="M211.4,383.8 210.8,383.8 218.9,384.0 227.0,384.4 235.1,385.0 243.2,385.9 251.3,386.8 259.4,387.7 267.5,388.5 275.6,389.2 283.7,389.6 291.8,389.7 292.4,389.7"/>
<path d="M211.4,386.0 210.9,386.0 219.0,386.0 227.1,385.9 235.2,385.9 243.3,385.8 251.4,385.8 259.5,385.7 267.6,385.7 275.7,385.6 283.8,385.6 291.9,385.6 292.4,385.6"/>
<path d="M211.4,382.3 209.5,382.3 217.6,382.3 225.7,382.5 233.8,382.7 241.9,383.0 250.0,383.3 258.1,383.7 266.2,384.0 274.3,384.2 282.4,384.3 290.5,384.4 292.4,384.4"/>
<path d="M211.4,388.3 215.5,388.3 223.6,388.4 231.7,388.7 239.8,389.1 247.9,389.7 256.0,390.4 264.1,391.0 272.2,391.6 280.3,392.0 288.4,392.3 296.5,392.4 292.4,392.4"/>
<path d="M211.4,386.1 210.8,386.1 218.9,386.0 227.0,385.8 235.1,385.4 243.2,384.9 251.3,384.3 259.4,383.8 267.5,383.3 275.6,382.9 283.7,382.6 291.8,382.5 292.4,382.5"/>
<path d="M211.4,384.6 212.3,384.6 220.4,384.7 228.5,385.3 236.6,386.1 244.7,387.2 252.8,388.4 260.9,389.5 269.0,390.6 277.1,391.4 285.2,392.0 293.3,392.2 292.4,392.2"/>
<path d="M211.4,385.1 212.2,385.1 220.3,385.2 228.4,385.5 236.5,386.0 244.6,386.6 252.7,387.3 260.8,387.9 268.9,388.5 277.0,389.0 285.1,389.3 293.2,389.4 292.4,389.4"/>
<path d="M211.4,382.8 211.0,382.8 219.1,384.4 227.2,389.2 235.3,396.6 243.4,405.9 251.5,416.2 259.6,426.5 267.7,435.8 275.8,443.2 283.9,448.0 292.0,449.6 292.4,449.6"/>
<path d="M211.4,387.0 210.9,387.0 219.0,388.6 227.1,393.2 235.2,400.3 243.3,409.3 251.4,419.2 259.5,429.1 267.6,438.1 275.7,445.2 283.8,449.8 291.9,451.3 292.4,451.3"/>
<path d="M211.4,387.5 210.1,387.5 218.2,389.0 226.3,393.4 234.4,400.3 242.5,408.9 250.6,418.5 258.7,428.1 266.8,436.7 274.9,443.6 283.0,448.0 291.1,449.5 292.4,449.5"/>
<path d="M211.4,390.9 212.1,390.9 220.2,392.4 228.3,396.8 236.4,403.5 244.5,412.0 252.6,421.4 260.7,430.9 268.8,439.4 276.9,446.1 285.0,450.4 293.1,451.9 292.4,451.9"/>
<path d="M211.4,382.9 212.6,382.9 220.7,384.5 228.8,389.3 236.9,396.8 245.0,406.2 253.1,416.7 261.2,427.2 269.3,436.6 277.4,444.1 285.5,448.9 293.6,450.6 292.4,450.6"/>
<path d="M211.4,383.6 210.8,383.6 218.9,385.4 227.0,390.3 235.1,398.1 243.2,407.9 251.3,418.7 259.4,429.6 267.5,439.4 275.6,447.1 283.7,452.1 291.8,453.9 292.4,453.9"/>
<path d="M211.4,388.0 211.7,388.0 219.8,389.6 227.9,394.0 236.0,401.0 244.1,409.7 252.2,419.4 260.3,429.0 268.4,437.7 276.5,444.7 284.6,449.1 292.7,450.7 292.4,450.7"/>
<path d="M211.4,390.1 213.7,390.1 221.8,391.6 229.9,395.8 238.0,402.5 246.1,410.8 254.2,420.0 262.3,429.3 270.4,437.6 278.5,444.2 286.6,448.5 294.7,450.0 292.4,450.0"/>
<path d="M211.4,449.0 212.5,449.0 220.6,447.4 228.7,442.8 236.8,435.7 244.9,426.7 253.0,416.8 261.1,406.8 269.2,397.8 277.3,390.7 285.4,386.2 293.5,384.6 292.4,384.6"/>
<path d="M211.4,448.2 212.8,448.2 220.9,446.7 229.0,442.3 237.1,435.4 245.2,426.7 253.3,417.1 261.4,407.5 269.5,398.9 277.6,392.0 285.7,387.6 293.8,386.0 292.4,386.0"/>
<path d="M211.4,454.1 212.2,454.1 220.3,452.4 228.4,447.3 236.5,439.4 244.6,429.4 252.7,418.3 260.8,407.2 268.9,397.2 277.0,389.2 285.1,384.1 293.2,382.4 292.4,382.4"/>
<path d="M211.4,455.9 211.0,455.9 219.1,454.3 227.2,449.6 235.3,442.3 243.4,433.2 251.5,423.0 259.6,412.8 267.7,403.7 275.8,396.4 283.9,391.7 292.0,390.1 292.4,390.1"/>
<path d="M211.4,449.4 209.7,449.4 217.8,447.9 225.9,443.4 234.0,436.4 242.1,427.6 250.2,417.8 258.3,408.1 266.4,399.3 274.5,392.3 282.6,387.8 290.7,386.2 292.4,386.2"/>
<path d="M211.4,450.3 211.2,450.3 219.3,448.8 227.4,444.2 235.5,437.2 243.6,428.3 251.7,418.4 259.8,408.6 267.9,399.7 276.0,392.6 284.1,388.1 292.2,386.5 292.4,386.5"/>
<path d="M211.4,454.1 209.2,454.1 217.3,452.4 225.4,447.6 233.5,440.1 241.6,430.7 249.7,420.2 257.8,409.8 265.9,400.3 274.0,392.9 282.1,388.1 290.2,386.4 292.4,386.4"/>
<path d="M211.4,453.7 210.7,453.7 218.8,452.0 226.9,447.1 235.0,439.4 243.1,429.7 251.2,419.0 259.3,408.2 267.4,398.5 275.5,390.8 283.6,385.9 291.7,384.2 292.4,384.2"/>
<path d="M211.4,450.7 209.9,450.7 218.0,450.6 226.1,450.6 234.2,450.5 242.3,450.5 250.4,450.4 258.5,450.3 266.6,450.2 274.7,450.2 282.8,450.1 290.9,450.1 292.4,450.1"/>
<path d="M211.4,450.4 210.5,450.4 218.6,450.5 226.7,451.0 234.8,451.7 242.9,452.5 251.0,453.5 259.1,454.5 267.2,455.4 275.3,456.1 283.4,456.5 291.5,456.7 292.4,456.7"/>
<path d="M211.4,450.6 212.5,450.6 220.6,450.7 228.7,451.0 236.8,451.3 244.9,451.8 253.0,452.3 261.1,452.8 269.2,453.2 277.3,453.6 285.4,453.8 293.5,453.9 292.4,453.9"/>
<path d="M211.4,453.0 208.4,453.0 216.5,453.0 224.6,453.0 232.7,453.0 240.8,453.1 248.9,453.1 257.0,453.2 265.1,453.2 273.2,453.2 281.3,453.2 289.4,453.2 292.4,453.2"/>
<path d="M211.4,448.8 212.1,448.8 220.2,448.8 228.3,449.0 236.4,449.3 244.5,449.6 252.6,450.0 260.7,450.4 268.8,450.8 276.9,451.1 285.0,451.3 293.1,451.3 292.4,451.3"/>
<path d="M211.4,454.4 211.0,454.4 219.1,454.3 227.2,454.2 235.3,453.9 243.4,453.6 251.5,453.3 259.6,453.0 267.7,452.7 275.8,452.4 283.9,452.3 292.0,452.2 292.4,452.2"/>
<path d="M211.4,451.1 211.8,451.1 219.9,451.1 228.0,451.0 236.1,451.0 244.2,450.9 252.3,450.8 260.4,450.7 268.5,450.6 276.6,450.5 284.7,450.5 292.8,450.5 292.4,450.5"/>
<path d="M211.4,452.8 210.2,452.8 218.3,452.7 226.4,452.5 234.5,452.2 242.6,451.8 250.7,451.4 258.8,451.0 266.9,450.7 275.0,450.4 283.1,450.2 291.2,450.1 292.4,450.1"/>
</g></g>
</g>
<text x="53.5" y="365.2" font-size="13" font-weight="bold" fill="#fff" textLength="154" lengthAdjust="spacingAndGlyphs" >TX 50Gb/s NRZ @IL=5dB</text>
<text x="95.4" y="486" font-size="13" font-weight="bold" fill="#fff" textLength="69.5" lengthAdjust="spacingAndGlyphs" >ER=2.61dB</text>
<rect x="245.5" y="350.5" width="205.5" height="141" fill="#000"/>
<g clip-path="url(#k2)">
<g filter="url(#fTX4)"><rect x="245.5" y="350.5" width="205.5" height="141" fill="#000" fill-opacity="0.0"/>
<g fill="none" stroke="#fff" stroke-width="9" stroke-opacity="0.11">
<path d="M149.9,381.5 148.2,381.5 158.3,381.6 168.3,382.0 178.3,382.4 188.3,383.0 198.3,383.7 208.4,384.4 218.4,385.0 228.4,385.5 238.4,385.8 248.4,385.9 250.1,385.9"/>
<path d="M149.9,384.1 150.3,384.1 160.3,384.1 170.3,384.4 180.4,384.8 190.4,385.4 200.4,385.9 210.4,386.5 220.4,387.0 230.5,387.5 240.5,387.7 250.5,387.8 250.1,387.8"/>
<path d="M149.9,384.6 146.9,384.6 157.0,384.7 167.0,385.1 177.0,385.7 187.0,386.5 197.0,387.3 207.1,388.1 217.1,388.9 227.1,389.5 237.1,389.9 247.1,390.0 250.1,390.0"/>
<path d="M149.9,382.0 146.7,382.0 156.8,382.0 166.8,382.0 176.8,382.0 186.8,381.9 196.8,381.9 206.9,381.8 216.9,381.8 226.9,381.8 236.9,381.7 246.9,381.7 250.1,381.7"/>
<path d="M149.9,387.0 156.7,387.0 166.8,387.0 176.8,387.1 186.8,387.1 196.8,387.2 206.8,387.3 216.9,387.3 226.9,387.4 236.9,387.5 246.9,387.5 256.9,387.5 250.1,387.5"/>
<path d="M149.9,390.1 153.9,390.1 163.9,390.7 173.9,392.4 184.0,395.1 194.0,398.4 204.0,402.1 214.0,405.8 224.0,409.1 234.1,411.8 244.1,413.5 254.1,414.1 250.1,414.1"/>
<path d="M149.9,388.8 146.7,388.8 156.7,389.4 166.8,391.0 176.8,393.5 186.8,396.6 196.8,400.1 206.8,403.6 216.9,406.7 226.9,409.2 236.9,410.8 246.9,411.4 250.1,411.4"/>
<path d="M149.9,387.6 148.9,387.6 158.9,388.1 169.0,389.7 179.0,392.2 189.0,395.3 199.0,398.7 209.0,402.2 219.1,405.3 229.1,407.7 239.1,409.3 249.1,409.9 250.1,409.9"/>
<path d="M149.9,390.7 147.3,390.7 157.3,391.2 167.3,392.7 177.3,395.0 187.4,397.9 197.4,401.2 207.4,404.5 217.4,407.4 227.4,409.7 237.5,411.2 247.5,411.8 250.1,411.8"/>
<path d="M149.9,385.2 148.7,385.2 158.7,386.0 168.8,388.2 178.8,391.6 188.8,395.8 198.8,400.6 208.8,405.3 218.9,409.6 228.9,412.9 238.9,415.1 248.9,415.9 250.1,415.9"/>
<path d="M149.9,387.4 153.3,387.4 163.4,388.6 173.4,392.1 183.4,397.5 193.4,404.3 203.4,411.9 213.5,419.5 223.5,426.4 233.5,431.8 243.5,435.3 253.5,436.5 250.1,436.5"/>
<path d="M149.9,387.0 147.4,387.0 157.4,388.1 167.5,391.4 177.5,396.6 187.5,403.1 197.5,410.3 207.5,417.5 217.6,424.0 227.6,429.1 237.6,432.4 247.6,433.6 250.1,433.6"/>
<path d="M149.9,385.0 155.1,385.0 165.2,386.2 175.2,389.7 185.2,395.1 195.2,401.9 205.2,409.5 215.3,417.0 225.3,423.8 235.3,429.2 245.3,432.7 255.3,433.9 250.1,433.9"/>
<path d="M149.9,389.5 153.6,389.5 163.6,390.6 173.6,393.6 183.6,398.4 193.6,404.4 203.7,411.0 213.7,417.6 223.7,423.6 233.7,428.4 243.7,431.5 253.8,432.5 250.1,432.5"/>
<path d="M149.9,382.9 148.8,382.9 158.8,384.1 168.8,387.7 178.8,393.2 188.9,400.2 198.9,407.9 208.9,415.7 218.9,422.7 228.9,428.2 239.0,431.8 249.0,433.0 250.1,433.0"/>
<path d="M149.9,385.7 134.4,385.7 144.4,387.5 154.4,392.7 164.4,400.8 174.4,411.0 184.5,422.4 194.5,433.7 204.5,443.9 214.5,452.0 224.5,457.2 234.6,459.0 250.1,459.0"/>
<path d="M149.9,389.1 146.4,389.1 156.4,390.8 166.4,395.8 176.4,403.6 186.4,413.4 196.5,424.3 206.5,435.1 216.5,444.9 226.5,452.7 236.5,457.7 246.6,459.4 250.1,459.4"/>
<path d="M149.9,387.2 141.5,387.2 151.6,389.0 161.6,394.1 171.6,401.9 181.6,411.9 191.6,422.9 201.7,433.9 211.7,443.9 221.7,451.8 231.7,456.8 241.7,458.6 250.1,458.6"/>
<path d="M149.9,386.7 145.2,386.7 155.2,388.6 165.2,393.9 175.3,402.1 185.3,412.5 195.3,424.0 205.3,435.5 215.3,445.9 225.4,454.1 235.4,459.4 245.4,461.2 250.1,461.2"/>
<path d="M149.9,387.7 143.3,387.7 153.4,389.5 163.4,394.7 173.4,402.8 183.4,413.0 193.4,424.4 203.5,435.7 213.5,446.0 223.5,454.1 233.5,459.3 243.5,461.1 250.1,461.1"/>
<path d="M149.9,414.4 143.3,414.4 153.3,413.7 163.4,411.7 173.4,408.5 183.4,404.6 193.4,400.3 203.4,395.9 213.5,392.0 223.5,388.8 233.5,386.8 243.5,386.2 250.1,386.2"/>
<path d="M149.9,410.9 156.1,410.9 166.2,410.3 176.2,408.5 186.2,405.8 196.2,402.2 206.2,398.4 216.3,394.5 226.3,391.0 236.3,388.2 246.3,386.4 256.3,385.8 250.1,385.8"/>
<path d="M149.9,406.2 156.0,406.2 166.0,405.7 176.0,404.5 186.0,402.5 196.0,400.0 206.1,397.2 216.1,394.4 226.1,391.9 236.1,389.9 246.1,388.6 256.2,388.2 250.1,388.2"/>
<path d="M149.9,411.6 158.2,411.6 168.2,411.0 178.3,409.2 188.3,406.5 198.3,403.1 208.3,399.3 218.3,395.5 228.4,392.1 238.4,389.4 248.4,387.7 258.4,387.1 250.1,387.1"/>
<path d="M149.9,411.6 145.1,411.6 155.2,411.0 165.2,409.2 175.2,406.3 185.2,402.7 195.2,398.7 205.3,394.7 215.3,391.1 225.3,388.2 235.3,386.4 245.3,385.8 250.1,385.8"/>
<path d="M149.9,412.7 152.0,412.7 162.1,412.7 172.1,412.6 182.1,412.6 192.1,412.6 202.1,412.5 212.2,412.4 222.2,412.4 232.2,412.4 242.2,412.3 252.2,412.3 250.1,412.3"/>
<path d="M149.9,410.1 134.9,410.1 144.9,410.2 155.0,410.3 165.0,410.5 175.0,410.7 185.0,410.9 195.0,411.1 205.1,411.3 215.1,411.5 225.1,411.6 235.1,411.6 250.1,411.6"/>
<path d="M149.9,410.6 151.7,410.6 161.7,410.4 171.7,409.9 181.7,409.0 191.8,408.0 201.8,406.9 211.8,405.7 221.8,404.7 231.8,403.9 241.9,403.3 251.9,403.2 250.1,403.2"/>
<path d="M149.9,412.5 147.3,412.5 157.4,412.6 167.4,412.7 177.4,413.0 187.4,413.3 197.4,413.6 207.5,414.0 217.5,414.3 227.5,414.5 237.5,414.7 247.5,414.7 250.1,414.7"/>
<path d="M149.9,410.9 136.7,410.9 146.7,410.8 156.7,410.7 166.7,410.6 176.8,410.4 186.8,410.2 196.8,410.0 206.8,409.8 216.8,409.7 226.9,409.6 236.9,409.5 250.1,409.5"/>
<path d="M149.9,411.7 150.6,411.7 160.6,412.2 170.7,413.9 180.7,416.4 190.7,419.6 200.7,423.2 210.7,426.8 220.8,430.0 230.8,432.6 240.8,434.2 250.8,434.8 250.1,434.8"/>
<path d="M149.9,407.2 150.7,407.2 160.7,407.9 170.7,409.9 180.7,412.9 190.8,416.7 200.8,421.0 210.8,425.2 220.8,429.1 230.8,432.1 240.9,434.0 250.9,434.7 250.1,434.7"/>
<path d="M149.9,413.1 171.4,413.1 181.4,413.6 191.5,415.2 201.5,417.7 211.5,420.9 221.5,424.3 231.5,427.8 241.6,431.0 251.6,433.5 261.6,435.0 271.6,435.6 250.1,435.6"/>
<path d="M149.9,408.6 149.9,408.6 159.9,409.3 169.9,411.1 179.9,413.9 190.0,417.5 200.0,421.4 210.0,425.3 220.0,428.9 230.0,431.7 240.1,433.5 250.1,434.1 250.1,434.1"/>
<path d="M149.9,407.6 154.1,407.6 164.1,408.4 174.2,410.6 184.2,414.0 194.2,418.4 204.2,423.2 214.2,428.0 224.3,432.4 234.3,435.8 244.3,438.0 254.3,438.8 250.1,438.8"/>
<path d="M149.9,406.4 157.2,406.4 167.2,407.7 177.2,411.5 187.2,417.5 197.3,425.0 207.3,433.4 217.3,441.7 227.3,449.3 237.3,455.2 247.4,459.1 257.4,460.4 250.1,460.4"/>
<path d="M149.9,406.0 148.7,406.0 158.8,407.3 168.8,411.2 178.8,417.2 188.8,424.8 198.8,433.3 208.9,441.7 218.9,449.3 228.9,455.3 238.9,459.2 248.9,460.5 250.1,460.5"/>
<path d="M149.9,415.9 147.7,415.9 157.7,417.0 167.7,420.2 177.8,425.2 187.8,431.5 197.8,438.5 207.8,445.6 217.8,451.9 227.9,456.9 237.9,460.1 247.9,461.2 250.1,461.2"/>
<path d="M149.9,408.2 147.4,408.2 157.4,409.6 167.4,413.7 177.4,420.0 187.4,427.9 197.5,436.7 207.5,445.5 217.5,453.4 227.5,459.7 237.5,463.7 247.6,465.1 250.1,465.1"/>
<path d="M149.9,415.7 149.0,415.7 159.0,416.7 169.1,419.6 179.1,424.0 189.1,429.7 199.1,435.9 209.1,442.1 219.2,447.7 229.2,452.2 239.2,455.0 249.2,456.0 250.1,456.0"/>
<path d="M149.9,434.2 148.9,434.2 158.9,433.0 168.9,429.4 179.0,423.8 189.0,416.7 199.0,408.9 209.0,401.1 219.0,394.0 229.1,388.4 239.1,384.8 249.1,383.6 250.1,383.6"/>
<path d="M149.9,436.6 141.5,436.6 151.5,435.4 161.5,431.6 171.5,425.7 181.5,418.3 191.6,410.2 201.6,402.0 211.6,394.6 221.6,388.7 231.6,385.0 241.7,383.7 250.1,383.7"/>
<path d="M149.9,438.4 146.0,438.4 156.0,437.2 166.0,433.7 176.0,428.3 186.1,421.4 196.1,413.8 206.1,406.2 216.1,399.4 226.1,394.0 236.2,390.5 246.2,389.3 250.1,389.3"/>
<path d="M149.9,435.6 156.5,435.6 166.5,434.2 176.6,430.2 186.6,423.9 196.6,415.9 206.6,407.1 216.6,398.3 226.7,390.4 236.7,384.1 246.7,380.0 256.7,378.6 250.1,378.6"/>
<path d="M149.9,431.3 163.3,431.3 173.4,430.2 183.4,426.8 193.4,421.6 203.4,415.0 213.4,407.6 223.5,400.3 233.5,393.7 243.5,388.5 253.5,385.1 263.5,384.0 250.1,384.0"/>
<path d="M149.9,431.5 143.7,431.5 153.7,431.0 163.7,429.4 173.7,427.0 183.8,424.0 193.8,420.6 203.8,417.3 213.8,414.3 223.8,411.9 233.9,410.3 243.9,409.8 250.1,409.8"/>
<path d="M149.9,429.9 151.8,429.9 161.8,429.4 171.9,427.7 181.9,425.1 191.9,421.9 201.9,418.3 211.9,414.7 222.0,411.5 232.0,408.9 242.0,407.2 252.0,406.7 250.1,406.7"/>
<path d="M149.9,431.4 154.6,431.4 164.6,430.8 174.6,429.2 184.7,426.6 194.7,423.4 204.7,419.8 214.7,416.2 224.7,413.0 234.8,410.4 244.8,408.7 254.8,408.2 250.1,408.2"/>
<path d="M149.9,434.4 159.3,434.4 169.3,433.7 179.3,431.7 189.3,428.6 199.4,424.7 209.4,420.3 219.4,416.0 229.4,412.1 239.4,409.0 249.5,407.0 259.5,406.3 250.1,406.3"/>
<path d="M149.9,435.1 143.8,435.1 153.8,434.6 163.8,433.1 173.9,430.7 183.9,427.6 193.9,424.3 203.9,420.9 213.9,417.9 224.0,415.5 234.0,414.0 244.0,413.4 250.1,413.4"/>
<path d="M149.9,439.3 139.6,439.3 149.6,439.1 159.6,438.5 169.6,437.6 179.6,436.5 189.7,435.3 199.7,434.0 209.7,432.9 219.7,432.0 229.7,431.5 239.8,431.3 250.1,431.3"/>
<path d="M149.9,433.7 151.8,433.7 161.8,433.7 171.8,433.7 181.8,433.7 191.9,433.7 201.9,433.8 211.9,433.8 221.9,433.8 231.9,433.8 242.0,433.8 252.0,433.8 250.1,433.8"/>
<path d="M149.9,433.3 158.3,433.3 168.3,433.4 178.3,433.6 188.4,434.0 198.4,434.4 208.4,434.9 218.4,435.4 228.4,435.8 238.5,436.2 248.5,436.4 258.5,436.5 250.1,436.5"/>
<path d="M149.9,433.1 147.7,433.1 157.8,433.1 167.8,432.9 177.8,432.7 187.8,432.4 197.8,432.1 207.9,431.9 217.9,431.6 227.9,431.4 237.9,431.2 247.9,431.2 250.1,431.2"/>
<path d="M149.9,437.0 148.1,437.0 158.1,437.0 168.1,437.0 178.1,437.0 188.1,437.0 198.2,437.0 208.2,437.0 218.2,437.0 228.2,437.0 238.2,437.0 248.3,437.0 250.1,437.0"/>
<path d="M149.9,432.2 156.0,432.2 166.1,432.9 176.1,434.9 186.1,438.0 196.1,441.8 206.1,446.1 216.2,450.4 226.2,454.3 236.2,457.4 246.2,459.4 256.2,460.1 250.1,460.1"/>
<path d="M149.9,432.9 151.5,432.9 161.6,433.7 171.6,435.9 181.6,439.2 191.6,443.5 201.6,448.2 211.7,453.0 221.7,457.2 231.7,460.6 241.7,462.8 251.7,463.5 250.1,463.5"/>
<path d="M149.9,435.6 158.5,435.6 168.5,436.1 178.5,437.8 188.5,440.3 198.5,443.5 208.6,447.0 218.6,450.6 228.6,453.7 238.6,456.3 248.6,457.9 258.7,458.5 250.1,458.5"/>
<path d="M149.9,434.9 155.1,434.9 165.2,435.5 175.2,437.0 185.2,439.3 195.2,442.3 205.2,445.6 215.3,448.8 225.3,451.8 235.3,454.2 245.3,455.7 255.3,456.2 250.1,456.2"/>
<path d="M149.9,433.7 151.2,433.7 161.2,434.4 171.2,436.5 181.2,439.7 191.3,443.8 201.3,448.3 211.3,452.9 221.3,456.9 231.3,460.2 241.4,462.2 251.4,463.0 250.1,463.0"/>
<path d="M149.9,458.5 147.2,458.5 157.2,456.7 167.2,451.5 177.2,443.5 187.3,433.4 197.3,422.2 207.3,410.9 217.3,400.8 227.3,392.8 237.4,387.6 247.4,385.9 250.1,385.9"/>
<path d="M149.9,457.9 155.2,457.9 165.2,456.2 175.3,451.0 185.3,443.0 195.3,432.9 205.3,421.7 215.3,410.5 225.4,400.4 235.4,392.4 245.4,387.2 255.4,385.5 250.1,385.5"/>
<path d="M149.9,460.3 146.8,460.3 156.8,458.5 166.8,453.1 176.9,444.8 186.9,434.4 196.9,422.7 206.9,411.1 216.9,400.7 227.0,392.4 237.0,387.0 247.0,385.2 250.1,385.2"/>
<path d="M149.9,461.6 156.0,461.6 166.0,459.8 176.0,454.4 186.0,446.1 196.1,435.5 206.1,423.9 216.1,412.2 226.1,401.7 236.1,393.3 246.2,388.0 256.2,386.1 250.1,386.1"/>
<path d="M149.9,461.1 140.6,461.1 150.6,459.4 160.7,454.4 170.7,446.6 180.7,436.9 190.7,426.1 200.7,415.2 210.8,405.5 220.8,397.7 230.8,392.7 240.8,391.0 250.1,391.0"/>
<path d="M149.9,460.0 155.6,460.0 165.6,458.8 175.7,455.3 185.7,449.9 195.7,443.1 205.7,435.5 215.7,428.0 225.8,421.2 235.8,415.8 245.8,412.3 255.8,411.1 250.1,411.1"/>
<path d="M149.9,456.1 149.9,456.1 159.9,454.9 169.9,451.3 180.0,445.9 190.0,438.9 200.0,431.3 210.0,423.6 220.0,416.7 230.1,411.2 240.1,407.7 250.1,406.5 250.1,406.5"/>
<path d="M149.9,462.9 140.9,462.9 151.0,461.7 161.0,458.1 171.0,452.5 181.0,445.5 191.0,437.7 201.1,430.0 211.1,423.0 221.1,417.4 231.1,413.8 241.1,412.6 250.1,412.6"/>
<path d="M149.9,460.5 150.3,460.5 160.3,459.3 170.4,455.9 180.4,450.6 190.4,444.0 200.4,436.6 210.4,429.3 220.5,422.6 230.5,417.3 240.5,414.0 250.5,412.8 250.1,412.8"/>
<path d="M149.9,457.4 142.1,457.4 152.1,456.2 162.1,452.7 172.1,447.2 182.1,440.3 192.2,432.6 202.2,425.0 212.2,418.0 222.2,412.6 232.2,409.0 242.3,407.8 250.1,407.8"/>
<path d="M149.9,463.3 147.6,463.3 157.6,462.5 167.6,460.5 177.6,457.3 187.6,453.2 197.7,448.7 207.7,444.2 217.7,440.1 227.7,436.9 237.7,434.8 247.8,434.1 250.1,434.1"/>
<path d="M149.9,457.8 144.6,457.8 154.7,457.2 164.7,455.6 174.7,453.0 184.7,449.7 194.7,446.1 204.8,442.5 214.8,439.3 224.8,436.7 234.8,435.0 244.8,434.4 250.1,434.4"/>
<path d="M149.9,457.5 148.8,457.5 158.8,457.0 168.8,455.4 178.8,452.8 188.8,449.6 198.9,446.1 208.9,442.6 218.9,439.4 228.9,436.9 238.9,435.3 249.0,434.7 250.1,434.7"/>
<path d="M149.9,461.3 157.3,461.3 167.4,460.7 177.4,458.8 187.4,455.9 197.4,452.3 207.4,448.3 217.5,444.2 227.5,440.6 237.5,437.7 247.5,435.8 257.5,435.2 250.1,435.2"/>
<path d="M149.9,460.0 151.5,460.0 161.5,459.4 171.6,457.7 181.6,454.9 191.6,451.5 201.6,447.7 211.6,444.0 221.7,440.5 231.7,437.8 241.7,436.1 251.7,435.5 250.1,435.5"/>
<path d="M149.9,458.0 146.7,458.0 156.8,458.1 166.8,458.5 176.8,459.1 186.8,459.8 196.8,460.6 206.9,461.4 216.9,462.2 226.9,462.7 236.9,463.1 246.9,463.2 250.1,463.2"/>
<path d="M149.9,455.9 154.1,455.9 164.1,456.1 174.2,456.7 184.2,457.5 194.2,458.5 204.2,459.7 214.2,460.8 224.3,461.9 234.3,462.7 244.3,463.2 254.3,463.4 250.1,463.4"/>
<path d="M149.9,458.6 156.0,458.6 166.0,458.7 176.0,459.0 186.1,459.4 196.1,460.0 206.1,460.6 216.1,461.2 226.1,461.8 236.2,462.2 246.2,462.5 256.2,462.6 250.1,462.6"/>
<path d="M149.9,462.0 151.2,462.0 161.2,461.8 171.3,461.5 181.3,460.9 191.3,460.3 201.3,459.5 211.3,458.7 221.4,458.0 231.4,457.5 241.4,457.1 251.4,457.0 250.1,457.0"/>
<path d="M149.9,457.4 146.7,457.4 156.8,457.4 166.8,457.5 176.8,457.6 186.8,457.8 196.8,457.9 206.9,458.1 216.9,458.3 226.9,458.4 236.9,458.5 246.9,458.5 250.1,458.5"/>
<path d="M250.1,383.2 245.6,383.2 255.6,383.3 265.6,383.5 275.6,383.9 285.6,384.4 295.7,384.9 305.7,385.5 315.7,386.0 325.7,386.4 335.7,386.6 345.8,386.7 350.3,386.7"/>
<path d="M250.1,387.0 246.7,387.0 256.7,387.0 266.7,386.9 276.7,386.8 286.8,386.6 296.8,386.4 306.8,386.3 316.8,386.1 326.8,386.0 336.9,385.9 346.9,385.9 350.3,385.9"/>
<path d="M250.1,385.9 257.3,385.9 267.3,385.9 277.3,386.0 287.3,386.1 297.4,386.3 307.4,386.5 317.4,386.7 327.4,386.9 337.4,387.1 347.5,387.2 357.5,387.2 350.3,387.2"/>
<path d="M250.1,384.7 253.8,384.7 263.8,384.9 273.9,385.2 283.9,385.8 293.9,386.5 303.9,387.3 313.9,388.2 324.0,388.9 334.0,389.5 344.0,389.8 354.0,390.0 350.3,390.0"/>
<path d="M250.1,388.7 243.9,388.7 253.9,388.5 264.0,388.0 274.0,387.3 284.0,386.3 294.0,385.3 304.0,384.2 314.1,383.3 324.1,382.5 334.1,382.0 344.1,381.9 350.3,381.9"/>
<path d="M250.1,388.6 253.2,388.6 263.2,389.1 273.2,390.5 283.2,392.8 293.2,395.7 303.3,398.9 313.3,402.0 323.3,404.9 333.3,407.2 343.3,408.6 353.4,409.1 350.3,409.1"/>
<path d="M250.1,388.6 253.1,388.6 263.1,389.0 273.1,390.2 283.1,392.1 293.2,394.6 303.2,397.2 313.2,399.9 323.2,402.3 333.2,404.3 343.3,405.5 353.3,405.9 350.3,405.9"/>
<path d="M250.1,390.5 250.9,390.5 260.9,391.0 270.9,392.5 281.0,394.9 291.0,397.9 301.0,401.2 311.0,404.4 321.0,407.4 331.1,409.8 341.1,411.3 351.1,411.8 350.3,411.8"/>
<path d="M250.1,386.9 255.0,386.9 265.1,387.4 275.1,389.1 285.1,391.6 295.1,394.8 305.1,398.3 315.2,401.8 325.2,405.0 335.2,407.5 345.2,409.2 355.2,409.7 350.3,409.7"/>
<path d="M250.1,388.8 253.8,388.8 263.9,389.3 273.9,390.8 283.9,393.0 293.9,395.8 303.9,399.0 314.0,402.1 324.0,404.9 334.0,407.2 344.0,408.6 354.0,409.1 350.3,409.1"/>
<path d="M250.1,386.2 255.4,386.2 265.4,387.4 275.5,391.0 285.5,396.6 295.5,403.7 305.5,411.5 315.5,419.3 325.6,426.3 335.6,431.9 345.6,435.5 355.6,436.8 350.3,436.8"/>
<path d="M250.1,382.6 255.6,382.6 265.6,383.9 275.6,387.9 285.6,394.0 295.6,401.7 305.7,410.2 315.7,418.8 325.7,426.5 335.7,432.6 345.7,436.5 355.8,437.9 350.3,437.9"/>
<path d="M250.1,382.5 241.5,382.5 251.5,383.8 261.6,387.5 271.6,393.2 281.6,400.3 291.6,408.3 301.6,416.3 311.7,423.4 321.7,429.1 331.7,432.8 341.7,434.1 350.3,434.1"/>
<path d="M250.1,384.6 243.3,384.6 253.4,385.9 263.4,389.5 273.4,395.2 283.4,402.3 293.4,410.2 303.5,418.0 313.5,425.2 323.5,430.8 333.5,434.4 343.5,435.7 350.3,435.7"/>
<path d="M250.1,383.4 246.1,383.4 256.2,384.6 266.2,388.1 276.2,393.5 286.2,400.4 296.2,407.9 306.3,415.5 316.3,422.4 326.3,427.8 336.3,431.3 346.3,432.5 350.3,432.5"/>
<path d="M250.1,383.4 253.8,383.4 263.8,385.2 273.8,390.4 283.8,398.6 293.9,408.9 303.9,420.3 313.9,431.8 323.9,442.1 333.9,450.2 344.0,455.5 354.0,457.3 350.3,457.3"/>
<path d="M250.1,384.8 256.3,384.8 266.3,386.6 276.4,391.8 286.4,399.9 296.4,410.1 306.4,421.4 316.4,432.7 326.5,442.9 336.5,451.0 346.5,456.2 356.5,457.9 350.3,457.9"/>
<path d="M250.1,383.9 242.9,383.9 252.9,385.8 262.9,391.4 272.9,400.1 282.9,411.1 293.0,423.2 303.0,435.3 313.0,446.3 323.0,455.0 333.0,460.5 343.1,462.5 350.3,462.5"/>
<path d="M250.1,389.1 244.6,389.1 254.6,390.8 264.7,395.8 274.7,403.5 284.7,413.2 294.7,424.0 304.7,434.8 314.8,444.5 324.8,452.3 334.8,457.2 344.8,458.9 350.3,458.9"/>
<path d="M250.1,386.5 243.8,386.5 253.8,388.2 263.8,393.2 273.9,400.9 283.9,410.7 293.9,421.5 303.9,432.4 313.9,442.2 324.0,449.9 334.0,454.9 344.0,456.6 350.3,456.6"/>
<path d="M250.1,410.3 252.8,410.3 262.8,409.7 272.8,407.8 282.8,404.9 292.8,401.3 302.9,397.2 312.9,393.2 322.9,389.5 332.9,386.6 342.9,384.8 353.0,384.1 350.3,384.1"/>
<path d="M250.1,410.1 251.1,410.1 261.2,409.5 271.2,407.8 281.2,405.1 291.2,401.8 301.2,398.1 311.3,394.4 321.3,391.0 331.3,388.4 341.3,386.7 351.3,386.1 350.3,386.1"/>
<path d="M250.1,411.6 257.0,411.6 267.0,410.9 277.1,409.1 287.1,406.2 297.1,402.5 307.1,398.5 317.1,394.4 327.2,390.8 337.2,387.9 347.2,386.0 357.2,385.4 350.3,385.4"/>
<path d="M250.1,412.2 239.7,412.2 249.8,411.4 259.8,409.1 269.8,405.6 279.8,401.2 289.8,396.2 299.9,391.3 309.9,386.8 319.9,383.3 329.9,381.0 339.9,380.3 350.3,380.3"/>
<path d="M250.1,413.8 251.5,413.8 261.5,413.1 271.5,411.0 281.5,407.7 291.5,403.6 301.6,399.0 311.6,394.4 321.6,390.3 331.6,387.1 341.6,385.0 351.7,384.2 350.3,384.2"/>
<path d="M250.1,409.4 263.7,409.4 273.7,409.4 283.7,409.5 293.7,409.6 303.7,409.8 313.8,409.9 323.8,410.1 333.8,410.2 343.8,410.3 353.8,410.4 363.9,410.4 350.3,410.4"/>
<path d="M250.1,407.9 250.4,407.9 260.4,407.9 270.4,408.0 280.4,408.3 290.4,408.5 300.5,408.9 310.5,409.2 320.5,409.5 330.5,409.7 340.5,409.8 350.6,409.9 350.3,409.9"/>
<path d="M250.1,406.9 248.7,406.9 258.7,406.9 268.7,406.9 278.8,407.0 288.8,407.1 298.8,407.1 308.8,407.2 318.8,407.3 328.9,407.4 338.9,407.4 348.9,407.4 350.3,407.4"/>
<path d="M250.1,409.7 238.5,409.7 248.5,409.7 258.5,409.8 268.6,409.9 278.6,410.0 288.6,410.2 298.6,410.3 308.6,410.5 318.7,410.6 328.7,410.7 338.7,410.7 350.3,410.7"/>
<path d="M250.1,405.6 249.2,405.6 259.3,405.8 269.3,406.4 279.3,407.3 289.3,408.5 299.3,409.8 309.4,411.1 319.4,412.3 329.4,413.2 339.4,413.8 349.4,414.0 350.3,414.0"/>
<path d="M250.1,411.9 246.0,411.9 256.1,412.4 266.1,413.9 276.1,416.4 286.1,419.4 296.1,422.8 306.2,426.2 316.2,429.2 326.2,431.6 336.2,433.2 346.2,433.7 350.3,433.7"/>
<path d="M250.1,415.2 244.8,415.2 254.9,415.6 264.9,416.8 274.9,418.6 284.9,420.9 294.9,423.4 305.0,425.9 315.0,428.2 325.0,430.0 335.0,431.2 345.0,431.6 350.3,431.6"/>
<path d="M250.1,411.5 240.4,411.5 250.5,412.0 260.5,413.7 270.5,416.3 280.5,419.5 290.5,423.2 300.6,426.8 310.6,430.0 320.6,432.6 330.6,434.3 340.6,434.8 350.3,434.8"/>
<path d="M250.1,410.1 241.1,410.1 251.1,410.7 261.2,412.6 271.2,415.6 281.2,419.3 291.2,423.4 301.2,427.5 311.3,431.2 321.3,434.2 331.3,436.1 341.3,436.7 350.3,436.7"/>
<path d="M250.1,408.2 261.9,408.2 271.9,408.9 281.9,411.0 291.9,414.1 301.9,418.1 312.0,422.5 322.0,427.0 332.0,431.0 342.0,434.1 352.0,436.2 362.1,436.9 350.3,436.9"/>
<path d="M250.1,403.6 250.5,403.6 260.5,405.0 270.5,408.8 280.5,414.9 290.6,422.5 300.6,431.0 310.6,439.4 320.6,447.0 330.6,453.1 340.7,457.0 350.7,458.3 350.3,458.3"/>
<path d="M250.1,407.3 247.3,407.3 257.3,408.5 267.3,412.1 277.4,417.7 287.4,424.7 297.4,432.5 307.4,440.3 317.4,447.3 327.5,452.9 337.5,456.5 347.5,457.7 350.3,457.7"/>
<path d="M250.1,411.0 255.5,411.0 265.6,412.2 275.6,415.5 285.6,420.6 295.6,427.0 305.6,434.2 315.7,441.3 325.7,447.8 335.7,452.9 345.7,456.2 355.7,457.3 350.3,457.3"/>
<path d="M250.1,411.9 259.6,411.9 269.6,413.1 279.6,416.7 289.6,422.3 299.7,429.3 309.7,437.1 319.7,444.9 329.7,451.9 339.7,457.5 349.8,461.1 359.8,462.3 350.3,462.3"/>
<path d="M250.1,408.3 256.3,408.3 266.4,409.6 276.4,413.3 286.4,419.0 296.4,426.2 306.4,434.1 316.5,442.1 326.5,449.3 336.5,455.0 346.5,458.7 356.5,460.0 350.3,460.0"/>
<path d="M250.1,438.1 247.6,438.1 257.6,436.9 267.6,433.3 277.7,427.7 287.7,420.7 297.7,413.0 307.7,405.2 317.7,398.2 327.8,392.6 337.8,389.1 347.8,387.8 350.3,387.8"/>
<path d="M250.1,433.5 247.7,433.5 257.7,432.3 267.7,428.6 277.8,422.9 287.8,415.7 297.8,407.7 307.8,399.8 317.8,392.6 327.9,386.9 337.9,383.2 347.9,382.0 350.3,382.0"/>
<path d="M250.1,432.5 248.0,432.5 258.1,431.3 268.1,427.8 278.1,422.5 288.1,415.8 298.1,408.3 308.2,400.8 318.2,394.1 328.2,388.7 338.2,385.3 348.2,384.1 350.3,384.1"/>
<path d="M250.1,437.0 250.0,437.0 260.0,435.8 270.1,432.3 280.1,426.8 290.1,419.9 300.1,412.3 310.1,404.7 320.2,397.8 330.2,392.3 340.2,388.8 350.2,387.6 350.3,387.6"/>
<path d="M250.1,431.8 252.9,431.8 262.9,430.7 273.0,427.4 283.0,422.2 293.0,415.7 303.0,408.5 313.0,401.3 323.1,394.9 333.1,389.7 343.1,386.4 353.1,385.3 350.3,385.3"/>
<path d="M250.1,437.0 255.2,437.0 265.2,436.4 275.2,434.5 285.2,431.5 295.3,427.8 305.3,423.6 315.3,419.5 325.3,415.8 335.3,412.8 345.4,410.9 355.4,410.2 350.3,410.2"/>
<path d="M250.1,433.1 254.8,433.1 264.8,432.5 274.8,431.0 284.8,428.6 294.8,425.6 304.9,422.2 314.9,418.9 324.9,415.9 334.9,413.5 344.9,411.9 355.0,411.4 350.3,411.4"/>
<path d="M250.1,433.9 257.7,433.9 267.8,433.2 277.8,431.4 287.8,428.5 297.8,424.8 307.8,420.8 317.9,416.8 327.9,413.1 337.9,410.2 347.9,408.4 357.9,407.7 350.3,407.7"/>
<path d="M250.1,432.2 248.7,432.2 258.7,431.7 268.7,430.2 278.8,427.9 288.8,425.0 298.8,421.8 308.8,418.6 318.8,415.8 328.9,413.5 338.9,412.0 348.9,411.5 350.3,411.5"/>
<path d="M250.1,433.9 247.7,433.9 257.7,433.3 267.7,431.5 277.7,428.8 287.7,425.3 297.8,421.5 307.8,417.6 317.8,414.2 327.8,411.4 337.8,409.6 347.9,409.0 350.3,409.0"/>
<path d="M250.1,434.7 259.1,434.7 269.1,434.8 279.1,435.1 289.1,435.7 299.1,436.3 309.2,437.1 319.2,437.8 329.2,438.5 339.2,439.0 349.2,439.3 359.3,439.4 350.3,439.4"/>
<path d="M250.1,434.4 255.8,434.4 265.8,434.5 275.8,434.6 285.8,434.8 295.9,435.0 305.9,435.2 315.9,435.5 325.9,435.7 335.9,435.9 346.0,436.0 356.0,436.0 350.3,436.0"/>
<path d="M250.1,433.7 250.5,433.7 260.5,433.8 270.6,434.2 280.6,434.9 290.6,435.7 300.6,436.6 310.6,437.5 320.7,438.4 330.7,439.0 340.7,439.4 350.7,439.6 350.3,439.6"/>
<path d="M250.1,436.4 243.6,436.4 253.6,436.3 263.6,436.0 273.6,435.6 283.7,435.0 293.7,434.4 303.7,433.7 313.7,433.2 323.7,432.7 333.8,432.4 343.8,432.3 350.3,432.3"/>
<path d="M250.1,432.2 256.5,432.2 266.5,432.2 276.6,432.3 286.6,432.4 296.6,432.5 306.6,432.7 316.6,432.8 326.7,432.9 336.7,433.0 346.7,433.1 356.7,433.1 350.3,433.1"/>
<path d="M250.1,434.0 247.8,434.0 257.8,434.7 267.8,436.7 277.9,439.8 287.9,443.8 297.9,448.2 307.9,452.6 317.9,456.5 328.0,459.7 338.0,461.7 348.0,462.4 350.3,462.4"/>
<path d="M250.1,432.3 247.9,432.3 257.9,433.0 268.0,435.0 278.0,438.1 288.0,442.1 298.0,446.4 308.0,450.8 318.1,454.7 328.1,457.8 338.1,459.8 348.1,460.5 350.3,460.5"/>
<path d="M250.1,430.5 257.4,430.5 267.4,431.2 277.5,433.3 287.5,436.6 297.5,440.7 307.5,445.3 317.5,449.9 327.6,454.1 337.6,457.4 347.6,459.5 357.6,460.2 350.3,460.2"/>
<path d="M250.1,434.2 245.8,434.2 255.8,434.8 265.8,436.4 275.8,438.9 285.8,442.1 295.9,445.6 305.9,449.1 315.9,452.3 325.9,454.8 335.9,456.4 346.0,457.0 350.3,457.0"/>
<path d="M250.1,431.6 244.6,431.6 254.6,432.3 264.7,434.3 274.7,437.4 284.7,441.2 294.7,445.5 304.7,449.8 314.8,453.7 324.8,456.8 334.8,458.8 344.8,459.5 350.3,459.5"/>
<path d="M250.1,459.8 258.3,459.8 268.3,458.0 278.3,452.7 288.3,444.6 298.4,434.2 308.4,422.8 318.4,411.4 328.4,401.1 338.4,392.9 348.5,387.7 358.5,385.8 350.3,385.8"/>
<path d="M250.1,457.1 260.1,457.1 270.1,455.2 280.1,449.7 290.1,441.2 300.2,430.5 310.2,418.6 320.2,406.7 330.2,395.9 340.2,387.4 350.3,381.9 360.3,380.1 350.3,380.1"/>
<path d="M250.1,461.2 253.3,461.2 263.4,459.3 273.4,453.9 283.4,445.4 293.4,434.7 303.4,422.8 313.5,411.0 323.5,400.3 333.5,391.8 343.5,386.3 353.5,384.4 350.3,384.4"/>
<path d="M250.1,457.7 254.4,457.7 264.4,455.9 274.4,450.7 284.4,442.6 294.5,432.4 304.5,421.1 314.5,409.8 324.5,399.6 334.5,391.5 344.6,386.3 354.6,384.5 350.3,384.5"/>
<path d="M250.1,459.3 252.9,459.3 263.0,457.5 273.0,452.3 283.0,444.1 293.0,433.9 303.0,422.5 313.1,411.1 323.1,400.9 333.1,392.8 343.1,387.5 353.1,385.7 350.3,385.7"/>
<path d="M250.1,460.4 253.4,460.4 263.4,459.1 273.4,455.5 283.5,449.8 293.5,442.7 303.5,434.7 313.5,426.8 323.5,419.6 333.6,414.0 343.6,410.3 353.6,409.1 350.3,409.1"/>
<path d="M250.1,463.5 245.0,463.5 255.1,462.3 265.1,458.7 275.1,453.1 285.1,446.1 295.1,438.3 305.2,430.5 315.2,423.4 325.2,417.8 335.2,414.2 345.2,413.0 350.3,413.0"/>
<path d="M250.1,462.1 241.8,462.1 251.8,460.7 261.9,456.6 271.9,450.3 281.9,442.3 291.9,433.4 301.9,424.5 312.0,416.6 322.0,410.2 332.0,406.1 342.0,404.7 350.3,404.7"/>
<path d="M250.1,461.1 258.5,461.1 268.5,459.9 278.5,456.4 288.6,450.8 298.6,443.8 308.6,436.1 318.6,428.4 328.6,421.4 338.7,415.9 348.7,412.3 358.7,411.1 350.3,411.1"/>
<path d="M250.1,455.6 247.0,455.6 257.1,454.6 267.1,451.5 277.1,446.7 287.1,440.7 297.1,434.1 307.2,427.4 317.2,421.4 327.2,416.6 337.2,413.6 347.2,412.5 350.3,412.5"/>
<path d="M250.1,458.9 258.7,458.9 268.8,458.3 278.8,456.7 288.8,454.1 298.8,451.0 308.8,447.4 318.9,443.9 328.9,440.7 338.9,438.1 348.9,436.5 358.9,435.9 350.3,435.9"/>
<path d="M250.1,457.6 246.7,457.6 256.7,457.0 266.8,455.0 276.8,452.0 286.8,448.2 296.8,444.0 306.8,439.8 316.9,436.0 326.9,432.9 336.9,431.0 346.9,430.3 350.3,430.3"/>
<path d="M250.1,459.8 252.5,459.8 262.5,459.2 272.5,457.7 282.6,455.3 292.6,452.2 302.6,448.8 312.6,445.5 322.6,442.4 332.7,440.0 342.7,438.4 352.7,437.9 350.3,437.9"/>
<path d="M250.1,459.3 247.5,459.3 257.5,458.7 267.6,456.8 277.6,454.0 287.6,450.4 297.6,446.4 307.6,442.4 317.7,438.8 327.7,435.9 337.7,434.1 347.7,433.5 350.3,433.5"/>
<path d="M250.1,462.6 246.1,462.6 256.2,461.8 266.2,459.5 276.2,456.0 286.2,451.5 296.2,446.5 306.3,441.6 316.3,437.1 326.3,433.5 336.3,431.3 346.3,430.5 350.3,430.5"/>
<path d="M250.1,457.8 251.0,457.8 261.1,457.9 271.1,458.3 281.1,458.9 291.1,459.6 301.1,460.4 311.2,461.2 321.2,461.9 331.2,462.5 341.2,462.9 351.2,463.0 350.3,463.0"/>
<path d="M250.1,458.3 262.0,458.3 272.0,458.4 282.1,458.7 292.1,459.1 302.1,459.6 312.1,460.2 322.1,460.8 332.2,461.3 342.2,461.7 352.2,461.9 362.2,462.0 350.3,462.0"/>
<path d="M250.1,462.7 249.0,462.7 259.1,462.6 269.1,462.2 279.1,461.5 289.1,460.7 299.1,459.7 309.2,458.8 319.2,457.9 329.2,457.3 339.2,456.8 349.2,456.7 350.3,456.7"/>
<path d="M250.1,463.0 242.9,463.0 253.0,462.8 263.0,462.3 273.0,461.5 283.0,460.4 293.0,459.2 303.1,458.0 313.1,456.9 323.1,456.1 333.1,455.6 343.1,455.4 350.3,455.4"/>
<path d="M250.1,459.0 245.4,459.0 255.4,459.1 265.4,459.2 275.4,459.5 285.4,459.8 295.5,460.2 305.5,460.6 315.5,460.9 325.5,461.2 335.5,461.4 345.6,461.4 350.3,461.4"/>
<path d="M350.3,385.8 352.4,385.8 362.4,385.7 372.4,385.7 382.5,385.6 392.5,385.5 402.5,385.4 412.5,385.2 422.5,385.1 432.6,385.0 442.6,385.0 452.6,385.0 450.5,385.0"/>
<path d="M350.3,382.2 337.6,382.2 347.6,382.2 357.6,382.0 367.6,381.7 377.7,381.3 387.7,380.9 397.7,380.5 407.7,380.1 417.7,379.9 427.8,379.7 437.8,379.6 450.5,379.6"/>
<path d="M350.3,385.8 353.3,385.8 363.4,385.9 373.4,386.0 383.4,386.2 393.4,386.5 403.4,386.9 413.5,387.2 423.5,387.5 433.5,387.7 443.5,387.9 453.5,387.9 450.5,387.9"/>
<path d="M350.3,381.2 348.7,381.2 358.7,381.2 368.8,381.2 378.8,381.1 388.8,381.1 398.8,381.0 408.8,381.0 418.9,380.9 428.9,380.9 438.9,380.9 448.9,380.8 450.5,380.8"/>
<path d="M350.3,383.0 347.0,383.0 357.0,382.9 367.0,382.8 377.0,382.5 387.0,382.2 397.1,381.8 407.1,381.4 417.1,381.1 427.1,380.8 437.1,380.7 447.2,380.6 450.5,380.6"/>
<path d="M350.3,383.3 352.7,383.3 362.7,383.9 372.8,385.8 382.8,388.7 392.8,392.3 402.8,396.3 412.8,400.4 422.9,404.0 432.9,406.9 442.9,408.7 452.9,409.4 450.5,409.4"/>
<path d="M350.3,385.8 353.6,385.8 363.6,386.4 373.6,388.2 383.6,390.9 393.6,394.2 403.7,398.0 413.7,401.7 423.7,405.1 433.7,407.8 443.7,409.5 453.8,410.1 450.5,410.1"/>
<path d="M350.3,385.1 348.4,385.1 358.4,385.7 368.4,387.3 378.4,389.9 388.4,393.2 398.5,396.8 408.5,400.4 418.5,403.7 428.5,406.3 438.5,407.9 448.6,408.5 450.5,408.5"/>
<path d="M350.3,388.4 355.3,388.4 365.3,388.9 375.3,390.4 385.3,392.7 395.4,395.5 405.4,398.7 415.4,401.8 425.4,404.7 435.4,407.0 445.5,408.4 455.5,408.9 450.5,408.9"/>
<path d="M350.3,389.7 337.5,389.7 347.6,390.3 357.6,392.0 367.6,394.7 377.6,398.1 387.6,401.9 397.7,405.7 407.7,409.1 417.7,411.8 427.7,413.6 437.7,414.2 450.5,414.2"/>
<path d="M350.3,385.7 347.7,385.7 357.7,387.0 367.7,390.7 377.8,396.4 387.8,403.6 397.8,411.5 407.8,419.5 417.8,426.7 427.9,432.4 437.9,436.0 447.9,437.3 450.5,437.3"/>
<path d="M350.3,383.5 346.4,383.5 356.4,384.7 366.4,388.0 376.4,393.3 386.4,399.9 396.5,407.3 406.5,414.6 416.5,421.2 426.5,426.5 436.5,429.9 446.6,431.0 450.5,431.0"/>
<path d="M350.3,385.3 350.3,385.3 360.3,386.4 370.4,389.6 380.4,394.5 390.4,400.7 400.4,407.6 410.4,414.5 420.5,420.7 430.5,425.6 440.5,428.8 450.5,429.9 450.5,429.9"/>
<path d="M350.3,383.2 343.9,383.2 353.9,384.4 363.9,388.1 374.0,393.8 384.0,401.0 394.0,409.0 404.0,417.0 414.0,424.2 424.1,429.9 434.1,433.5 444.1,434.8 450.5,434.8"/>
<path d="M350.3,385.6 346.2,385.6 356.3,386.8 366.3,390.3 376.3,395.8 386.3,402.7 396.3,410.4 406.4,418.0 416.4,424.9 426.4,430.4 436.4,434.0 446.4,435.2 450.5,435.2"/>
<path d="M350.3,383.6 354.2,383.6 364.2,385.5 374.2,391.1 384.2,399.9 394.3,410.9 404.3,423.1 414.3,435.2 424.3,446.2 434.3,455.0 444.4,460.6 454.4,462.5 450.5,462.5"/>
<path d="M350.3,383.3 343.5,383.3 353.5,385.2 363.5,390.8 373.5,399.4 383.6,410.2 393.6,422.2 403.6,434.3 413.6,445.1 423.6,453.7 433.7,459.3 443.7,461.2 450.5,461.2"/>
<path d="M350.3,384.0 347.0,384.0 357.0,385.7 367.0,390.5 377.1,398.1 387.1,407.6 397.1,418.2 407.1,428.8 417.1,438.3 427.2,445.9 437.2,450.8 447.2,452.5 450.5,452.5"/>
<path d="M350.3,387.1 353.9,387.1 363.9,388.9 374.0,394.0 384.0,401.9 394.0,411.9 404.0,422.9 414.0,434.0 424.1,444.0 434.1,451.9 444.1,457.0 454.1,458.8 450.5,458.8"/>
<path d="M350.3,383.7 349.5,383.7 359.5,385.6 369.5,391.0 379.6,399.6 389.6,410.3 399.6,422.2 409.6,434.2 419.6,444.9 429.7,453.5 439.7,458.9 449.7,460.8 450.5,460.8"/>
<path d="M350.3,407.1 345.3,407.1 355.4,406.7 365.4,405.5 375.4,403.7 385.4,401.5 395.4,398.9 405.5,396.4 415.5,394.1 425.5,392.3 435.5,391.2 445.5,390.8 450.5,390.8"/>
<path d="M350.3,406.1 353.2,406.1 363.3,405.6 373.3,404.2 383.3,401.9 393.3,399.1 403.3,395.9 413.4,392.7 423.4,389.9 433.4,387.6 443.4,386.2 453.4,385.7 450.5,385.7"/>
<path d="M350.3,410.5 353.2,410.5 363.2,409.9 373.2,408.1 383.2,405.3 393.3,401.7 403.3,397.8 413.3,393.9 423.3,390.3 433.3,387.5 443.4,385.7 453.4,385.1 450.5,385.1"/>
<path d="M350.3,412.1 342.1,412.1 352.1,411.4 362.1,409.7 372.2,406.9 382.2,403.4 392.2,399.5 402.2,395.6 412.2,392.1 422.3,389.3 432.3,387.6 442.3,387.0 450.5,387.0"/>
<path d="M350.3,414.1 338.1,414.1 348.1,413.4 358.1,411.4 368.2,408.2 378.2,404.1 388.2,399.7 398.2,395.2 408.2,391.2 418.3,388.0 428.3,386.0 438.3,385.3 450.5,385.3"/>
<path d="M350.3,411.8 352.1,411.8 362.1,411.7 372.1,411.6 382.1,411.3 392.2,410.9 402.2,410.5 412.2,410.1 422.2,409.8 432.2,409.5 442.3,409.3 452.3,409.3 450.5,409.3"/>
<path d="M350.3,414.8 346.6,414.8 356.7,414.6 366.7,414.2 376.7,413.4 386.7,412.5 396.7,411.5 406.8,410.5 416.8,409.6 426.8,408.9 436.8,408.4 446.8,408.2 450.5,408.2"/>
<path d="M350.3,407.1 354.3,407.1 364.4,407.2 374.4,407.4 384.4,407.7 394.4,408.1 404.4,408.6 414.5,409.1 424.5,409.5 434.5,409.8 444.5,410.0 454.5,410.1 450.5,410.1"/>
<path d="M350.3,410.7 337.6,410.7 347.7,410.6 357.7,410.6 367.7,410.5 377.7,410.5 387.7,410.4 397.8,410.3 407.8,410.2 417.8,410.1 427.8,410.1 437.8,410.1 450.5,410.1"/>
<path d="M350.3,410.3 347.3,410.3 357.3,410.4 367.4,410.5 377.4,410.8 387.4,411.1 397.4,411.4 407.4,411.7 417.5,412.0 427.5,412.2 437.5,412.4 447.5,412.4 450.5,412.4"/>
<path d="M350.3,408.2 351.8,408.2 361.9,408.8 371.9,410.5 381.9,413.2 391.9,416.5 401.9,420.2 412.0,423.9 422.0,427.2 432.0,429.8 442.0,431.5 452.0,432.1 450.5,432.1"/>
<path d="M350.3,405.6 349.2,405.6 359.2,406.4 369.2,408.8 379.3,412.6 389.3,417.4 399.3,422.6 409.3,427.9 419.3,432.7 429.4,436.4 439.4,438.9 449.4,439.7 450.5,439.7"/>
<path d="M350.3,408.1 353.6,408.1 363.6,408.7 373.7,410.3 383.7,412.9 393.7,416.2 403.7,419.8 413.7,423.5 423.8,426.7 433.8,429.3 443.8,431.0 453.8,431.6 450.5,431.6"/>
<path d="M350.3,412.2 351.4,412.2 361.4,412.7 371.5,414.2 381.5,416.5 391.5,419.5 401.5,422.7 411.5,426.0 421.6,428.9 431.6,431.3 441.6,432.8 451.6,433.3 450.5,433.3"/>
<path d="M350.3,410.4 354.1,410.4 364.1,411.1 374.1,413.0 384.1,415.9 394.2,419.7 404.2,423.8 414.2,428.0 424.2,431.7 434.2,434.7 444.3,436.6 454.3,437.3 450.5,437.3"/>
<path d="M350.3,412.8 366.0,412.8 376.0,413.9 386.1,417.0 396.1,421.8 406.1,427.9 416.1,434.6 426.1,441.3 436.2,447.4 446.2,452.2 456.2,455.3 466.2,456.4 450.5,456.4"/>
<path d="M350.3,408.3 344.8,408.3 354.8,409.5 364.9,413.0 374.9,418.4 384.9,425.2 394.9,432.7 404.9,440.3 415.0,447.1 425.0,452.5 435.0,455.9 445.0,457.1 450.5,457.1"/>
<path d="M350.3,410.6 365.0,410.6 375.0,411.9 385.0,415.6 395.0,421.2 405.0,428.4 415.1,436.3 425.1,444.3 435.1,451.5 445.1,457.1 455.1,460.8 465.2,462.0 450.5,462.0"/>
<path d="M350.3,412.8 348.3,412.8 358.4,413.9 368.4,417.1 378.4,422.1 388.4,428.5 398.4,435.4 408.5,442.4 418.5,448.7 428.5,453.7 438.5,456.9 448.5,458.1 450.5,458.1"/>
<path d="M350.3,408.4 349.4,408.4 359.4,409.7 369.4,413.2 379.4,418.7 389.4,425.7 399.5,433.5 409.5,441.2 419.5,448.2 429.5,453.7 439.5,457.3 449.6,458.5 450.5,458.5"/>
<path d="M350.3,433.1 352.4,433.1 362.4,432.0 372.4,428.9 382.5,423.9 392.5,417.7 402.5,410.8 412.5,403.9 422.5,397.6 432.6,392.7 442.6,389.5 452.6,388.4 450.5,388.4"/>
<path d="M350.3,436.4 343.4,436.4 353.5,435.1 363.5,431.5 373.5,425.8 383.5,418.6 393.5,410.6 403.6,402.7 413.6,395.5 423.6,389.8 433.6,386.2 443.6,384.9 450.5,384.9"/>
<path d="M350.3,435.9 362.3,435.9 372.4,434.6 382.4,431.0 392.4,425.3 402.4,418.1 412.4,410.1 422.5,402.1 432.5,394.9 442.5,389.2 452.5,385.6 462.5,384.3 450.5,384.3"/>
<path d="M350.3,437.9 344.5,437.9 354.5,436.6 364.5,432.6 374.5,426.5 384.6,418.7 394.6,410.1 404.6,401.5 414.6,393.7 424.6,387.5 434.7,383.6 444.7,382.2 450.5,382.2"/>
<path d="M350.3,433.3 357.3,433.3 367.3,432.1 377.3,428.7 387.3,423.3 397.3,416.6 407.4,409.1 417.4,401.6 427.4,394.8 437.4,389.4 447.4,386.0 457.5,384.8 450.5,384.8"/>
<path d="M350.3,434.3 348.5,434.3 358.5,433.7 368.5,432.0 378.5,429.4 388.6,426.2 398.6,422.6 408.6,418.9 418.6,415.7 428.6,413.1 438.7,411.4 448.7,410.8 450.5,410.8"/>
<path d="M350.3,434.2 350.5,434.2 360.5,433.7 370.5,432.1 380.5,429.8 390.6,426.8 400.6,423.5 410.6,420.2 420.6,417.2 430.6,414.9 440.7,413.4 450.7,412.8 450.5,412.8"/>
<path d="M350.3,439.9 352.7,439.9 362.7,439.1 372.8,437.0 382.8,433.6 392.8,429.4 402.8,424.7 412.8,420.0 422.9,415.8 432.9,412.4 442.9,410.3 452.9,409.5 450.5,409.5"/>
<path d="M350.3,435.8 362.0,435.8 372.0,435.2 382.0,433.4 392.0,430.7 402.0,427.3 412.1,423.6 422.1,419.8 432.1,416.4 442.1,413.7 452.1,412.0 462.2,411.4 450.5,411.4"/>
<path d="M350.3,433.0 344.8,433.0 354.8,432.4 364.8,430.6 374.8,427.9 384.8,424.4 394.9,420.6 404.9,416.8 414.9,413.4 424.9,410.6 434.9,408.9 445.0,408.3 450.5,408.3"/>
<path d="M350.3,439.4 353.1,439.4 363.1,439.4 373.2,439.1 383.2,438.7 393.2,438.2 403.2,437.7 413.2,437.2 423.3,436.7 433.3,436.3 443.3,436.0 453.3,436.0 450.5,436.0"/>
<path d="M350.3,435.9 355.0,435.9 365.1,435.8 375.1,435.4 385.1,434.7 395.1,433.9 405.1,432.9 415.2,432.0 425.2,431.2 435.2,430.5 445.2,430.1 455.2,429.9 450.5,429.9"/>
<path d="M350.3,435.1 350.9,435.1 361.0,435.1 371.0,435.1 381.0,435.2 391.0,435.2 401.0,435.3 411.1,435.4 421.1,435.5 431.1,435.5 441.1,435.5 451.1,435.6 450.5,435.6"/>
<path d="M350.3,434.5 347.0,434.5 357.0,434.5 367.1,434.5 377.1,434.5 387.1,434.5 397.1,434.5 407.1,434.5 417.2,434.5 427.2,434.6 437.2,434.6 447.2,434.6 450.5,434.6"/>
<path d="M350.3,434.2 337.8,434.2 347.8,434.2 357.8,434.4 367.8,434.6 377.8,434.9 387.9,435.3 397.9,435.6 407.9,435.9 417.9,436.2 427.9,436.3 438.0,436.4 450.5,436.4"/>
<path d="M350.3,436.9 344.0,436.9 354.0,437.5 364.1,439.3 374.1,442.0 384.1,445.5 394.1,449.3 404.1,453.1 414.2,456.6 424.2,459.4 434.2,461.1 444.2,461.7 450.5,461.7"/>
<path d="M350.3,436.1 347.3,436.1 357.3,436.7 367.3,438.4 377.4,441.2 387.4,444.6 397.4,448.5 407.4,452.3 417.4,455.7 427.5,458.5 437.5,460.2 447.5,460.8 450.5,460.8"/>
<path d="M350.3,439.1 349.6,439.1 359.6,439.7 369.7,441.2 379.7,443.5 389.7,446.5 399.7,449.8 409.7,453.1 419.8,456.1 429.8,458.5 439.8,460.0 449.8,460.5 450.5,460.5"/>
<path d="M350.3,431.4 351.7,431.4 361.7,432.2 371.8,434.6 381.8,438.4 391.8,443.2 401.8,448.5 411.8,453.8 421.9,458.6 431.9,462.4 441.9,464.9 451.9,465.7 450.5,465.7"/>
<path d="M350.3,435.6 362.8,435.6 372.8,436.1 382.9,437.8 392.9,440.5 402.9,443.8 412.9,447.5 422.9,451.2 433.0,454.5 443.0,457.2 453.0,458.9 463.0,459.5 450.5,459.5"/>
<path d="M350.3,459.7 356.7,459.7 366.8,457.9 376.8,453.0 386.8,445.2 396.8,435.4 406.8,424.5 416.9,413.7 426.9,403.9 436.9,396.1 446.9,391.2 456.9,389.4 450.5,389.4"/>
<path d="M350.3,462.6 357.3,462.6 367.4,460.7 377.4,455.4 387.4,447.0 397.4,436.5 407.4,424.8 417.5,413.1 427.5,402.6 437.5,394.2 447.5,388.9 457.5,387.0 450.5,387.0"/>
<path d="M350.3,459.7 334.3,459.7 344.3,457.8 354.4,452.1 364.4,443.3 374.4,432.2 384.4,419.9 394.4,407.5 404.5,396.4 414.5,387.6 424.5,381.9 434.5,380.0 450.5,380.0"/>
<path d="M350.3,462.9 358.4,462.9 368.5,460.9 378.5,455.0 388.5,445.9 398.5,434.3 408.5,421.5 418.6,408.7 428.6,397.1 438.6,387.9 448.6,382.0 458.6,380.0 450.5,380.0"/>
<path d="M350.3,468.1 354.1,468.1 364.1,465.9 374.1,459.7 384.1,450.0 394.2,437.8 404.2,424.3 414.2,410.7 424.2,398.5 434.2,388.8 444.3,382.6 454.3,380.4 450.5,380.4"/>
<path d="M350.3,461.3 338.5,461.3 348.5,460.0 358.6,456.2 368.6,450.3 378.6,442.8 388.6,434.5 398.6,426.3 408.7,418.8 418.7,412.9 428.7,409.1 438.7,407.8 450.5,407.8"/>
<path d="M350.3,459.8 349.8,459.8 359.8,458.7 369.8,455.4 379.8,450.4 389.8,444.0 399.9,436.9 409.9,429.9 419.9,423.5 429.9,418.4 439.9,415.2 450.0,414.0 450.5,414.0"/>
<path d="M350.3,460.0 350.7,460.0 360.7,458.8 370.7,455.2 380.7,449.7 390.7,442.7 400.8,435.0 410.8,427.2 420.8,420.2 430.8,414.7 440.8,411.1 450.9,409.9 450.5,409.9"/>
<path d="M350.3,460.8 345.2,460.8 355.2,459.7 365.2,456.5 375.2,451.5 385.2,445.2 395.3,438.2 405.3,431.2 415.3,424.9 425.3,419.9 435.3,416.7 445.4,415.6 450.5,415.6"/>
<path d="M350.3,455.3 347.3,455.3 357.3,454.3 367.3,451.2 377.4,446.4 387.4,440.3 397.4,433.6 407.4,426.9 417.4,420.8 427.5,416.0 437.5,412.9 447.5,411.8 450.5,411.8"/>
<path d="M350.3,458.7 349.4,458.7 359.4,458.1 369.4,456.1 379.4,453.1 389.4,449.2 399.5,444.9 409.5,440.7 419.5,436.8 429.5,433.8 439.5,431.8 449.6,431.1 450.5,431.1"/>
<path d="M350.3,458.9 348.0,458.9 358.1,458.4 368.1,456.7 378.1,454.2 388.1,451.0 398.1,447.4 408.2,443.8 418.2,440.6 428.2,438.1 438.2,436.4 448.2,435.9 450.5,435.9"/>
<path d="M350.3,456.3 349.9,456.3 359.9,455.8 370.0,454.3 380.0,452.1 390.0,449.3 400.0,446.1 410.0,443.0 420.1,440.2 430.1,438.0 440.1,436.5 450.1,436.0 450.5,436.0"/>
<path d="M350.3,455.1 355.0,455.1 365.0,454.6 375.0,453.1 385.0,450.8 395.0,447.8 405.1,444.5 415.1,441.2 425.1,438.2 435.1,435.9 445.1,434.4 455.2,433.9 450.5,433.9"/>
<path d="M350.3,459.9 354.0,459.9 364.0,459.3 374.0,457.4 384.0,454.5 394.0,450.9 404.1,446.9 414.1,442.9 424.1,439.3 434.1,436.4 444.1,434.5 454.2,433.9 450.5,433.9"/>
<path d="M350.3,458.4 353.6,458.4 363.6,458.4 373.6,458.4 383.6,458.4 393.6,458.3 403.7,458.3 413.7,458.3 423.7,458.3 433.7,458.3 443.7,458.2 453.8,458.2 450.5,458.2"/>
<path d="M350.3,459.6 351.8,459.6 361.8,459.6 371.8,459.5 381.8,459.4 391.8,459.2 401.9,459.0 411.9,458.8 421.9,458.7 431.9,458.5 441.9,458.5 452.0,458.4 450.5,458.4"/>
<path d="M350.3,460.7 356.4,460.7 366.5,460.8 376.5,460.9 386.5,461.1 396.5,461.3 406.5,461.6 416.6,461.9 426.6,462.1 436.6,462.3 446.6,462.4 456.6,462.5 450.5,462.5"/>
<path d="M350.3,460.3 344.8,460.3 354.9,460.3 364.9,460.3 374.9,460.2 384.9,460.2 394.9,460.1 405.0,460.1 415.0,460.0 425.0,460.0 435.0,460.0 445.0,460.0 450.5,460.0"/>
<path d="M350.3,460.6 355.4,460.6 365.4,460.5 375.5,460.4 385.5,460.3 395.5,460.1 405.5,459.8 415.5,459.6 425.6,459.4 435.6,459.3 445.6,459.2 455.6,459.1 450.5,459.1"/>
<path d="M450.5,387.4 450.3,387.4 460.3,387.4 470.3,387.4 480.3,387.3 490.4,387.3 500.4,387.2 510.4,387.2 520.4,387.1 530.4,387.1 540.5,387.0 550.5,387.0 550.7,387.0"/>
<path d="M450.5,386.2 460.8,386.2 470.8,386.3 480.9,386.5 490.9,386.8 500.9,387.3 510.9,387.7 520.9,388.2 531.0,388.6 541.0,389.0 551.0,389.2 561.0,389.2 550.7,389.2"/>
<path d="M450.5,383.8 454.3,383.8 464.4,383.7 474.4,383.3 484.4,382.6 494.4,381.8 504.4,380.9 514.5,380.0 524.5,379.2 534.5,378.6 544.5,378.2 554.5,378.0 550.7,378.0"/>
<path d="M450.5,381.4 453.3,381.4 463.4,381.5 473.4,381.8 483.4,382.2 493.4,382.8 503.4,383.4 513.5,384.1 523.5,384.6 533.5,385.1 543.5,385.4 553.5,385.5 550.7,385.5"/>
<path d="M450.5,389.2 449.9,389.2 460.0,389.1 470.0,388.8 480.0,388.3 490.0,387.7 500.0,387.1 510.1,386.4 520.1,385.8 530.1,385.3 540.1,385.0 550.1,384.9 550.7,384.9"/>
<path d="M450.5,383.9 443.3,383.9 453.3,384.5 463.4,386.4 473.4,389.3 483.4,393.1 493.4,397.2 503.4,401.3 513.5,405.0 523.5,407.9 533.5,409.8 543.5,410.4 550.7,410.4"/>
<path d="M450.5,386.8 458.7,386.8 468.7,387.4 478.7,389.1 488.8,391.7 498.8,395.0 508.8,398.7 518.8,402.3 528.8,405.6 538.9,408.3 548.9,410.0 558.9,410.5 550.7,410.5"/>
<path d="M450.5,384.6 451.8,384.6 461.9,385.2 471.9,387.0 481.9,389.9 491.9,393.5 501.9,397.5 512.0,401.5 522.0,405.2 532.0,408.0 542.0,409.9 552.0,410.5 550.7,410.5"/>
<path d="M450.5,385.3 447.3,385.3 457.3,385.8 467.3,387.4 477.3,389.8 487.4,392.9 497.4,396.2 507.4,399.6 517.4,402.7 527.4,405.1 537.5,406.6 547.5,407.2 550.7,407.2"/>
<path d="M450.5,385.5 456.8,385.5 466.9,386.1 476.9,387.9 486.9,390.7 496.9,394.3 506.9,398.2 517.0,402.1 527.0,405.7 537.0,408.5 547.0,410.3 557.0,410.9 550.7,410.9"/>
<path d="M450.5,383.8 454.3,383.8 464.3,385.1 474.3,388.7 484.4,394.4 494.4,401.6 504.4,409.6 514.4,417.6 524.4,424.8 534.5,430.5 544.5,434.2 554.5,435.4 550.7,435.4"/>
<path d="M450.5,387.6 451.9,387.6 461.9,388.8 471.9,392.2 482.0,397.4 492.0,404.1 502.0,411.5 512.0,418.9 522.0,425.5 532.1,430.8 542.1,434.2 552.1,435.4 550.7,435.4"/>
<path d="M450.5,384.5 449.5,384.5 459.5,385.7 469.5,389.3 479.5,394.9 489.6,401.9 499.6,409.7 509.6,417.4 519.6,424.5 529.6,430.0 539.7,433.6 549.7,434.8 550.7,434.8"/>
<path d="M450.5,380.9 436.3,380.9 446.3,382.2 456.4,385.8 466.4,391.6 476.4,398.9 486.4,406.9 496.4,414.9 506.5,422.2 516.5,428.0 526.5,431.7 536.5,432.9 550.7,432.9"/>
<path d="M450.5,386.7 448.5,386.7 458.5,387.9 468.5,391.5 478.6,397.1 488.6,404.1 498.6,411.9 508.6,419.6 518.6,426.7 528.7,432.2 538.7,435.8 548.7,437.0 550.7,437.0"/>
<path d="M450.5,385.8 449.2,385.8 459.2,387.6 469.2,392.9 479.2,401.2 489.2,411.6 499.3,423.1 509.3,434.7 519.3,445.1 529.3,453.3 539.3,458.6 549.4,460.5 550.7,460.5"/>
<path d="M450.5,389.2 452.6,389.2 462.6,390.9 472.6,395.9 482.7,403.7 492.7,413.5 502.7,424.4 512.7,435.3 522.7,445.1 532.8,452.9 542.8,457.9 552.8,459.6 550.7,459.6"/>
<path d="M450.5,385.2 440.9,385.2 450.9,387.2 461.0,392.9 471.0,401.7 481.0,412.9 491.0,425.2 501.0,437.6 511.1,448.8 521.1,457.6 531.1,463.3 541.1,465.3 550.7,465.3"/>
<path d="M450.5,385.9 446.4,385.9 456.4,387.6 466.4,392.7 476.5,400.5 486.5,410.3 496.5,421.3 506.5,432.2 516.5,442.1 526.6,449.9 536.6,454.9 546.6,456.6 550.7,456.6"/>
<path d="M450.5,382.9 444.2,382.9 454.2,384.8 464.3,390.5 474.3,399.2 484.3,410.3 494.3,422.5 504.3,434.7 514.4,445.7 524.4,454.5 534.4,460.1 544.4,462.1 550.7,462.1"/>
<path d="M450.5,407.1 445.0,407.1 455.0,406.5 465.0,404.9 475.0,402.4 485.1,399.3 495.1,395.8 505.1,392.3 515.1,389.2 525.1,386.7 535.2,385.1 545.2,384.5 550.7,384.5"/>
<path d="M450.5,407.1 446.7,407.1 456.7,406.7 466.7,405.4 476.8,403.5 486.8,401.0 496.8,398.3 506.8,395.6 516.8,393.1 526.9,391.1 536.9,389.9 546.9,389.5 550.7,389.5"/>
<path d="M450.5,407.6 451.2,407.6 461.2,407.1 471.2,405.8 481.3,403.8 491.3,401.2 501.3,398.3 511.3,395.4 521.3,392.8 531.4,390.7 541.4,389.4 551.4,388.9 550.7,388.9"/>
<path d="M450.5,412.6 448.9,412.6 458.9,411.8 469.0,409.6 479.0,406.1 489.0,401.7 499.0,396.9 509.0,392.0 519.1,387.6 529.1,384.2 539.1,381.9 549.1,381.2 550.7,381.2"/>
<path d="M450.5,410.9 453.9,410.9 463.9,410.3 474.0,408.5 484.0,405.8 494.0,402.3 504.0,398.4 514.0,394.6 524.1,391.1 534.1,388.3 544.1,386.6 554.1,385.9 550.7,385.9"/>
<path d="M450.5,412.9 457.2,412.9 467.3,412.9 477.3,412.7 487.3,412.5 497.3,412.3 507.3,412.0 517.4,411.8 527.4,411.5 537.4,411.4 547.4,411.2 557.4,411.2 550.7,411.2"/>
<path d="M450.5,411.6 451.8,411.6 461.9,411.5 471.9,411.3 481.9,410.8 491.9,410.3 501.9,409.7 512.0,409.1 522.0,408.5 532.0,408.1 542.0,407.8 552.0,407.7 550.7,407.7"/>
<path d="M450.5,413.1 453.9,413.1 463.9,412.9 473.9,412.5 484.0,411.9 494.0,411.0 504.0,410.1 514.0,409.2 524.0,408.4 534.1,407.8 544.1,407.4 554.1,407.2 550.7,407.2"/>
<path d="M450.5,411.3 440.7,411.3 450.7,411.4 460.8,411.5 470.8,411.7 480.8,411.9 490.8,412.2 500.8,412.5 510.9,412.8 520.9,413.0 530.9,413.1 540.9,413.1 550.7,413.1"/>
<path d="M450.5,415.8 450.7,415.8 460.7,415.6 470.7,414.9 480.8,413.7 490.8,412.3 500.8,410.8 510.8,409.2 520.8,407.8 530.9,406.6 540.9,405.9 550.9,405.7 550.7,405.7"/>
<path d="M450.5,416.2 464.1,416.2 474.1,416.6 484.2,417.7 494.2,419.3 504.2,421.4 514.2,423.8 524.2,426.1 534.3,428.2 544.3,429.9 554.3,430.9 564.3,431.3 550.7,431.3"/>
<path d="M450.5,410.4 459.4,410.4 469.4,411.1 479.4,413.2 489.4,416.4 499.4,420.5 509.5,425.1 519.5,429.6 529.5,433.7 539.5,436.9 549.5,439.0 559.6,439.7 550.7,439.7"/>
<path d="M450.5,410.1 448.8,410.1 458.9,410.6 468.9,412.2 478.9,414.8 488.9,417.9 498.9,421.4 509.0,424.9 519.0,428.1 529.0,430.6 539.0,432.2 549.0,432.8 550.7,432.8"/>
<path d="M450.5,406.3 453.0,406.3 463.0,406.9 473.0,408.7 483.0,411.5 493.1,414.9 503.1,418.8 513.1,422.6 523.1,426.1 533.1,428.8 543.2,430.6 553.2,431.2 550.7,431.2"/>
<path d="M450.5,405.9 450.3,405.9 460.3,406.7 470.3,408.8 480.3,412.1 490.4,416.2 500.4,420.8 510.4,425.4 520.4,429.6 530.4,432.9 540.5,435.0 550.5,435.7 550.7,435.7"/>
<path d="M450.5,409.3 443.3,409.3 453.3,410.5 463.3,413.9 473.4,419.2 483.4,425.9 493.4,433.4 503.4,440.8 513.4,447.5 523.5,452.8 533.5,456.2 543.5,457.4 550.7,457.4"/>
<path d="M450.5,411.8 447.3,411.8 457.3,412.9 467.3,416.1 477.3,421.2 487.3,427.6 497.4,434.7 507.4,441.8 517.4,448.2 527.4,453.2 537.4,456.5 547.5,457.6 550.7,457.6"/>
<path d="M450.5,409.2 462.5,409.2 472.5,410.5 482.6,414.3 492.6,420.1 502.6,427.4 512.6,435.5 522.6,443.7 532.7,451.0 542.7,456.8 552.7,460.6 562.7,461.8 550.7,461.8"/>
<path d="M450.5,414.8 454.7,414.8 464.7,415.9 474.8,419.3 484.8,424.5 494.8,431.1 504.8,438.4 514.8,445.8 524.9,452.4 534.9,457.6 544.9,461.0 554.9,462.1 550.7,462.1"/>
<path d="M450.5,411.4 449.5,411.4 459.5,412.6 469.5,416.0 479.5,421.3 489.6,428.0 499.6,435.5 509.6,442.9 519.6,449.6 529.6,454.9 539.7,458.4 549.7,459.5 550.7,459.5"/>
<path d="M450.5,430.3 447.7,430.3 457.7,429.2 467.8,426.2 477.8,421.3 487.8,415.3 497.8,408.6 507.8,401.8 517.9,395.8 527.9,391.0 537.9,387.9 547.9,386.8 550.7,386.8"/>
<path d="M450.5,435.8 455.8,435.8 465.9,434.7 475.9,431.5 485.9,426.6 495.9,420.4 505.9,413.5 516.0,406.6 526.0,400.4 536.0,395.4 546.0,392.3 556.0,391.2 550.7,391.2"/>
<path d="M450.5,437.8 447.3,437.8 457.4,436.5 467.4,433.0 477.4,427.4 487.4,420.5 497.4,412.7 507.5,405.0 517.5,398.0 527.5,392.4 537.5,388.9 547.5,387.7 550.7,387.7"/>
<path d="M450.5,433.1 447.3,433.1 457.3,431.8 467.3,428.2 477.3,422.5 487.3,415.3 497.4,407.3 507.4,399.4 517.4,392.2 527.4,386.5 537.4,382.9 547.5,381.6 550.7,381.6"/>
<path d="M450.5,435.2 454.1,435.2 464.2,434.0 474.2,430.6 484.2,425.3 494.2,418.6 504.2,411.2 514.3,403.8 524.3,397.1 534.3,391.8 544.3,388.4 554.3,387.2 550.7,387.2"/>
<path d="M450.5,433.9 451.0,433.9 461.0,433.2 471.0,431.3 481.0,428.3 491.1,424.5 501.1,420.3 511.1,416.1 521.1,412.3 531.1,409.3 541.2,407.4 551.2,406.7 550.7,406.7"/>
<path d="M450.5,435.6 451.2,435.6 461.2,434.8 471.3,432.6 481.3,429.2 491.3,424.9 501.3,420.1 511.3,415.3 521.4,410.9 531.4,407.5 541.4,405.3 551.4,404.5 550.7,404.5"/>
<path d="M450.5,431.1 449.8,431.1 459.9,430.5 469.9,428.9 479.9,426.4 489.9,423.3 499.9,419.8 510.0,416.3 520.0,413.1 530.0,410.7 540.0,409.0 550.0,408.5 550.7,408.5"/>
<path d="M450.5,432.2 450.7,432.2 460.7,431.6 470.8,429.9 480.8,427.3 490.8,424.0 500.8,420.3 510.8,416.6 520.9,413.3 530.9,410.6 540.9,408.9 550.9,408.4 550.7,408.4"/>
<path d="M450.5,432.2 454.6,432.2 464.6,431.7 474.6,430.2 484.7,427.9 494.7,425.0 504.7,421.8 514.7,418.6 524.7,415.7 534.8,413.4 544.8,411.9 554.8,411.4 550.7,411.4"/>
<path d="M450.5,436.2 449.5,436.2 459.5,436.1 469.5,435.8 479.6,435.3 489.6,434.8 499.6,434.1 509.6,433.5 519.6,432.9 529.7,432.4 539.7,432.1 549.7,432.0 550.7,432.0"/>
<path d="M450.5,433.9 455.1,433.9 465.2,434.0 475.2,434.0 485.2,434.2 495.2,434.3 505.2,434.5 515.3,434.7 525.3,434.8 535.3,435.0 545.3,435.0 555.3,435.1 550.7,435.1"/>
<path d="M450.5,433.4 455.6,433.4 465.6,433.4 475.6,433.5 485.6,433.7 495.6,433.9 505.7,434.1 515.7,434.3 525.7,434.5 535.7,434.7 545.7,434.8 555.8,434.8 550.7,434.8"/>
<path d="M450.5,433.9 450.5,433.9 460.5,434.0 470.6,434.2 480.6,434.5 490.6,434.9 500.6,435.3 510.6,435.7 520.7,436.1 530.7,436.4 540.7,436.6 550.7,436.6 550.7,436.6"/>
<path d="M450.5,431.1 451.5,431.1 461.5,431.2 471.5,431.4 481.6,431.8 491.6,432.3 501.6,432.9 511.6,433.4 521.6,433.9 531.7,434.3 541.7,434.6 551.7,434.7 550.7,434.7"/>
<path d="M450.5,433.7 448.3,433.7 458.4,434.5 468.4,436.7 478.4,440.1 488.4,444.5 498.4,449.4 508.5,454.2 518.5,458.6 528.5,462.0 538.5,464.3 548.5,465.0 550.7,465.0"/>
<path d="M450.5,431.0 449.3,431.0 459.3,431.7 469.4,433.7 479.4,436.9 489.4,440.9 499.4,445.3 509.4,449.7 519.5,453.7 529.5,456.9 539.5,459.0 549.5,459.7 550.7,459.7"/>
<path d="M450.5,436.1 451.5,436.1 461.5,436.8 471.5,439.0 481.5,442.4 491.6,446.6 501.6,451.3 511.6,456.1 521.6,460.3 531.6,463.7 541.7,465.9 551.7,466.6 550.7,466.6"/>
<path d="M450.5,436.9 445.0,436.9 455.0,437.4 465.1,438.9 475.1,441.3 485.1,444.2 495.1,447.5 505.1,450.8 515.2,453.8 525.2,456.2 535.2,457.7 545.2,458.2 550.7,458.2"/>
<path d="M450.5,432.9 448.0,432.9 458.0,433.6 468.0,435.5 478.0,438.4 488.0,442.1 498.1,446.2 508.1,450.4 518.1,454.1 528.1,457.0 538.1,458.9 548.2,459.6 550.7,459.6"/>
<path d="M450.5,460.0 443.5,460.0 453.5,458.2 463.5,452.8 473.5,444.3 483.5,433.7 493.6,421.9 503.6,410.1 513.6,399.4 523.6,391.0 533.6,385.6 543.7,383.7 550.7,383.7"/>
<path d="M450.5,458.0 443.7,458.0 453.8,456.3 463.8,451.3 473.8,443.5 483.8,433.6 493.8,422.7 503.9,411.8 513.9,401.9 523.9,394.1 533.9,389.1 543.9,387.4 550.7,387.4"/>
<path d="M450.5,462.1 445.1,462.1 455.1,460.3 465.1,455.2 475.1,447.1 485.2,437.0 495.2,425.8 505.2,414.6 515.2,404.5 525.2,396.5 535.3,391.4 545.3,389.6 550.7,389.6"/>
<path d="M450.5,462.4 434.8,462.4 444.8,460.5 454.8,455.2 464.9,447.0 474.9,436.5 484.9,425.0 494.9,413.4 504.9,403.0 515.0,394.7 525.0,389.4 535.0,387.5 550.7,387.5"/>
<path d="M450.5,462.3 445.9,462.3 455.9,460.4 466.0,455.1 476.0,446.8 486.0,436.3 496.0,424.7 506.0,413.0 516.1,402.5 526.1,394.2 536.1,388.9 546.1,387.0 550.7,387.0"/>
<path d="M450.5,464.6 458.4,464.6 468.4,463.2 478.4,458.9 488.5,452.3 498.5,444.0 508.5,434.8 518.5,425.6 528.5,417.3 538.6,410.7 548.6,406.5 558.6,405.0 550.7,405.0"/>
<path d="M450.5,460.7 451.3,460.7 461.3,459.4 471.3,455.6 481.3,449.7 491.3,442.2 501.4,433.9 511.4,425.6 521.4,418.1 531.4,412.1 541.4,408.3 551.5,407.0 550.7,407.0"/>
<path d="M450.5,456.1 453.9,456.1 463.9,455.0 473.9,451.8 483.9,446.8 494.0,440.6 504.0,433.7 514.0,426.7 524.0,420.5 534.0,415.5 544.1,412.3 554.1,411.2 550.7,411.2"/>
<path d="M450.5,463.2 446.5,463.2 456.5,462.0 466.5,458.5 476.5,452.9 486.6,446.0 496.6,438.3 506.6,430.6 516.6,423.6 526.6,418.1 536.7,414.5 546.7,413.3 550.7,413.3"/>
<path d="M450.5,461.3 433.3,461.3 443.3,460.0 453.3,456.3 463.3,450.4 473.4,442.9 483.4,434.7 493.4,426.5 503.4,419.0 513.4,413.1 523.5,409.3 533.5,408.0 550.7,408.0"/>
<path d="M450.5,462.5 451.9,462.5 462.0,461.9 472.0,460.2 482.0,457.4 492.0,454.0 502.0,450.2 512.1,446.3 522.1,442.9 532.1,440.2 542.1,438.4 552.1,437.8 550.7,437.8"/>
<path d="M450.5,464.6 440.2,464.6 450.3,463.8 460.3,461.7 470.3,458.4 480.3,454.2 490.3,449.6 500.4,444.9 510.4,440.8 520.4,437.5 530.4,435.3 540.4,434.6 550.7,434.6"/>
<path d="M450.5,458.8 452.2,458.8 462.3,458.2 472.3,456.5 482.3,453.7 492.3,450.3 502.3,446.4 512.4,442.6 522.4,439.2 532.4,436.4 542.4,434.6 552.4,434.0 550.7,434.0"/>
<path d="M450.5,459.0 443.2,459.0 453.2,458.3 463.2,456.1 473.2,452.8 483.3,448.6 493.3,444.0 503.3,439.3 513.3,435.1 523.3,431.8 533.4,429.7 543.4,428.9 550.7,428.9"/>
<path d="M450.5,459.7 446.6,459.7 456.6,459.1 466.7,457.6 476.7,455.1 486.7,452.1 496.7,448.7 506.7,445.3 516.8,442.2 526.8,439.8 536.8,438.2 546.8,437.7 550.7,437.7"/>
<path d="M450.5,456.7 456.1,456.7 466.1,456.7 476.1,456.9 486.1,457.1 496.2,457.4 506.2,457.7 516.2,458.1 526.2,458.4 536.2,458.6 546.3,458.7 556.3,458.8 550.7,458.8"/>
<path d="M450.5,463.3 454.7,463.3 464.7,463.1 474.7,462.7 484.7,462.1 494.8,461.3 504.8,460.4 514.8,459.5 524.8,458.7 534.8,458.0 544.9,457.6 554.9,457.5 550.7,457.5"/>
<path d="M450.5,463.5 444.0,463.5 454.0,463.4 464.0,463.4 474.0,463.2 484.1,463.0 494.1,462.8 504.1,462.6 514.1,462.4 524.1,462.2 534.2,462.1 544.2,462.1 550.7,462.1"/>
<path d="M450.5,461.6 447.5,461.6 457.6,461.5 467.6,461.3 477.6,461.0 487.6,460.6 497.6,460.2 507.7,459.7 517.7,459.3 527.7,459.0 537.7,458.8 547.7,458.7 550.7,458.7"/>
<path d="M450.5,465.1 453.6,465.1 463.6,464.9 473.7,464.6 483.7,464.0 493.7,463.3 503.7,462.5 513.7,461.7 523.8,461.0 533.8,460.4 543.8,460.1 553.8,459.9 550.7,459.9"/>
<path d="M240.5,388.5 H456"/>
<path d="M240.5,464.3 H456"/>
<path d="M240.5,386.1 H456"/>
<path d="M240.5,458.5 H456"/>
<path d="M240.5,385.2 H456"/>
<path d="M240.5,458.3 H456"/>
<path d="M240.5,385.0 H456"/>
<path d="M240.5,459.7 H456"/>
<path d="M240.5,381.5 H456"/>
<path d="M240.5,458.0 H456"/>
<path d="M240.5,381.6 H456"/>
<path d="M240.5,459.9 H456"/>
<path d="M240.5,387.4 H456"/>
<path d="M240.5,461.9 H456"/>
<path d="M240.5,385.8 H456"/>
<path d="M240.5,457.5 H456"/>
<path d="M240.5,385.2 H456"/>
<path d="M240.5,456.5 H456"/>
<path d="M240.5,386.8 H456"/>
<path d="M240.5,456.0 H456"/>
<path d="M240.5,383.7 H456"/>
<path d="M240.5,464.5 H456"/>
<path d="M240.5,386.4 H456"/>
<path d="M240.5,457.5 H456"/>
<path d="M240.5,384.8 H456"/>
<path d="M240.5,457.4 H456"/>
<path d="M240.5,383.3 H456"/>
<path d="M240.5,458.9 H456"/>
</g></g>
</g>
<text x="258" y="363.8" font-size="13" font-weight="bold" fill="#fff" textLength="182.5" lengthAdjust="spacingAndGlyphs" >TX 100Gb/s PAM4 @IL=6.2dB</text>
<text x="312.5" y="486" font-size="13" font-weight="bold" fill="#fff" textLength="72" lengthAdjust="spacingAndGlyphs" >ER= 4.82dB</text>
<rect x="27" y="502.5" width="204.5" height="141.5" fill="#000"/>
<g clip-path="url(#k3)">
<g filter="url(#fRX)"><rect x="27" y="502.5" width="204.5" height="141.5" fill="#000" fill-opacity="0.0"/>
<g fill="none" stroke="#fff" stroke-width="9" stroke-opacity="0.19">
<path d="M-71.7,539.1 -68.2,539.1 -59.0,539.2 -49.8,539.5 -40.6,539.9 -31.4,540.4 -22.2,540.9 -13.0,541.5 -3.8,542.0 5.4,542.4 14.6,542.7 23.8,542.8 30.1,542.8"/>
<path d="M-71.7,535.2 -65.6,535.2 -56.4,535.3 -47.2,535.7 -38.0,536.2 -28.8,536.8 -19.6,537.6 -10.4,538.3 -1.2,539.0 8.0,539.5 17.2,539.8 26.4,540.0 30.1,540.0"/>
<path d="M-71.7,540.3 -66.9,540.3 -57.7,540.3 -48.5,540.3 -39.3,540.4 -30.1,540.4 -20.9,540.5 -11.7,540.5 -2.5,540.5 6.7,540.6 15.9,540.6 25.1,540.6 30.1,540.6"/>
<path d="M-71.7,538.1 -67.0,538.1 -57.8,538.1 -48.6,538.1 -39.4,538.0 -30.2,538.0 -21.0,537.9 -11.8,537.9 -2.6,537.8 6.6,537.8 15.8,537.7 25.0,537.7 30.1,537.7"/>
<path d="M-71.7,538.6 -65.5,538.6 -56.3,538.7 -47.1,538.9 -37.9,539.2 -28.7,539.7 -19.5,540.1 -10.3,540.6 -1.1,541.0 8.1,541.4 17.3,541.6 26.5,541.6 30.1,541.6"/>
<path d="M-71.7,536.6 -66.7,536.6 -57.5,536.7 -48.3,537.0 -39.1,537.5 -29.9,538.2 -20.7,538.9 -11.5,539.6 -2.3,540.2 6.9,540.7 16.1,541.0 25.3,541.1 30.1,541.1"/>
<path d="M-71.7,542.1 -65.6,542.1 -56.4,542.1 -47.2,542.2 -38.0,542.3 -28.8,542.4 -19.6,542.6 -10.4,542.7 -1.2,542.8 8.0,542.9 17.2,543.0 26.4,543.0 30.1,543.0"/>
<path d="M-71.7,535.4 -69.4,535.4 -60.2,535.6 -51.0,536.0 -41.8,536.6 -32.6,537.4 -23.4,538.2 -14.2,539.1 -5.0,539.9 4.2,540.5 13.4,540.9 22.6,541.1 30.1,541.1"/>
<path d="M-71.7,543.2 -66.9,543.2 -57.7,544.7 -48.5,549.1 -39.3,556.0 -30.1,564.7 -20.9,574.3 -11.7,583.9 -2.5,592.6 6.7,599.5 15.9,603.9 25.1,605.4 30.1,605.4"/>
<path d="M-71.7,543.8 -66.5,543.8 -57.3,545.2 -48.1,549.4 -38.9,556.0 -29.7,564.2 -20.5,573.3 -11.3,582.4 -2.1,590.7 7.1,597.2 16.3,601.4 25.5,602.9 30.1,602.9"/>
<path d="M-71.7,537.1 -68.1,537.1 -58.9,538.7 -49.7,543.6 -40.5,551.2 -31.3,560.8 -22.1,571.4 -12.9,582.0 -3.7,591.6 5.5,599.2 14.7,604.1 23.9,605.7 30.1,605.7"/>
<path d="M-71.7,541.1 -66.0,541.1 -56.8,542.7 -47.6,547.4 -38.4,554.6 -29.2,563.6 -20.0,573.7 -10.8,583.8 -1.6,592.8 7.6,600.0 16.8,604.7 26.0,606.3 30.1,606.3"/>
<path d="M-71.7,541.0 -64.1,541.0 -54.9,542.6 -45.7,547.0 -36.5,553.8 -27.3,562.4 -18.1,572.0 -8.9,581.6 0.3,590.2 9.5,597.1 18.7,601.5 27.9,603.0 30.1,603.0"/>
<path d="M-71.7,539.0 -67.8,539.0 -58.6,540.6 -49.4,545.1 -40.2,552.2 -31.0,561.1 -21.8,571.0 -12.6,580.9 -3.4,589.9 5.8,597.0 15.0,601.5 24.2,603.1 30.1,603.1"/>
<path d="M-71.7,541.6 -67.9,541.6 -58.7,543.2 -49.5,548.1 -40.3,555.5 -31.1,565.0 -21.9,575.4 -12.7,585.9 -3.5,595.3 5.7,602.8 14.9,607.6 24.1,609.3 30.1,609.3"/>
<path d="M-71.7,539.8 -64.7,539.8 -55.5,541.5 -46.3,546.3 -37.1,553.8 -27.9,563.2 -18.7,573.7 -9.5,584.1 -0.3,593.6 8.9,601.1 18.1,605.9 27.3,607.5 30.1,607.5"/>
<path d="M-71.7,606.6 -68.2,606.6 -59.0,605.1 -49.8,600.5 -40.6,593.3 -31.4,584.3 -22.2,574.2 -13.0,564.2 -3.8,555.2 5.4,548.0 14.6,543.4 23.8,541.9 30.1,541.9"/>
<path d="M-71.7,605.3 -65.3,605.3 -56.1,603.7 -46.9,599.2 -37.7,592.1 -28.5,583.1 -19.3,573.2 -10.1,563.3 -0.9,554.3 8.3,547.2 17.5,542.7 26.7,541.1 30.1,541.1"/>
<path d="M-71.7,606.9 -66.2,606.9 -57.0,605.2 -47.8,600.6 -38.6,593.3 -29.4,584.1 -20.2,573.9 -11.0,563.7 -1.8,554.6 7.4,547.3 16.6,542.6 25.8,541.0 30.1,541.0"/>
<path d="M-71.7,608.8 -65.6,608.8 -56.4,607.1 -47.2,602.4 -38.0,595.1 -28.8,585.8 -19.6,575.5 -10.4,565.3 -1.2,556.0 8.0,548.6 17.2,543.9 26.4,542.3 30.1,542.3"/>
<path d="M-71.7,608.9 -67.6,608.9 -58.4,607.2 -49.2,602.2 -40.0,594.4 -30.8,584.6 -21.6,573.8 -12.4,562.9 -3.2,553.1 6.0,545.4 15.2,540.4 24.4,538.6 30.1,538.6"/>
<path d="M-71.7,601.5 -66.5,601.5 -57.3,600.0 -48.1,595.6 -38.9,588.9 -29.7,580.4 -20.5,571.0 -11.3,561.6 -2.1,553.1 7.1,546.3 16.3,542.0 25.5,540.5 30.1,540.5"/>
<path d="M-71.7,608.2 -67.5,608.2 -58.3,606.4 -49.1,601.2 -39.9,593.2 -30.7,583.0 -21.5,571.7 -12.3,560.4 -3.1,550.2 6.1,542.2 15.3,537.0 24.5,535.2 30.1,535.2"/>
<path d="M-71.7,605.7 -64.9,605.7 -55.7,603.9 -46.5,598.9 -37.3,591.2 -28.1,581.4 -18.9,570.5 -9.7,559.6 -0.5,549.8 8.7,542.1 17.9,537.1 27.1,535.3 30.1,535.3"/>
<path d="M-71.7,609.8 -65.8,609.8 -56.6,609.7 -47.4,609.3 -38.2,608.6 -29.0,607.8 -19.8,606.9 -10.6,606.0 -1.4,605.2 7.8,604.5 17.0,604.1 26.2,604.0 30.1,604.0"/>
<path d="M-71.7,611.0 -64.8,611.0 -55.6,610.8 -46.4,610.4 -37.2,609.6 -28.0,608.6 -18.8,607.6 -9.6,606.5 -0.4,605.5 8.8,604.8 18.0,604.3 27.2,604.1 30.1,604.1"/>
<path d="M-71.7,610.7 -69.1,610.7 -59.9,610.7 -50.7,610.8 -41.5,610.8 -32.3,610.9 -23.1,611.0 -13.9,611.1 -4.7,611.2 4.5,611.3 13.7,611.3 22.9,611.3 30.1,611.3"/>
<path d="M-71.7,604.5 -64.4,604.5 -55.2,604.5 -46.0,604.8 -36.8,605.1 -27.6,605.5 -18.4,606.0 -9.2,606.4 0.0,606.8 9.2,607.2 18.4,607.4 27.6,607.5 30.1,607.5"/>
<path d="M-71.7,604.0 -68.6,604.0 -59.4,604.0 -50.2,604.1 -41.0,604.3 -31.8,604.4 -22.6,604.6 -13.4,604.8 -4.2,605.0 5.0,605.1 14.2,605.2 23.4,605.2 30.1,605.2"/>
<path d="M-71.7,609.6 -65.5,609.6 -56.3,609.5 -47.1,609.2 -37.9,608.8 -28.7,608.2 -19.5,607.6 -10.3,607.0 -1.1,606.5 8.1,606.0 17.3,605.8 26.5,605.7 30.1,605.7"/>
<path d="M-71.7,608.5 -65.8,608.5 -56.6,608.5 -47.4,608.6 -38.2,608.7 -29.0,608.9 -19.8,609.1 -10.6,609.3 -1.4,609.4 7.8,609.6 17.0,609.7 26.2,609.7 30.1,609.7"/>
<path d="M-71.7,607.8 -65.7,607.8 -56.5,607.8 -47.3,608.0 -38.1,608.2 -28.9,608.4 -19.7,608.7 -10.5,609.0 -1.3,609.3 7.9,609.5 17.1,609.6 26.3,609.7 30.1,609.7"/>
<path d="M30.1,536.6 36.9,536.6 46.1,536.6 55.3,536.8 64.5,536.9 73.7,537.2 82.9,537.5 92.1,537.7 101.3,538.0 110.5,538.1 119.7,538.3 128.9,538.3 131.9,538.3"/>
<path d="M30.1,539.9 35.7,539.9 44.9,539.9 54.1,539.8 63.3,539.7 72.5,539.5 81.7,539.3 90.9,539.1 100.1,539.0 109.3,538.9 118.5,538.8 127.7,538.7 131.9,538.7"/>
<path d="M30.1,547.4 36.1,547.4 45.3,547.2 54.5,546.6 63.7,545.7 72.9,544.6 82.1,543.4 91.3,542.2 100.5,541.1 109.7,540.2 118.9,539.6 128.1,539.5 131.9,539.5"/>
<path d="M30.1,540.6 37.4,540.6 46.6,540.6 55.8,540.5 65.0,540.3 74.2,540.1 83.4,539.8 92.6,539.5 101.8,539.3 111.0,539.1 120.2,539.0 129.4,538.9 131.9,538.9"/>
<path d="M30.1,541.6 32.7,541.6 41.9,541.6 51.1,541.5 60.3,541.4 69.5,541.2 78.7,541.1 87.9,540.9 97.1,540.7 106.3,540.6 115.5,540.5 124.7,540.5 131.9,540.5"/>
<path d="M30.1,542.5 35.1,542.5 44.3,542.5 53.5,542.4 62.7,542.3 71.9,542.1 81.1,542.0 90.3,541.8 99.5,541.6 108.7,541.5 117.9,541.4 127.1,541.4 131.9,541.4"/>
<path d="M30.1,533.2 33.0,533.2 42.2,533.4 51.4,533.8 60.6,534.5 69.8,535.4 79.0,536.3 88.2,537.3 97.4,538.2 106.6,538.8 115.8,539.3 125.0,539.4 131.9,539.4"/>
<path d="M30.1,539.0 33.7,539.0 42.9,539.0 52.1,539.0 61.3,538.9 70.5,538.8 79.7,538.7 88.9,538.6 98.1,538.5 107.3,538.4 116.5,538.4 125.7,538.4 131.9,538.4"/>
<path d="M30.1,542.0 37.5,542.0 46.7,543.6 55.9,548.2 65.1,555.4 74.3,564.5 83.5,574.6 92.7,584.7 101.9,593.8 111.1,601.0 120.3,605.6 129.5,607.2 131.9,607.2"/>
<path d="M30.1,537.3 37.7,537.3 46.9,539.0 56.1,543.9 65.3,551.6 74.5,561.2 83.7,571.9 92.9,582.6 102.1,592.2 111.3,599.9 120.5,604.8 129.7,606.5 131.9,606.5"/>
<path d="M30.1,540.3 33.6,540.3 42.8,541.9 52.0,546.5 61.2,553.7 70.4,562.8 79.6,572.8 88.8,582.8 98.0,591.9 107.2,599.1 116.4,603.7 125.6,605.3 131.9,605.3"/>
<path d="M30.1,538.2 36.5,538.2 45.7,539.8 54.9,544.7 64.1,552.3 73.3,561.9 82.5,572.5 91.7,583.1 100.9,592.6 110.1,600.2 119.3,605.1 128.5,606.8 131.9,606.8"/>
<path d="M30.1,539.9 36.8,539.9 46.0,541.6 55.2,546.5 64.4,554.1 73.6,563.7 82.8,574.3 92.0,585.0 101.2,594.6 110.4,602.2 119.6,607.1 128.8,608.7 131.9,608.7"/>
<path d="M30.1,539.8 36.6,539.8 45.8,541.6 55.0,546.5 64.2,554.3 73.4,564.1 82.6,574.9 91.8,585.8 101.0,595.6 110.2,603.3 119.4,608.3 128.6,610.0 131.9,610.0"/>
<path d="M30.1,539.1 35.2,539.1 44.4,540.8 53.6,545.6 62.8,553.0 72.0,562.4 81.2,572.9 90.4,583.3 99.6,592.7 108.8,600.1 118.0,604.9 127.2,606.6 131.9,606.6"/>
<path d="M30.1,537.8 35.3,537.8 44.5,539.4 53.7,544.1 62.9,551.4 72.1,560.6 81.3,570.8 90.5,581.0 99.7,590.2 108.9,597.5 118.1,602.2 127.3,603.8 131.9,603.8"/>
<path d="M30.1,605.8 34.1,605.8 43.3,604.2 52.5,599.6 61.7,592.4 70.9,583.4 80.1,573.4 89.3,563.3 98.5,554.3 107.7,547.1 116.9,542.5 126.1,540.9 131.9,540.9"/>
<path d="M30.1,607.2 34.3,607.2 43.5,605.6 52.7,600.8 61.9,593.4 71.1,584.0 80.3,573.6 89.5,563.2 98.7,553.9 107.9,546.4 117.1,541.7 126.3,540.0 131.9,540.0"/>
<path d="M30.1,607.4 34.4,607.4 43.6,605.7 52.8,600.8 62.0,593.1 71.2,583.4 80.4,572.6 89.6,561.9 98.8,552.2 108.0,544.5 117.2,539.6 126.4,537.9 131.9,537.9"/>
<path d="M30.1,608.9 35.2,608.9 44.4,607.2 53.6,602.3 62.8,594.8 72.0,585.2 81.2,574.7 90.4,564.1 99.6,554.6 108.8,547.0 118.0,542.2 127.2,540.5 131.9,540.5"/>
<path d="M30.1,605.1 38.9,605.1 48.1,603.5 57.3,599.0 66.5,591.9 75.7,583.0 84.9,573.2 94.1,563.3 103.3,554.4 112.5,547.3 121.7,542.8 130.9,541.2 131.9,541.2"/>
<path d="M30.1,601.8 35.6,601.8 44.8,600.4 54.0,596.1 63.2,589.5 72.4,581.2 81.6,571.9 90.8,562.7 100.0,554.4 109.2,547.7 118.4,543.5 127.6,542.0 131.9,542.0"/>
<path d="M30.1,609.6 33.3,609.6 42.5,607.9 51.7,603.1 60.9,595.7 70.1,586.3 79.3,575.9 88.5,565.5 97.7,556.2 106.9,548.7 116.1,544.0 125.3,542.3 131.9,542.3"/>
<path d="M30.1,611.1 34.7,611.1 43.9,609.3 53.1,604.1 62.3,596.0 71.5,585.9 80.7,574.6 89.9,563.3 99.1,553.2 108.3,545.1 117.5,539.9 126.7,538.2 131.9,538.2"/>
<path d="M30.1,608.4 35.7,608.4 44.9,608.4 54.1,608.3 63.3,608.1 72.5,607.9 81.7,607.6 90.9,607.3 100.1,607.1 109.3,606.9 118.5,606.8 127.7,606.8 131.9,606.8"/>
<path d="M30.1,605.7 35.2,605.7 44.4,605.7 53.6,605.6 62.8,605.5 72.0,605.3 81.2,605.1 90.4,604.9 99.6,604.8 108.8,604.6 118.0,604.5 127.2,604.5 131.9,604.5"/>
<path d="M30.1,604.4 35.6,604.4 44.8,604.5 54.0,604.9 63.2,605.6 72.4,606.4 81.6,607.2 90.8,608.1 100.0,608.9 109.2,609.6 118.4,610.0 127.6,610.1 131.9,610.1"/>
<path d="M30.1,610.3 31.4,610.3 40.6,610.1 49.8,609.7 59.0,609.0 68.2,608.1 77.4,607.1 86.6,606.2 95.8,605.3 105.0,604.6 114.2,604.2 123.4,604.0 131.9,604.0"/>
<path d="M30.1,601.6 32.8,601.6 42.0,601.7 51.2,602.0 60.4,602.5 69.6,603.1 78.8,603.8 88.0,604.5 97.2,605.1 106.4,605.6 115.6,605.9 124.8,606.1 131.9,606.1"/>
<path d="M30.1,607.8 32.6,607.8 41.8,607.7 51.0,607.4 60.2,606.9 69.4,606.3 78.6,605.6 87.8,605.0 97.0,604.4 106.2,603.9 115.4,603.6 124.6,603.5 131.9,603.5"/>
<path d="M30.1,607.6 36.4,607.6 45.6,607.6 54.8,607.5 64.0,607.3 73.2,607.1 82.4,606.8 91.6,606.6 100.8,606.3 110.0,606.2 119.2,606.1 128.4,606.0 131.9,606.0"/>
<path d="M30.1,608.9 32.9,608.9 42.1,608.8 51.3,608.8 60.5,608.6 69.7,608.5 78.9,608.3 88.1,608.2 97.3,608.0 106.5,607.9 115.7,607.8 124.9,607.8 131.9,607.8"/>
<path d="M131.9,537.5 136.6,537.5 145.8,537.7 155.0,538.2 164.2,539.0 173.4,540.1 182.6,541.2 191.8,542.3 201.0,543.4 210.2,544.2 219.4,544.7 228.6,544.9 233.7,544.9"/>
<path d="M131.9,540.2 136.9,540.2 146.1,540.2 155.3,540.2 164.5,540.2 173.7,540.1 182.9,540.0 192.1,540.0 201.3,539.9 210.5,539.9 219.7,539.9 228.9,539.8 233.7,539.8"/>
<path d="M131.9,539.1 136.0,539.1 145.2,539.1 154.4,539.1 163.6,539.0 172.8,538.8 182.0,538.7 191.2,538.5 200.4,538.4 209.6,538.3 218.8,538.2 228.0,538.2 233.7,538.2"/>
<path d="M131.9,534.8 136.8,534.8 146.0,535.0 155.2,535.6 164.4,536.6 173.6,537.8 182.8,539.1 192.0,540.5 201.2,541.7 210.4,542.7 219.6,543.3 228.8,543.5 233.7,543.5"/>
<path d="M131.9,536.4 138.2,536.4 147.4,536.6 156.6,536.9 165.8,537.3 175.0,537.9 184.2,538.6 193.4,539.3 202.6,539.9 211.8,540.4 221.0,540.7 230.2,540.8 233.7,540.8"/>
<path d="M131.9,536.1 139.8,536.1 149.0,536.2 158.2,536.3 167.4,536.6 176.6,536.9 185.8,537.2 195.0,537.6 204.2,537.9 213.4,538.1 222.6,538.3 231.8,538.3 233.7,538.3"/>
<path d="M131.9,540.8 138.8,540.8 148.0,540.8 157.2,540.8 166.4,540.8 175.6,540.7 184.8,540.7 194.0,540.6 203.2,540.6 212.4,540.6 221.6,540.6 230.8,540.6 233.7,540.6"/>
<path d="M131.9,539.2 139.9,539.2 149.1,539.2 158.3,539.2 167.5,539.2 176.7,539.1 185.9,539.0 195.1,539.0 204.3,538.9 213.5,538.9 222.7,538.9 231.9,538.9 233.7,538.9"/>
<path d="M131.9,539.1 138.2,539.1 147.4,540.8 156.6,545.6 165.8,553.1 175.0,562.5 184.2,572.9 193.4,583.4 202.6,592.8 211.8,600.3 221.0,605.1 230.2,606.8 233.7,606.8"/>
<path d="M131.9,539.6 140.5,539.6 149.7,541.2 158.9,545.8 168.1,552.9 177.3,561.9 186.5,571.8 195.7,581.8 204.9,590.8 214.1,597.9 223.3,602.5 232.5,604.0 233.7,604.0"/>
<path d="M131.9,539.4 137.9,539.4 147.1,541.1 156.3,546.2 165.5,554.2 174.7,564.2 183.9,575.3 193.1,586.4 202.3,596.4 211.5,604.3 220.7,609.4 229.9,611.2 233.7,611.2"/>
<path d="M131.9,537.4 136.7,537.4 145.9,539.2 155.1,544.4 164.3,552.5 173.5,562.7 182.7,574.0 191.9,585.3 201.1,595.5 210.3,603.6 219.5,608.8 228.7,610.6 233.7,610.6"/>
<path d="M131.9,537.5 133.0,537.5 142.2,539.2 151.4,544.1 160.6,551.8 169.8,561.5 179.0,572.2 188.2,582.9 197.4,592.6 206.6,600.3 215.8,605.2 225.0,606.9 233.7,606.9"/>
<path d="M131.9,540.5 136.5,540.5 145.7,542.1 154.9,546.7 164.1,553.8 173.3,562.9 182.5,572.9 191.7,582.9 200.9,591.9 210.1,599.0 219.3,603.6 228.5,605.2 233.7,605.2"/>
<path d="M131.9,537.4 137.7,537.4 146.9,539.2 156.1,544.2 165.3,552.1 174.5,562.0 183.7,573.0 192.9,584.0 202.1,593.9 211.3,601.8 220.5,606.8 229.7,608.5 233.7,608.5"/>
<path d="M131.9,542.1 137.5,542.1 146.7,543.8 155.9,548.7 165.1,556.3 174.3,565.9 183.5,576.5 192.7,587.1 201.9,596.7 211.1,604.3 220.3,609.2 229.5,610.9 233.7,610.9"/>
<path d="M131.9,607.2 135.5,607.2 144.7,605.5 153.9,600.8 163.1,593.4 172.3,584.1 181.5,573.7 190.7,563.4 199.9,554.1 209.1,546.7 218.3,541.9 227.5,540.3 233.7,540.3"/>
<path d="M131.9,605.7 135.4,605.7 144.6,604.1 153.8,599.5 163.0,592.4 172.2,583.4 181.4,573.5 190.6,563.6 199.8,554.6 209.0,547.5 218.2,542.9 227.4,541.3 233.7,541.3"/>
<path d="M131.9,602.4 137.5,602.4 146.7,600.8 155.9,596.3 165.1,589.3 174.3,580.4 183.5,570.5 192.7,560.7 201.9,551.8 211.1,544.8 220.3,540.3 229.5,538.7 233.7,538.7"/>
<path d="M131.9,610.4 135.3,610.4 144.5,608.6 153.7,603.5 162.9,595.5 172.1,585.3 181.3,574.1 190.5,562.9 199.7,552.8 208.9,544.8 218.1,539.6 227.3,537.9 233.7,537.9"/>
<path d="M131.9,607.2 137.4,607.2 146.6,605.5 155.8,600.7 165.0,593.2 174.2,583.7 183.4,573.2 192.6,562.7 201.8,553.2 211.0,545.7 220.2,540.8 229.4,539.2 233.7,539.2"/>
<path d="M131.9,605.7 135.9,605.7 145.1,604.1 154.3,599.5 163.5,592.2 172.7,583.0 181.9,572.9 191.1,562.7 200.3,553.6 209.5,546.3 218.7,541.6 227.9,540.0 233.7,540.0"/>
<path d="M131.9,609.3 138.0,609.3 147.2,607.6 156.4,602.7 165.6,595.0 174.8,585.4 184.0,574.7 193.2,564.1 202.4,554.4 211.6,546.8 220.8,541.9 230.0,540.2 233.7,540.2"/>
<path d="M131.9,605.9 137.0,605.9 146.2,604.2 155.4,599.2 164.6,591.5 173.8,581.8 183.0,571.0 192.2,560.3 201.4,550.5 210.6,542.8 219.8,537.9 229.0,536.2 233.7,536.2"/>
<path d="M131.9,606.8 138.8,606.8 148.0,606.9 157.2,607.1 166.4,607.4 175.6,607.7 184.8,608.2 194.0,608.6 203.2,609.0 212.4,609.3 221.6,609.5 230.8,609.5 233.7,609.5"/>
<path d="M131.9,606.9 135.2,606.9 144.4,606.9 153.6,606.8 162.8,606.8 172.0,606.8 181.2,606.8 190.4,606.8 199.6,606.8 208.8,606.8 218.0,606.8 227.2,606.8 233.7,606.8"/>
<path d="M131.9,606.8 136.2,606.8 145.4,606.9 154.6,606.9 163.8,607.0 173.0,607.0 182.2,607.1 191.4,607.2 200.6,607.3 209.8,607.4 219.0,607.4 228.2,607.4 233.7,607.4"/>
<path d="M131.9,604.4 135.3,604.4 144.5,604.5 153.7,604.9 162.9,605.5 172.1,606.3 181.3,607.2 190.5,608.0 199.7,608.8 208.9,609.4 218.1,609.8 227.3,609.9 233.7,609.9"/>
<path d="M131.9,610.8 139.8,610.8 149.0,610.8 158.2,610.7 167.4,610.6 176.6,610.4 185.8,610.3 195.0,610.1 204.2,609.9 213.4,609.8 222.6,609.7 231.8,609.7 233.7,609.7"/>
<path d="M131.9,604.9 134.4,604.9 143.6,605.0 152.8,605.3 162.0,605.7 171.2,606.1 180.4,606.7 189.6,607.2 198.8,607.7 208.0,608.1 217.2,608.3 226.4,608.4 233.7,608.4"/>
<path d="M131.9,606.1 135.6,606.1 144.8,606.0 154.0,605.8 163.2,605.5 172.4,605.1 181.6,604.7 190.8,604.3 200.0,603.9 209.2,603.6 218.4,603.4 227.6,603.3 233.7,603.3"/>
<path d="M131.9,605.7 139.0,605.7 148.2,605.8 157.4,606.1 166.6,606.5 175.8,606.9 185.0,607.5 194.2,608.0 203.4,608.5 212.6,608.8 221.8,609.1 231.0,609.2 233.7,609.2"/>
<path d="M233.7,538.7 237.0,538.7 246.2,538.7 255.4,538.7 264.6,538.7 273.8,538.7 283.0,538.8 292.2,538.8 301.4,538.8 310.6,538.8 319.8,538.8 329.0,538.9 335.5,538.9"/>
<path d="M233.7,536.8 238.4,536.8 247.6,536.8 256.8,536.7 266.0,536.5 275.2,536.3 284.4,536.1 293.6,535.9 302.8,535.6 312.0,535.5 321.2,535.4 330.4,535.3 335.5,535.3"/>
<path d="M233.7,540.9 239.4,540.9 248.6,540.8 257.8,540.6 267.0,540.2 276.2,539.8 285.4,539.3 294.6,538.8 303.8,538.4 313.0,538.0 322.2,537.8 331.4,537.7 335.5,537.7"/>
<path d="M233.7,536.8 237.8,536.8 247.0,536.8 256.2,536.8 265.4,536.9 274.6,536.9 283.8,537.0 293.0,537.0 302.2,537.1 311.4,537.1 320.6,537.2 329.8,537.2 335.5,537.2"/>
<path d="M233.7,541.6 240.2,541.6 249.4,541.5 258.6,541.3 267.8,540.9 277.0,540.4 286.2,539.9 295.4,539.4 304.6,539.0 313.8,538.6 323.0,538.4 332.2,538.3 335.5,538.3"/>
<path d="M233.7,538.7 235.1,538.7 244.3,538.6 253.5,538.5 262.7,538.3 271.9,538.1 281.1,537.8 290.3,537.5 299.5,537.3 308.7,537.1 317.9,537.0 327.1,536.9 335.5,536.9"/>
<path d="M233.7,538.4 240.4,538.4 249.6,538.4 258.8,538.3 268.0,538.2 277.2,538.0 286.4,537.8 295.6,537.7 304.8,537.5 314.0,537.4 323.2,537.3 332.4,537.3 335.5,537.3"/>
<path d="M233.7,540.5 240.3,540.5 249.5,540.4 258.7,540.1 267.9,539.5 277.1,538.9 286.3,538.1 295.5,537.4 304.7,536.7 313.9,536.1 323.1,535.8 332.3,535.7 335.5,535.7"/>
<path d="M233.7,540.7 236.8,540.7 246.0,542.2 255.2,546.4 264.4,553.0 273.6,561.3 282.8,570.4 292.0,579.6 301.2,587.9 310.4,594.5 319.6,598.7 328.8,600.1 335.5,600.1"/>
<path d="M233.7,540.1 237.4,540.1 246.6,541.6 255.8,546.1 265.0,553.1 274.2,561.9 283.4,571.6 292.6,581.4 301.8,590.2 311.0,597.2 320.2,601.6 329.4,603.2 335.5,603.2"/>
<path d="M233.7,540.7 239.6,540.7 248.8,542.3 258.0,547.1 267.2,554.5 276.4,563.8 285.6,574.1 294.8,584.4 304.0,593.7 313.2,601.1 322.4,605.8 331.6,607.5 335.5,607.5"/>
<path d="M233.7,540.9 243.1,540.9 252.3,542.5 261.5,547.0 270.7,554.1 279.9,563.0 289.1,572.9 298.3,582.8 307.5,591.7 316.7,598.7 325.9,603.3 335.1,604.8 335.5,604.8"/>
<path d="M233.7,540.7 238.3,540.7 247.5,542.4 256.7,547.5 265.9,555.4 275.1,565.3 284.3,576.3 293.5,587.3 302.7,597.2 311.9,605.1 321.1,610.1 330.3,611.9 335.5,611.9"/>
<path d="M233.7,540.8 238.5,540.8 247.7,542.4 256.9,547.2 266.1,554.6 275.3,563.9 284.5,574.2 293.7,584.6 302.9,593.9 312.1,601.3 321.3,606.0 330.5,607.7 335.5,607.7"/>
<path d="M233.7,540.2 240.2,540.2 249.4,541.9 258.6,546.6 267.8,554.1 277.0,563.5 286.2,573.9 295.4,584.2 304.6,593.6 313.8,601.1 323.0,605.8 332.2,607.5 335.5,607.5"/>
<path d="M233.7,540.2 239.6,540.2 248.8,541.9 258.0,546.6 267.2,554.0 276.4,563.3 285.6,573.6 294.8,583.9 304.0,593.3 313.2,600.6 322.4,605.4 331.6,607.0 335.5,607.0"/>
<path d="M233.7,610.2 239.8,610.2 249.0,608.5 258.2,603.5 267.4,595.7 276.6,585.9 285.8,574.9 295.0,564.0 304.2,554.2 313.4,546.4 322.6,541.4 331.8,539.7 335.5,539.7"/>
<path d="M233.7,607.2 237.1,607.2 246.3,605.4 255.5,600.3 264.7,592.3 273.9,582.2 283.1,571.1 292.3,559.9 301.5,549.8 310.7,541.8 319.9,536.7 329.1,534.9 335.5,534.9"/>
<path d="M233.7,604.8 237.6,604.8 246.8,603.1 256.0,598.2 265.2,590.6 274.4,581.1 283.6,570.5 292.8,559.9 302.0,550.4 311.2,542.8 320.4,537.9 329.6,536.3 335.5,536.3"/>
<path d="M233.7,602.8 237.8,602.8 247.0,601.3 256.2,596.8 265.4,589.9 274.6,581.1 283.8,571.4 293.0,561.8 302.2,553.0 311.4,546.1 320.6,541.6 329.8,540.1 335.5,540.1"/>
<path d="M233.7,609.7 236.4,609.7 245.6,608.0 254.8,603.1 264.0,595.4 273.2,585.8 282.4,575.0 291.6,564.3 300.8,554.7 310.0,547.0 319.2,542.1 328.4,540.4 335.5,540.4"/>
<path d="M233.7,606.4 237.5,606.4 246.7,604.7 255.9,600.0 265.1,592.6 274.3,583.3 283.5,573.0 292.7,562.7 301.9,553.3 311.1,546.0 320.3,541.2 329.5,539.6 335.5,539.6"/>
<path d="M233.7,606.0 237.4,606.0 246.6,604.3 255.8,599.4 265.0,591.8 274.2,582.2 283.4,571.5 292.6,560.8 301.8,551.2 311.0,543.6 320.2,538.7 329.4,537.0 335.5,537.0"/>
<path d="M233.7,607.5 240.9,607.5 250.1,605.8 259.3,600.9 268.5,593.3 277.7,583.7 286.9,573.1 296.1,562.5 305.3,552.9 314.5,545.3 323.7,540.4 332.9,538.7 335.5,538.7"/>
<path d="M233.7,602.0 238.1,602.0 247.3,602.1 256.5,602.3 265.7,602.6 274.9,603.0 284.1,603.5 293.3,604.0 302.5,604.4 311.7,604.7 320.9,605.0 330.1,605.0 335.5,605.0"/>
<path d="M233.7,610.3 240.1,610.3 249.3,610.3 258.5,610.2 267.7,610.1 276.9,610.0 286.1,609.9 295.3,609.7 304.5,609.6 313.7,609.5 322.9,609.5 332.1,609.4 335.5,609.4"/>
<path d="M233.7,609.1 239.9,609.1 249.1,609.2 258.3,609.3 267.5,609.4 276.7,609.6 285.9,609.8 295.1,610.1 304.3,610.3 313.5,610.4 322.7,610.5 331.9,610.5 335.5,610.5"/>
<path d="M233.7,606.3 237.4,606.3 246.6,606.3 255.8,606.4 265.0,606.5 274.2,606.7 283.4,606.8 292.6,606.9 301.8,607.1 311.0,607.2 320.2,607.3 329.4,607.3 335.5,607.3"/>
<path d="M233.7,606.3 237.8,606.3 247.0,606.4 256.2,606.5 265.4,606.6 274.6,606.8 283.8,607.0 293.0,607.2 302.2,607.4 311.4,607.6 320.6,607.7 329.8,607.7 335.5,607.7"/>
<path d="M233.7,607.1 236.3,607.1 245.5,607.1 254.7,607.0 263.9,606.8 273.1,606.7 282.3,606.5 291.5,606.3 300.7,606.1 309.9,606.0 319.1,605.9 328.3,605.8 335.5,605.8"/>
<path d="M233.7,603.5 238.8,603.5 248.0,603.6 257.2,604.0 266.4,604.5 275.6,605.2 284.8,606.0 294.0,606.7 303.2,607.4 312.4,608.0 321.6,608.3 330.8,608.4 335.5,608.4"/>
<path d="M233.7,608.8 238.7,608.8 247.9,608.7 257.1,608.5 266.3,608.3 275.5,608.0 284.7,607.7 293.9,607.3 303.1,607.0 312.3,606.8 321.5,606.7 330.7,606.6 335.5,606.6"/>
</g></g>
<line x1="47.5" y1="520" x2="47.5" y2="626" stroke="#9a9a9a" stroke-width="0.8" stroke-dasharray="1.5,1.5" opacity="0.4"/>
<line x1="67.9" y1="520" x2="67.9" y2="626" stroke="#9a9a9a" stroke-width="0.8" stroke-dasharray="1.5,1.5" opacity="0.4"/>
<line x1="88.3" y1="520" x2="88.3" y2="626" stroke="#9a9a9a" stroke-width="0.8" stroke-dasharray="1.5,1.5" opacity="0.4"/>
<line x1="108.8" y1="520" x2="108.8" y2="626" stroke="#9a9a9a" stroke-width="0.8" stroke-dasharray="1.5,1.5" opacity="0.4"/>
<line x1="129.2" y1="520" x2="129.2" y2="626" stroke="#9a9a9a" stroke-width="0.8" stroke-dasharray="1.5,1.5" opacity="0.4"/>
<line x1="149.7" y1="520" x2="149.7" y2="626" stroke="#9a9a9a" stroke-width="0.8" stroke-dasharray="1.5,1.5" opacity="0.4"/>
<line x1="170.2" y1="520" x2="170.2" y2="626" stroke="#9a9a9a" stroke-width="0.8" stroke-dasharray="1.5,1.5" opacity="0.4"/>
<line x1="190.6" y1="520" x2="190.6" y2="626" stroke="#9a9a9a" stroke-width="0.8" stroke-dasharray="1.5,1.5" opacity="0.4"/>
<line x1="211.0" y1="520" x2="211.0" y2="626" stroke="#9a9a9a" stroke-width="0.8" stroke-dasharray="1.5,1.5" opacity="0.4"/>
<line x1="27" y1="532.0" x2="231.5" y2="532.0" stroke="#9a9a9a" stroke-width="0.8" stroke-dasharray="1.5,1.5" opacity="0.4"/>
<line x1="27" y1="552.5" x2="231.5" y2="552.5" stroke="#9a9a9a" stroke-width="0.8" stroke-dasharray="1.5,1.5" opacity="0.4"/>
<line x1="27" y1="573.0" x2="231.5" y2="573.0" stroke="#9a9a9a" stroke-width="0.8" stroke-dasharray="1.5,1.5" opacity="0.4"/>
<line x1="27" y1="593.5" x2="231.5" y2="593.5" stroke="#9a9a9a" stroke-width="0.8" stroke-dasharray="1.5,1.5" opacity="0.4"/>
<line x1="27" y1="614.0" x2="231.5" y2="614.0" stroke="#9a9a9a" stroke-width="0.8" stroke-dasharray="1.5,1.5" opacity="0.4"/>
<line x1="31" y1="572.5" x2="55" y2="572.5" stroke="#ff9a30" stroke-width="1" stroke-dasharray="3,2"/>
</g>
<text x="82" y="517.8" font-size="13" font-weight="bold" fill="#fff" textLength="94.5" lengthAdjust="spacingAndGlyphs" >RX 56Gb/s NRZ</text>
<text x="66.6" y="638.5" font-size="13" font-weight="bold" fill="#fff" textLength="124.5" lengthAdjust="spacingAndGlyphs" >Input OMA=-5.7dBm</text>
<rect x="245.5" y="502" width="205.5" height="141.5" fill="#000"/>
<g clip-path="url(#k4)">
<g filter="url(#fRX4)"><rect x="245.5" y="502" width="205.5" height="141.5" fill="#000" fill-opacity="0.0"/>
<g fill="none" stroke="#fff" stroke-width="9" stroke-opacity="0.11">
<path d="M150.0,540.1 141.8,540.1 151.8,540.1 161.8,540.0 171.8,539.9 181.8,539.8 191.8,539.7 201.8,539.6 211.8,539.6 221.8,539.5 231.8,539.4 241.8,539.4 250.0,539.4"/>
<path d="M150.0,531.9 154.6,531.9 164.6,532.0 174.6,532.3 184.6,532.8 194.6,533.5 204.6,534.2 214.6,535.0 224.6,535.7 234.6,536.2 244.6,536.5 254.6,536.6 250.0,536.6"/>
<path d="M150.0,536.5 147.0,536.5 157.0,536.4 167.0,536.2 177.0,535.8 187.0,535.3 197.0,534.8 207.0,534.3 217.0,533.8 227.0,533.4 237.0,533.2 247.0,533.1 250.0,533.1"/>
<path d="M150.0,540.6 156.3,540.6 166.3,540.5 176.3,539.9 186.3,539.1 196.3,538.1 206.3,537.0 216.3,535.8 226.3,534.8 236.3,534.0 246.3,533.5 256.3,533.3 250.0,533.3"/>
<path d="M150.0,538.3 154.6,538.3 164.6,538.3 174.6,538.2 184.6,538.2 194.6,538.2 204.6,538.2 214.6,538.2 224.6,538.2 234.6,538.2 244.6,538.2 254.6,538.2 250.0,538.2"/>
<path d="M150.0,535.5 160.8,535.5 170.8,536.0 180.8,537.7 190.8,540.2 200.8,543.4 210.8,547.0 220.8,550.5 230.8,553.7 240.8,556.3 250.8,557.9 260.8,558.5 250.0,558.5"/>
<path d="M150.0,535.9 141.6,535.9 151.6,536.4 161.6,538.0 171.6,540.4 181.6,543.4 191.6,546.8 201.6,550.2 211.6,553.2 221.6,555.6 231.6,557.2 241.6,557.7 250.0,557.7"/>
<path d="M150.0,535.7 157.5,535.7 167.5,536.3 177.5,538.1 187.5,540.8 197.5,544.3 207.5,548.2 217.5,552.1 227.5,555.6 237.5,558.3 247.5,560.1 257.5,560.7 250.0,560.7"/>
<path d="M150.0,538.6 153.5,538.6 163.5,539.1 173.5,540.7 183.5,543.1 193.5,546.1 203.5,549.5 213.5,552.9 223.5,555.9 233.5,558.4 243.5,559.9 253.5,560.4 250.0,560.4"/>
<path d="M150.0,537.8 149.2,537.8 159.2,538.4 169.2,540.0 179.2,542.7 189.2,545.9 199.2,549.6 209.2,553.3 219.2,556.5 229.2,559.2 239.2,560.8 249.2,561.4 250.0,561.4"/>
<path d="M150.0,539.7 140.5,539.7 150.5,540.8 160.5,544.0 170.5,549.0 180.5,555.2 190.5,562.2 200.5,569.1 210.5,575.4 220.5,580.3 230.5,583.5 240.5,584.6 250.0,584.6"/>
<path d="M150.0,533.6 147.3,533.6 157.3,534.8 167.3,538.4 177.3,544.1 187.3,551.1 197.3,559.0 207.3,566.8 217.3,573.9 227.3,579.5 237.3,583.1 247.3,584.3 250.0,584.3"/>
<path d="M150.0,533.8 151.1,533.8 161.1,535.0 171.1,538.5 181.1,543.9 191.1,550.7 201.1,558.3 211.1,565.9 221.1,572.7 231.1,578.2 241.1,581.6 251.1,582.8 250.0,582.8"/>
<path d="M150.0,538.0 144.9,538.0 154.9,539.2 164.9,542.6 174.9,548.1 184.9,554.9 194.9,562.5 204.9,570.1 214.9,576.9 224.9,582.3 234.9,585.8 244.9,587.0 250.0,587.0"/>
<path d="M150.0,537.9 152.1,537.9 162.1,539.1 172.1,542.6 182.1,548.1 192.1,555.0 202.1,562.7 212.1,570.3 222.1,577.3 232.1,582.7 242.1,586.3 252.1,587.5 250.0,587.5"/>
<path d="M150.0,541.5 150.0,541.5 160.0,543.0 170.0,547.7 180.0,554.8 190.0,563.9 200.0,573.9 210.0,583.9 220.0,592.9 230.0,600.1 240.0,604.7 250.0,606.3 250.0,606.3"/>
<path d="M150.0,537.4 149.7,537.4 159.7,539.1 169.7,544.0 179.7,551.6 189.7,561.2 199.7,571.9 209.7,582.6 219.7,592.2 229.7,599.9 239.7,604.8 249.7,606.5 250.0,606.5"/>
<path d="M150.0,537.5 147.1,537.5 157.1,539.2 167.1,544.2 177.1,551.9 187.1,561.7 197.1,572.5 207.1,583.3 217.1,593.0 227.1,600.7 237.1,605.7 247.1,607.4 250.0,607.4"/>
<path d="M150.0,535.8 140.9,535.8 150.9,537.5 160.9,542.6 170.9,550.5 180.9,560.5 190.9,571.5 200.9,582.6 210.9,592.6 220.9,600.5 230.9,605.6 240.9,607.3 250.0,607.3"/>
<path d="M150.0,537.4 148.6,537.4 158.6,539.0 168.6,543.8 178.6,551.3 188.6,560.6 198.6,571.0 208.6,581.4 218.6,590.8 228.6,598.3 238.6,603.1 248.6,604.7 250.0,604.7"/>
<path d="M150.0,556.0 147.8,556.0 157.8,555.6 167.8,554.2 177.8,552.1 187.8,549.5 197.8,546.6 207.8,543.7 217.8,541.1 227.8,539.0 237.8,537.6 247.8,537.2 250.0,537.2"/>
<path d="M150.0,558.1 150.7,558.1 160.7,557.6 170.7,555.9 180.7,553.4 190.7,550.2 200.7,546.6 210.7,543.0 220.7,539.8 230.7,537.2 240.7,535.6 250.7,535.0 250.0,535.0"/>
<path d="M150.0,562.9 153.1,562.9 163.1,562.1 173.1,560.0 183.1,556.6 193.1,552.3 203.1,547.6 213.1,542.9 223.1,538.6 233.1,535.2 243.1,533.0 253.1,532.3 250.0,532.3"/>
<path d="M150.0,559.4 142.5,559.4 152.5,558.8 162.5,557.1 172.5,554.6 182.5,551.3 192.5,547.7 202.5,544.0 212.5,540.8 222.5,538.2 232.5,536.5 242.5,535.9 250.0,535.9"/>
<path d="M150.0,562.8 155.9,562.8 165.9,562.2 175.9,560.4 185.9,557.6 195.9,554.0 205.9,550.1 215.9,546.2 225.9,542.6 235.9,539.8 245.9,538.0 255.9,537.4 250.0,537.4"/>
<path d="M150.0,557.9 156.4,557.9 166.4,557.8 176.4,557.8 186.4,557.7 196.4,557.5 206.4,557.4 216.4,557.2 226.4,557.1 236.4,557.0 246.4,556.9 256.4,556.9 250.0,556.9"/>
<path d="M150.0,560.7 148.7,560.7 158.7,560.6 168.7,560.4 178.7,560.1 188.7,559.8 198.7,559.4 208.7,559.0 218.7,558.6 228.7,558.3 238.7,558.1 248.7,558.0 250.0,558.0"/>
<path d="M150.0,560.4 145.1,560.4 155.1,560.3 165.1,560.0 175.1,559.6 185.1,559.1 195.1,558.6 205.1,558.0 215.1,557.5 225.1,557.1 235.1,556.9 245.1,556.8 250.0,556.8"/>
<path d="M150.0,558.7 155.1,558.7 165.1,558.8 175.1,559.0 185.1,559.3 195.1,559.6 205.1,560.0 215.1,560.5 225.1,560.8 235.1,561.1 245.1,561.3 255.1,561.4 250.0,561.4"/>
<path d="M150.0,559.3 149.1,559.3 159.1,559.4 169.1,559.6 179.1,559.9 189.1,560.3 199.1,560.8 209.1,561.2 219.1,561.6 229.1,562.0 239.1,562.2 249.1,562.2 250.0,562.2"/>
<path d="M150.0,557.6 147.1,557.6 157.1,558.4 167.1,560.7 177.1,564.4 187.1,569.0 197.1,574.2 207.1,579.3 217.1,583.9 227.1,587.6 237.1,590.0 247.1,590.8 250.0,590.8"/>
<path d="M150.0,560.3 150.7,560.3 160.7,561.0 170.7,562.8 180.7,565.7 190.7,569.3 200.7,573.3 210.7,577.3 220.7,580.9 230.7,583.8 240.7,585.6 250.7,586.2 250.0,586.2"/>
<path d="M150.0,559.4 153.3,559.4 163.3,560.1 173.3,562.0 183.3,565.0 193.3,568.8 203.3,573.0 213.3,577.2 223.3,581.0 233.3,584.0 243.3,585.9 253.3,586.6 250.0,586.6"/>
<path d="M150.0,557.3 158.2,557.3 168.2,558.0 178.2,560.0 188.2,563.0 198.2,566.8 208.2,571.1 218.2,575.3 228.2,579.2 238.2,582.2 248.2,584.2 258.2,584.8 250.0,584.8"/>
<path d="M150.0,560.7 150.4,560.7 160.4,561.2 170.4,562.9 180.4,565.4 190.4,568.6 200.4,572.2 210.4,575.8 220.4,579.0 230.4,581.5 240.4,583.2 250.4,583.7 250.0,583.7"/>
<path d="M150.0,556.3 147.0,556.3 157.0,557.5 167.0,560.9 177.0,566.2 187.0,572.9 197.0,580.3 207.0,587.7 217.0,594.4 227.0,599.7 237.0,603.1 247.0,604.3 250.0,604.3"/>
<path d="M150.0,562.9 138.5,562.9 148.5,563.9 158.5,567.0 168.5,571.8 178.5,577.8 188.5,584.4 198.5,591.1 208.5,597.1 218.5,601.8 228.5,604.9 238.5,605.9 250.0,605.9"/>
<path d="M150.0,558.5 154.4,558.5 164.4,559.7 174.4,563.1 184.4,568.3 194.4,574.9 204.4,582.2 214.4,589.5 224.4,596.1 234.4,601.3 244.4,604.6 254.4,605.8 250.0,605.8"/>
<path d="M150.0,562.0 150.8,562.0 160.8,563.1 170.8,566.2 180.8,571.2 190.8,577.4 200.8,584.3 210.8,591.2 220.8,597.5 230.8,602.4 240.8,605.6 250.8,606.7 250.0,606.7"/>
<path d="M150.0,556.6 145.8,556.6 155.8,557.9 165.8,561.7 175.8,567.7 185.8,575.2 195.8,583.6 205.8,591.9 215.8,599.5 225.8,605.4 235.8,609.3 245.8,610.6 250.0,610.6"/>
<path d="M150.0,584.9 144.6,584.9 154.6,583.9 164.6,580.9 174.6,576.3 184.6,570.4 194.6,563.9 204.6,557.4 214.6,551.6 224.6,547.0 234.6,544.0 244.6,543.0 250.0,543.0"/>
<path d="M150.0,585.3 152.8,585.3 162.8,584.1 172.8,580.6 182.8,575.3 192.8,568.5 202.8,561.0 212.8,553.5 222.8,546.8 232.8,541.4 242.8,538.0 252.8,536.8 250.0,536.8"/>
<path d="M150.0,586.0 152.9,586.0 162.9,584.9 172.9,581.7 182.9,576.7 192.9,570.4 202.9,563.4 212.9,556.4 222.9,550.0 232.9,545.0 242.9,541.8 252.9,540.7 250.0,540.7"/>
<path d="M150.0,586.4 152.4,586.4 162.4,585.1 172.4,581.3 182.4,575.5 192.4,568.2 202.4,560.1 212.4,552.0 222.4,544.6 232.4,538.8 242.4,535.1 252.4,533.8 250.0,533.8"/>
<path d="M150.0,581.5 149.8,581.5 159.8,580.5 169.8,577.5 179.8,572.9 189.8,567.1 199.8,560.7 209.8,554.3 219.8,548.6 229.8,544.0 239.8,541.0 249.8,540.0 250.0,540.0"/>
<path d="M150.0,587.3 151.4,587.3 161.4,586.6 171.4,584.5 181.4,581.2 191.4,577.0 201.4,572.4 211.4,567.8 221.4,563.7 231.4,560.4 241.4,558.3 251.4,557.6 250.0,557.6"/>
<path d="M150.0,585.1 149.5,585.1 159.5,584.4 169.5,582.7 179.5,579.9 189.5,576.5 199.5,572.6 209.5,568.8 219.5,565.4 229.5,562.6 239.5,560.8 249.5,560.2 250.0,560.2"/>
<path d="M150.0,583.4 146.3,583.4 156.3,582.7 166.3,580.9 176.3,578.1 186.3,574.6 196.3,570.6 206.3,566.7 216.3,563.1 226.3,560.3 236.3,558.5 246.3,557.9 250.0,557.9"/>
<path d="M150.0,582.5 141.6,582.5 151.6,581.9 161.6,580.0 171.6,577.0 181.6,573.3 191.6,569.1 201.6,565.0 211.6,561.3 221.6,558.3 231.6,556.4 241.6,555.8 250.0,555.8"/>
<path d="M150.0,589.6 143.6,589.6 153.6,588.8 163.6,586.5 173.6,582.9 183.6,578.3 193.6,573.3 203.6,568.2 213.6,563.7 223.6,560.1 233.6,557.8 243.6,557.0 250.0,557.0"/>
<path d="M150.0,587.3 149.3,587.3 159.3,587.3 169.3,587.2 179.3,587.0 189.3,586.7 199.3,586.5 209.3,586.2 219.3,585.9 229.3,585.7 239.3,585.6 249.3,585.6 250.0,585.6"/>
<path d="M150.0,587.7 145.1,587.7 155.1,587.8 165.1,587.9 175.1,588.1 185.1,588.3 195.1,588.6 205.1,588.9 215.1,589.2 225.1,589.4 235.1,589.5 245.1,589.5 250.0,589.5"/>
<path d="M150.0,588.4 156.9,588.4 166.9,588.4 176.9,588.2 186.9,588.0 196.9,587.7 206.9,587.4 216.9,587.0 226.9,586.7 236.9,586.5 246.9,586.3 256.9,586.3 250.0,586.3"/>
<path d="M150.0,583.5 156.9,583.5 166.9,583.6 176.9,584.0 186.9,584.6 196.9,585.4 206.9,586.3 216.9,587.2 226.9,587.9 236.9,588.6 246.9,588.9 256.9,589.1 250.0,589.1"/>
<path d="M150.0,578.3 157.9,578.3 167.9,578.5 177.9,579.2 187.9,580.3 197.9,581.7 207.9,583.2 217.9,584.7 227.9,586.0 237.9,587.1 247.9,587.8 257.9,588.1 250.0,588.1"/>
<path d="M150.0,581.3 149.1,581.3 159.1,582.0 169.1,583.9 179.1,586.9 189.1,590.7 199.1,594.9 209.1,599.0 219.1,602.8 229.1,605.8 239.1,607.7 249.1,608.4 250.0,608.4"/>
<path d="M150.0,585.4 153.9,585.4 163.9,585.9 173.9,587.3 183.9,589.5 193.9,592.3 203.9,595.4 213.9,598.5 223.9,601.3 233.9,603.5 243.9,604.9 253.9,605.4 250.0,605.4"/>
<path d="M150.0,586.7 149.7,586.7 159.7,587.2 169.7,588.7 179.7,590.9 189.7,593.8 199.7,597.0 209.7,600.2 219.7,603.0 229.7,605.3 239.7,606.8 249.7,607.3 250.0,607.3"/>
<path d="M150.0,580.5 142.6,580.5 152.6,581.2 162.6,583.2 172.6,586.3 182.6,590.3 192.6,594.7 202.6,599.1 212.6,603.1 222.6,606.2 232.6,608.2 242.6,608.9 250.0,608.9"/>
<path d="M150.0,584.9 165.3,584.9 175.3,585.4 185.3,586.9 195.3,589.1 205.3,592.0 215.3,595.2 225.3,598.4 235.3,601.3 245.3,603.5 255.3,605.0 265.3,605.5 250.0,605.5"/>
<path d="M150.0,607.5 149.9,607.5 159.9,605.9 169.9,601.2 179.9,593.8 189.9,584.5 199.9,574.2 209.9,563.9 219.9,554.6 229.9,547.2 239.9,542.5 249.9,540.8 250.0,540.8"/>
<path d="M150.0,607.4 149.9,607.4 159.9,605.8 169.9,600.9 179.9,593.3 189.9,583.7 199.9,573.1 209.9,562.5 219.9,552.9 229.9,545.4 239.9,540.5 249.9,538.8 250.0,538.8"/>
<path d="M150.0,613.5 159.6,613.5 169.6,611.6 179.6,606.1 189.6,597.6 199.6,586.9 209.6,575.0 219.6,563.1 229.6,552.3 239.6,543.8 249.6,538.4 259.6,536.5 250.0,536.5"/>
<path d="M150.0,604.5 153.9,604.5 163.9,602.8 173.9,597.8 183.9,590.1 193.9,580.4 203.9,569.6 213.9,558.8 223.9,549.0 233.9,541.3 243.9,536.3 253.9,534.6 250.0,534.6"/>
<path d="M150.0,604.0 153.2,604.0 163.2,602.5 173.2,598.1 183.2,591.2 193.2,582.6 203.2,573.0 213.2,563.4 223.2,554.7 233.2,547.9 243.2,543.4 253.2,541.9 250.0,541.9"/>
<path d="M150.0,607.8 147.1,607.8 157.1,606.7 167.1,603.5 177.1,598.6 187.1,592.4 197.1,585.5 207.1,578.7 217.1,572.5 227.1,567.6 237.1,564.4 247.1,563.3 250.0,563.3"/>
<path d="M150.0,605.6 138.7,605.6 148.7,604.3 158.7,600.5 168.7,594.6 178.7,587.2 188.7,578.9 198.7,570.7 208.7,563.2 218.7,557.3 228.7,553.5 238.7,552.2 250.0,552.2"/>
<path d="M150.0,606.8 154.5,606.8 164.5,605.5 174.5,601.7 184.5,595.8 194.5,588.4 204.5,580.2 214.5,571.9 224.5,564.5 234.5,558.6 244.5,554.9 254.5,553.6 250.0,553.6"/>
<path d="M150.0,610.0 140.6,610.0 150.6,608.8 160.6,605.3 170.6,599.7 180.6,592.7 190.6,585.0 200.6,577.3 210.6,570.3 220.6,564.8 230.6,561.2 240.6,560.0 250.0,560.0"/>
<path d="M150.0,605.3 154.2,605.3 164.2,604.1 174.2,600.6 184.2,595.0 194.2,588.1 204.2,580.3 214.2,572.6 224.2,565.6 234.2,560.1 244.2,556.6 254.2,555.3 250.0,555.3"/>
<path d="M150.0,610.2 150.5,610.2 160.5,609.5 170.5,607.7 180.5,604.8 190.5,601.2 200.5,597.2 210.5,593.2 220.5,589.6 230.5,586.7 240.5,584.9 250.5,584.3 250.0,584.3"/>
<path d="M150.0,608.1 144.8,608.1 154.8,607.6 164.8,606.1 174.8,603.7 184.8,600.7 194.8,597.4 204.8,594.1 214.8,591.1 224.8,588.8 234.8,587.2 244.8,586.7 250.0,586.7"/>
<path d="M150.0,605.1 153.1,605.1 163.1,604.7 173.1,603.4 183.1,601.3 193.1,598.8 203.1,596.0 213.1,593.1 223.1,590.6 233.1,588.6 243.1,587.3 253.1,586.8 250.0,586.8"/>
<path d="M150.0,608.8 154.6,608.8 164.6,608.2 174.6,606.5 184.6,603.9 194.6,600.5 204.6,596.9 214.6,593.2 224.6,589.9 234.6,587.2 244.6,585.6 254.6,585.0 250.0,585.0"/>
<path d="M150.0,608.7 160.2,608.7 170.2,608.1 180.2,606.3 190.2,603.5 200.2,599.9 210.2,596.0 220.2,592.1 230.2,588.5 240.2,585.7 250.2,583.9 260.2,583.3 250.0,583.3"/>
<path d="M150.0,610.3 149.5,610.3 159.5,610.2 169.5,610.0 179.5,609.6 189.5,609.1 199.5,608.6 209.5,608.1 219.5,607.6 229.5,607.2 239.5,607.0 249.5,606.9 250.0,606.9"/>
<path d="M150.0,605.7 143.9,605.7 153.9,605.7 163.9,605.5 173.9,605.3 183.9,605.1 193.9,604.8 203.9,604.6 213.9,604.3 223.9,604.1 233.9,604.0 243.9,604.0 250.0,604.0"/>
<path d="M150.0,603.9 152.0,603.9 162.0,603.9 172.0,604.1 182.0,604.3 192.0,604.6 202.0,604.9 212.0,605.2 222.0,605.4 232.0,605.7 242.0,605.8 252.0,605.9 250.0,605.9"/>
<path d="M150.0,607.4 148.9,607.4 158.9,607.3 168.9,607.0 178.9,606.6 188.9,606.2 198.9,605.6 208.9,605.1 218.9,604.6 228.9,604.2 238.9,603.9 248.9,603.9 250.0,603.9"/>
<path d="M150.0,605.9 156.6,605.9 166.6,605.9 176.6,605.8 186.6,605.7 196.6,605.5 206.6,605.3 216.6,605.1 226.6,605.0 236.6,604.8 246.6,604.8 256.6,604.7 250.0,604.7"/>
<path d="M250.0,534.3 240.1,534.3 250.1,534.4 260.1,534.7 270.1,535.3 280.1,536.0 290.1,536.7 300.1,537.5 310.1,538.2 320.1,538.8 330.1,539.1 340.1,539.2 350.0,539.2"/>
<path d="M250.0,537.6 255.7,537.6 265.7,537.6 275.7,537.4 285.7,537.1 295.7,536.8 305.7,536.4 315.7,536.0 325.7,535.6 335.7,535.4 345.7,535.2 355.7,535.1 350.0,535.1"/>
<path d="M250.0,538.0 253.8,538.0 263.8,537.9 273.8,537.7 283.8,537.3 293.8,536.9 303.8,536.4 313.8,536.0 323.8,535.6 333.8,535.2 343.8,535.0 353.8,534.9 350.0,534.9"/>
<path d="M250.0,540.2 258.8,540.2 268.8,540.2 278.8,540.2 288.8,540.2 298.8,540.2 308.8,540.3 318.8,540.3 328.8,540.3 338.8,540.3 348.8,540.3 358.8,540.3 350.0,540.3"/>
<path d="M250.0,536.0 246.6,536.0 256.6,536.2 266.6,536.6 276.6,537.3 286.6,538.2 296.6,539.2 306.6,540.2 316.6,541.1 326.6,541.8 336.6,542.3 346.6,542.5 350.0,542.5"/>
<path d="M250.0,536.6 248.8,536.6 258.8,537.0 268.8,538.3 278.8,540.4 288.8,542.9 298.8,545.7 308.8,548.6 318.8,551.1 328.8,553.1 338.8,554.4 348.8,554.9 350.0,554.9"/>
<path d="M250.0,533.2 239.7,533.2 249.7,533.9 259.7,535.7 269.7,538.6 279.7,542.2 289.7,546.2 299.7,550.2 309.7,553.8 319.7,556.6 329.7,558.5 339.7,559.1 350.0,559.1"/>
<path d="M250.0,541.7 259.5,541.7 269.5,542.2 279.5,543.6 289.5,545.7 299.5,548.4 309.5,551.3 319.5,554.3 329.5,557.0 339.5,559.1 349.5,560.5 359.5,560.9 350.0,560.9"/>
<path d="M250.0,540.0 252.9,540.0 262.9,540.4 272.9,541.8 282.9,543.9 292.9,546.6 302.9,549.6 312.9,552.6 322.9,555.3 332.9,557.4 342.9,558.8 352.9,559.3 350.0,559.3"/>
<path d="M250.0,537.5 243.1,537.5 253.1,537.9 263.1,539.0 273.1,540.9 283.1,543.2 293.1,545.7 303.1,548.3 313.1,550.6 323.1,552.4 333.1,553.6 343.1,554.0 350.0,554.0"/>
<path d="M250.0,535.9 241.9,535.9 251.9,537.2 261.9,540.8 271.9,546.5 281.9,553.7 291.9,561.6 301.9,569.5 311.9,576.7 321.9,582.4 331.9,586.0 341.9,587.3 350.0,587.3"/>
<path d="M250.0,537.4 254.5,537.4 264.5,538.6 274.5,541.8 284.5,546.9 294.5,553.3 304.5,560.4 314.5,567.5 324.5,573.9 334.5,579.0 344.5,582.2 354.5,583.4 350.0,583.4"/>
<path d="M250.0,538.9 243.4,538.9 253.4,540.0 263.4,543.0 273.4,547.8 283.4,553.9 293.4,560.5 303.4,567.2 313.4,573.2 323.4,578.0 333.4,581.1 343.4,582.2 350.0,582.2"/>
<path d="M250.0,540.7 250.0,540.7 260.0,541.9 270.0,545.2 280.0,550.4 290.0,556.9 300.0,564.2 310.0,571.4 320.0,577.9 330.0,583.1 340.0,586.4 350.0,587.6 350.0,587.6"/>
<path d="M250.0,539.1 253.0,539.1 263.0,540.2 273.0,543.5 283.0,548.6 293.0,555.0 303.0,562.1 313.0,569.2 323.0,575.6 333.0,580.6 343.0,583.9 353.0,585.0 350.0,585.0"/>
<path d="M250.0,535.9 260.1,535.9 270.1,537.7 280.1,542.9 290.1,551.0 300.1,561.2 310.1,572.5 320.1,583.7 330.1,593.9 340.1,602.0 350.1,607.2 360.1,609.0 350.0,609.0"/>
<path d="M250.0,540.7 250.9,540.7 260.9,542.4 270.9,547.4 280.9,555.2 290.9,564.9 300.9,575.8 310.9,586.6 320.9,596.4 330.9,604.1 340.9,609.1 350.9,610.8 350.0,610.8"/>
<path d="M250.0,539.4 248.4,539.4 258.4,541.1 268.4,545.8 278.4,553.3 288.4,562.6 298.4,572.9 308.4,583.3 318.4,592.6 328.4,600.1 338.4,604.8 348.4,606.4 350.0,606.4"/>
<path d="M250.0,537.3 251.3,537.3 261.3,539.0 271.3,543.8 281.3,551.2 291.3,560.6 301.3,571.0 311.3,581.5 321.3,590.8 331.3,598.3 341.3,603.1 351.3,604.7 350.0,604.7"/>
<path d="M250.0,532.5 255.2,532.5 265.2,534.5 275.2,540.1 285.2,548.9 295.2,559.9 305.2,572.2 315.2,584.4 325.2,595.4 335.2,604.2 345.2,609.8 355.2,611.8 350.0,611.8"/>
<path d="M250.0,559.6 246.6,559.6 256.6,559.0 266.6,557.3 276.6,554.6 286.6,551.2 296.6,547.4 306.6,543.6 316.6,540.2 326.6,537.5 336.6,535.8 346.6,535.2 350.0,535.2"/>
<path d="M250.0,557.8 247.6,557.8 257.6,557.2 267.6,555.4 277.6,552.7 287.6,549.2 297.6,545.3 307.6,541.4 317.6,537.9 327.6,535.1 337.6,533.3 347.6,532.7 350.0,532.7"/>
<path d="M250.0,556.5 258.1,556.5 268.1,556.1 278.1,554.8 288.1,552.9 298.1,550.5 308.1,547.8 318.1,545.1 328.1,542.7 338.1,540.8 348.1,539.6 358.1,539.1 350.0,539.1"/>
<path d="M250.0,562.6 241.9,562.6 251.9,561.9 261.9,559.8 271.9,556.6 281.9,552.5 291.9,548.0 301.9,543.5 311.9,539.5 321.9,536.3 331.9,534.2 341.9,533.5 350.0,533.5"/>
<path d="M250.0,562.6 256.4,562.6 266.4,562.0 276.4,560.3 286.4,557.7 296.4,554.4 306.4,550.8 316.4,547.1 326.4,543.8 336.4,541.2 346.4,539.6 356.4,539.0 350.0,539.0"/>
<path d="M250.0,560.6 262.8,560.6 272.8,560.6 282.8,560.5 292.8,560.4 302.8,560.2 312.8,560.0 322.8,559.9 332.8,559.7 342.8,559.6 352.8,559.5 362.8,559.5 350.0,559.5"/>
<path d="M250.0,561.1 244.2,561.1 254.2,561.1 264.2,561.1 274.2,561.0 284.2,560.9 294.2,560.9 304.2,560.8 314.2,560.7 324.2,560.7 334.2,560.6 344.2,560.6 350.0,560.6"/>
<path d="M250.0,559.3 253.5,559.3 263.5,559.3 273.5,559.6 283.5,559.9 293.5,560.3 303.5,560.8 313.5,561.3 323.5,561.7 333.5,562.0 343.5,562.3 353.5,562.3 350.0,562.3"/>
<path d="M250.0,561.2 254.4,561.2 264.4,561.2 274.4,561.0 284.4,560.6 294.4,560.2 304.4,559.8 314.4,559.4 324.4,559.0 334.4,558.6 344.4,558.4 354.4,558.4 350.0,558.4"/>
<path d="M250.0,557.4 256.5,557.4 266.5,557.4 276.5,557.5 286.5,557.6 296.5,557.7 306.5,557.9 316.5,558.0 326.5,558.2 336.5,558.3 346.5,558.4 356.5,558.4 350.0,558.4"/>
<path d="M250.0,563.3 248.9,563.3 258.9,563.8 268.9,565.2 278.9,567.5 288.9,570.4 298.9,573.6 308.9,576.9 318.9,579.7 328.9,582.0 338.9,583.5 348.9,584.0 350.0,584.0"/>
<path d="M250.0,558.3 250.3,558.3 260.3,558.9 270.3,560.7 280.3,563.6 290.3,567.3 300.3,571.3 310.3,575.3 320.3,579.0 330.3,581.9 340.3,583.7 350.3,584.4 350.0,584.4"/>
<path d="M250.0,561.1 250.1,561.1 260.1,561.7 270.1,563.5 280.1,566.2 290.1,569.6 300.1,573.4 310.1,577.3 320.1,580.7 330.1,583.4 340.1,585.2 350.1,585.8 350.0,585.8"/>
<path d="M250.0,560.0 249.2,560.0 259.2,560.5 269.2,562.0 279.2,564.2 289.2,567.0 299.2,570.1 309.2,573.3 319.2,576.1 329.2,578.3 339.2,579.8 349.2,580.3 350.0,580.3"/>
<path d="M250.0,564.0 246.6,564.0 256.6,564.4 266.6,565.7 276.6,567.7 286.6,570.3 296.6,573.1 306.6,575.9 316.6,578.4 326.6,580.5 336.6,581.7 346.6,582.2 350.0,582.2"/>
<path d="M250.0,559.5 248.6,559.5 258.6,560.8 268.6,564.4 278.6,570.0 288.6,577.0 298.6,584.8 308.6,592.7 318.6,599.7 328.6,605.3 338.6,608.9 348.6,610.2 350.0,610.2"/>
<path d="M250.0,556.1 236.2,556.1 246.2,557.5 256.2,561.4 266.2,567.5 276.2,575.3 286.2,583.8 296.2,592.4 306.2,600.1 316.2,606.3 326.2,610.2 336.2,611.5 350.0,611.5"/>
<path d="M250.0,556.5 236.2,556.5 246.2,557.7 256.2,561.2 266.2,566.6 276.2,573.5 286.2,581.1 296.2,588.6 306.2,595.5 316.2,600.9 326.2,604.4 336.2,605.6 350.0,605.6"/>
<path d="M250.0,562.4 241.0,562.4 251.0,563.6 261.0,567.2 271.0,572.7 281.0,579.7 291.0,587.5 301.0,595.2 311.0,602.3 321.0,607.8 331.0,611.4 341.0,612.6 350.0,612.6"/>
<path d="M250.0,557.8 254.3,557.8 264.3,559.0 274.3,562.5 284.3,567.9 294.3,574.7 304.3,582.3 314.3,589.9 324.3,596.8 334.3,602.2 344.3,605.7 354.3,606.9 350.0,606.9"/>
<path d="M250.0,584.3 252.9,584.3 262.9,583.2 272.9,580.0 282.9,574.9 292.9,568.5 302.9,561.4 312.9,554.3 322.9,547.9 332.9,542.8 342.9,539.5 352.9,538.4 350.0,538.4"/>
<path d="M250.0,584.5 258.5,584.5 268.5,583.3 278.5,580.0 288.5,574.7 298.5,568.1 308.5,560.8 318.5,553.4 328.5,546.8 338.5,541.6 348.5,538.2 358.5,537.1 350.0,537.1"/>
<path d="M250.0,585.3 249.9,585.3 259.9,584.2 269.9,580.9 279.9,575.7 289.9,569.2 299.9,562.0 309.9,554.8 319.9,548.3 329.9,543.1 339.9,539.8 349.9,538.6 350.0,538.6"/>
<path d="M250.0,586.7 250.6,586.7 260.6,585.6 270.6,582.3 280.6,577.3 290.6,571.0 300.6,563.9 310.6,556.9 320.6,550.5 330.6,545.5 340.6,542.3 350.6,541.2 350.0,541.2"/>
<path d="M250.0,583.6 256.2,583.6 266.2,582.4 276.2,579.0 286.2,573.6 296.2,566.8 306.2,559.3 316.2,551.8 326.2,545.0 336.2,539.7 346.2,536.2 356.2,535.0 350.0,535.0"/>
<path d="M250.0,582.8 265.3,582.8 275.3,582.3 285.3,580.7 295.3,578.1 305.3,575.0 315.3,571.4 325.3,567.9 335.3,564.8 345.3,562.2 355.3,560.6 365.3,560.1 350.0,560.1"/>
<path d="M250.0,585.4 250.2,585.4 260.2,584.9 270.2,583.3 280.2,580.9 290.2,577.8 300.2,574.4 310.2,571.1 320.2,568.0 330.2,565.6 340.2,564.0 350.2,563.5 350.0,563.5"/>
<path d="M250.0,584.6 244.9,584.6 254.9,584.0 264.9,582.3 274.9,579.6 284.9,576.2 294.9,572.5 304.9,568.7 314.9,565.4 324.9,562.7 334.9,560.9 344.9,560.4 350.0,560.4"/>
<path d="M250.0,578.5 245.7,578.5 255.7,578.0 265.7,576.6 275.7,574.4 285.7,571.7 295.7,568.6 305.7,565.6 315.7,562.8 325.7,560.6 335.7,559.2 345.7,558.7 350.0,558.7"/>
<path d="M250.0,585.4 253.8,585.4 263.8,584.9 273.8,583.3 283.8,581.0 293.8,578.0 303.8,574.7 313.8,571.4 323.8,568.4 333.8,566.0 343.8,564.5 353.8,564.0 350.0,564.0"/>
<path d="M250.0,580.9 239.4,580.9 249.4,581.0 259.4,581.4 269.4,581.9 279.4,582.6 289.4,583.4 299.4,584.2 309.4,584.9 319.4,585.5 329.4,585.8 339.4,585.9 350.0,585.9"/>
<path d="M250.0,579.2 244.5,579.2 254.5,579.4 264.5,580.2 274.5,581.5 284.5,583.1 294.5,584.8 304.5,586.5 314.5,588.1 324.5,589.3 334.5,590.1 344.5,590.4 350.0,590.4"/>
<path d="M250.0,579.1 248.9,579.1 258.9,579.2 268.9,579.6 278.9,580.2 288.9,581.0 298.9,581.9 308.9,582.7 318.9,583.5 328.9,584.1 338.9,584.5 348.9,584.6 350.0,584.6"/>
<path d="M250.0,586.1 248.9,586.1 258.9,586.0 268.9,585.9 278.9,585.7 288.9,585.5 298.9,585.2 308.9,585.0 318.9,584.7 328.9,584.6 338.9,584.4 348.9,584.4 350.0,584.4"/>
<path d="M250.0,587.1 245.6,587.1 255.6,587.0 265.6,586.8 275.6,586.5 285.6,586.1 295.6,585.7 305.6,585.3 315.6,585.0 325.6,584.7 335.6,584.5 345.6,584.4 350.0,584.4"/>
<path d="M250.0,585.8 256.7,585.8 266.7,586.3 276.7,587.7 286.7,590.0 296.7,592.8 306.7,595.9 316.7,599.1 326.7,601.9 336.7,604.1 346.7,605.6 356.7,606.1 350.0,606.1"/>
<path d="M250.0,584.9 247.5,584.9 257.5,585.5 267.5,587.1 277.5,589.5 287.5,592.6 297.5,596.0 307.5,599.4 317.5,602.5 327.5,605.0 337.5,606.5 347.5,607.1 350.0,607.1"/>
<path d="M250.0,586.4 248.3,586.4 258.3,587.0 268.3,588.7 278.3,591.3 288.3,594.6 298.3,598.3 308.3,602.0 318.3,605.3 328.3,607.9 338.3,609.6 348.3,610.2 350.0,610.2"/>
<path d="M250.0,579.1 245.5,579.1 255.5,579.8 265.5,582.0 275.5,585.3 285.5,589.6 295.5,594.3 305.5,599.0 315.5,603.3 325.5,606.7 335.5,608.9 345.5,609.6 350.0,609.6"/>
<path d="M250.0,586.5 252.6,586.5 262.6,586.9 272.6,588.3 282.6,590.5 292.6,593.2 302.6,596.2 312.6,599.2 322.6,601.9 332.6,604.1 342.6,605.5 352.6,606.0 350.0,606.0"/>
<path d="M250.0,606.9 242.2,606.9 252.2,605.1 262.2,600.0 272.2,592.0 282.2,582.0 292.2,570.9 302.2,559.7 312.2,549.7 322.2,541.7 332.2,536.6 342.2,534.9 350.0,534.9"/>
<path d="M250.0,607.3 240.2,607.3 250.2,605.6 260.2,600.6 270.2,592.9 280.2,583.1 290.2,572.3 300.2,561.5 310.2,551.8 320.2,544.0 330.2,539.1 340.2,537.3 350.0,537.3"/>
<path d="M250.0,601.2 263.3,601.2 273.3,599.6 283.3,595.1 293.3,588.1 303.3,579.2 313.3,569.4 323.3,559.6 333.3,550.7 343.3,543.7 353.3,539.2 363.3,537.6 350.0,537.6"/>
<path d="M250.0,605.4 243.6,605.4 253.6,603.8 263.6,598.8 273.6,591.2 283.6,581.5 293.6,570.9 303.6,560.2 313.6,550.5 323.6,542.9 333.6,538.0 343.6,536.3 350.0,536.3"/>
<path d="M250.0,604.2 240.2,604.2 250.2,602.7 260.2,598.2 270.2,591.2 280.2,582.3 290.2,572.5 300.2,562.8 310.2,553.9 320.2,546.9 330.2,542.4 340.2,540.9 350.0,540.9"/>
<path d="M250.0,608.2 253.7,608.2 263.7,607.0 273.7,603.3 283.7,597.6 293.7,590.5 303.7,582.6 313.7,574.6 323.7,567.5 333.7,561.8 343.7,558.2 353.7,556.9 350.0,556.9"/>
<path d="M250.0,611.7 248.3,611.7 258.3,610.4 268.3,606.7 278.3,600.9 288.3,593.6 298.3,585.5 308.3,577.4 318.3,570.1 328.3,564.3 338.3,560.6 348.3,559.3 350.0,559.3"/>
<path d="M250.0,610.4 238.8,610.4 248.8,609.2 258.8,605.4 268.8,599.6 278.8,592.3 288.8,584.2 298.8,576.2 308.8,568.9 318.8,563.1 328.8,559.3 338.8,558.1 350.0,558.1"/>
<path d="M250.0,611.1 251.5,611.1 261.5,609.8 271.5,606.0 281.5,600.1 291.5,592.6 301.5,584.3 311.5,576.0 321.5,568.5 331.5,562.6 341.5,558.8 351.5,557.5 350.0,557.5"/>
<path d="M250.0,613.4 252.1,613.4 262.1,612.2 272.1,608.5 282.1,602.7 292.1,595.4 302.1,587.4 312.1,579.3 322.1,572.1 332.1,566.3 342.1,562.6 352.1,561.3 350.0,561.3"/>
<path d="M250.0,612.0 240.0,612.0 250.0,611.3 260.0,609.2 270.0,605.9 280.0,601.8 290.0,597.2 300.0,592.7 310.0,588.6 320.0,585.3 330.0,583.2 340.0,582.5 350.0,582.5"/>
<path d="M250.0,604.6 251.5,604.6 261.5,604.1 271.5,602.7 281.5,600.6 291.5,597.9 301.5,594.8 311.5,591.8 321.5,589.1 331.5,587.0 341.5,585.6 351.5,585.1 350.0,585.1"/>
<path d="M250.0,605.8 255.2,605.8 265.2,605.4 275.2,604.3 285.2,602.6 295.2,600.5 305.2,598.2 315.2,595.8 325.2,593.7 335.2,592.0 345.2,590.9 355.2,590.5 350.0,590.5"/>
<path d="M250.0,608.1 249.8,608.1 259.8,607.5 269.8,605.7 279.8,602.9 289.8,599.4 299.8,595.6 309.8,591.7 319.8,588.2 329.8,585.4 339.8,583.6 349.8,583.0 350.0,583.0"/>
<path d="M250.0,608.4 267.8,608.4 277.8,607.8 287.8,606.0 297.8,603.3 307.8,599.9 317.8,596.1 327.8,592.4 337.8,588.9 347.8,586.2 357.8,584.5 367.8,583.9 350.0,583.9"/>
<path d="M250.0,612.1 250.3,612.1 260.3,612.0 270.3,611.8 280.3,611.5 290.3,611.1 300.3,610.7 310.3,610.3 320.3,609.9 330.3,609.6 340.3,609.4 350.3,609.3 350.0,609.3"/>
<path d="M250.0,603.0 246.0,603.0 256.0,603.2 266.0,603.7 276.0,604.5 286.0,605.6 296.0,606.7 306.0,607.9 316.0,608.9 326.0,609.7 336.0,610.2 346.0,610.4 350.0,610.4"/>
<path d="M250.0,610.4 242.2,610.4 252.2,610.4 262.2,610.2 272.2,610.1 282.2,609.8 292.2,609.6 302.2,609.3 312.2,609.1 322.2,608.9 332.2,608.8 342.2,608.7 350.0,608.7"/>
<path d="M250.0,607.7 248.8,607.7 258.8,607.7 268.8,607.7 278.8,607.6 288.8,607.5 298.8,607.4 308.8,607.3 318.8,607.2 328.8,607.1 338.8,607.1 348.8,607.1 350.0,607.1"/>
<path d="M250.0,607.4 248.9,607.4 258.9,607.4 268.9,607.4 278.9,607.5 288.9,607.5 298.9,607.6 308.9,607.7 318.9,607.8 328.9,607.8 338.9,607.8 348.9,607.9 350.0,607.9"/>
<path d="M350.0,539.2 349.3,539.2 359.3,539.2 369.3,539.1 379.3,539.0 389.3,538.9 399.3,538.8 409.3,538.7 419.3,538.6 429.3,538.5 439.3,538.5 449.3,538.4 450.0,538.4"/>
<path d="M350.0,536.6 347.8,536.6 357.8,536.6 367.8,536.6 377.8,536.5 387.8,536.4 397.8,536.4 407.8,536.3 417.8,536.2 427.8,536.2 437.8,536.1 447.8,536.1 450.0,536.1"/>
<path d="M350.0,536.6 348.4,536.6 358.4,536.6 368.4,536.7 378.4,536.8 388.4,536.9 398.4,537.1 408.4,537.2 418.4,537.4 428.4,537.5 438.4,537.6 448.4,537.6 450.0,537.6"/>
<path d="M350.0,532.0 344.7,532.0 354.7,532.2 364.7,532.5 374.7,533.1 384.7,533.8 394.7,534.6 404.7,535.4 414.7,536.1 424.7,536.7 434.7,537.1 444.7,537.2 450.0,537.2"/>
<path d="M350.0,536.9 356.4,536.9 366.4,537.1 376.4,537.5 386.4,538.3 396.4,539.2 406.4,540.2 416.4,541.3 426.4,542.2 436.4,542.9 446.4,543.4 456.4,543.6 450.0,543.6"/>
<path d="M350.0,530.7 356.3,530.7 366.3,531.2 376.3,532.9 386.3,535.5 396.3,538.8 406.3,542.4 416.3,546.1 426.3,549.3 436.3,551.9 446.3,553.6 456.3,554.2 450.0,554.2"/>
<path d="M350.0,534.9 339.5,534.9 349.5,535.4 359.5,536.8 369.5,539.0 379.5,541.7 389.5,544.8 399.5,547.9 409.5,550.6 419.5,552.8 429.5,554.2 439.5,554.7 450.0,554.7"/>
<path d="M350.0,536.6 350.0,536.6 360.0,537.0 370.0,538.5 380.0,540.7 390.0,543.5 400.0,546.6 410.0,549.8 420.0,552.6 430.0,554.8 440.0,556.2 450.0,556.7 450.0,556.7"/>
<path d="M350.0,536.2 347.5,536.2 357.5,536.7 367.5,538.3 377.5,540.8 387.5,544.0 397.5,547.5 407.5,551.0 417.5,554.2 427.5,556.7 437.5,558.3 447.5,558.9 450.0,558.9"/>
<path d="M350.0,534.8 359.6,534.8 369.6,535.5 379.6,537.3 389.6,540.2 399.6,543.8 409.6,547.8 419.6,551.8 429.6,555.4 439.6,558.3 449.6,560.1 459.6,560.7 450.0,560.7"/>
<path d="M350.0,534.7 362.5,534.7 372.5,535.9 382.5,539.4 392.5,544.9 402.5,551.9 412.5,559.5 422.5,567.2 432.5,574.2 442.5,579.7 452.5,583.2 462.5,584.4 450.0,584.4"/>
<path d="M350.0,534.0 353.4,534.0 363.4,535.2 373.4,538.6 383.4,543.9 393.4,550.6 403.4,558.0 413.4,565.4 423.4,572.0 433.4,577.3 443.4,580.7 453.4,581.9 450.0,581.9"/>
<path d="M350.0,539.3 357.1,539.3 367.1,540.5 377.1,543.7 387.1,548.7 397.1,555.0 407.1,562.1 417.1,569.1 427.1,575.4 437.1,580.5 447.1,583.7 457.1,584.8 450.0,584.8"/>
<path d="M350.0,536.7 349.9,536.7 359.9,537.9 369.9,541.3 379.9,546.7 389.9,553.5 399.9,561.0 409.9,568.6 419.9,575.4 429.9,580.8 439.9,584.2 449.9,585.4 450.0,585.4"/>
<path d="M350.0,537.8 359.0,537.8 369.0,539.0 379.0,542.3 389.0,547.5 399.0,554.1 409.0,561.4 419.0,568.6 429.0,575.2 439.0,580.4 449.0,583.7 459.0,584.9 450.0,584.9"/>
<path d="M350.0,538.9 349.2,538.9 359.2,540.7 369.2,545.9 379.2,553.9 389.2,564.1 399.2,575.4 409.2,586.7 419.2,596.8 429.2,604.9 439.2,610.1 449.2,611.9 450.0,611.9"/>
<path d="M350.0,534.9 347.7,534.9 357.7,536.6 367.7,541.7 377.7,549.5 387.7,559.4 397.7,570.4 407.7,581.4 417.7,591.3 427.7,599.2 437.7,604.2 447.7,605.9 450.0,605.9"/>
<path d="M350.0,537.8 351.8,537.8 361.8,539.5 371.8,544.4 381.8,552.0 391.8,561.5 401.8,572.1 411.8,582.7 421.8,592.3 431.8,599.9 441.8,604.8 451.8,606.4 450.0,606.4"/>
<path d="M350.0,538.1 341.6,538.1 351.6,539.7 361.6,544.4 371.6,551.8 381.6,561.0 391.6,571.3 401.6,581.5 411.6,590.8 421.6,598.2 431.6,602.9 441.6,604.5 450.0,604.5"/>
<path d="M350.0,540.4 361.6,540.4 371.6,542.0 381.6,546.7 391.6,553.9 401.6,563.0 411.6,573.2 421.6,583.3 431.6,592.4 441.6,599.6 451.6,604.3 461.6,605.9 450.0,605.9"/>
<path d="M350.0,558.1 343.0,558.1 353.0,557.5 363.0,555.7 373.0,553.0 383.0,549.5 393.0,545.7 403.0,541.9 413.0,538.4 423.0,535.7 433.0,533.9 443.0,533.3 450.0,533.3"/>
<path d="M350.0,556.7 338.7,556.7 348.7,556.4 358.7,555.5 368.7,554.1 378.7,552.3 388.7,550.3 398.7,548.3 408.7,546.5 418.7,545.1 428.7,544.2 438.7,543.9 450.0,543.9"/>
<path d="M350.0,552.6 350.4,552.6 360.4,552.2 370.4,550.9 380.4,548.9 390.4,546.4 400.4,543.6 410.4,540.8 420.4,538.3 430.4,536.2 440.4,535.0 450.4,534.5 450.0,534.5"/>
<path d="M350.0,564.7 344.3,564.7 354.3,564.1 364.3,562.3 374.3,559.6 384.3,556.1 394.3,552.2 404.3,548.3 414.3,544.8 424.3,542.0 434.3,540.3 444.3,539.6 450.0,539.6"/>
<path d="M350.0,563.0 346.1,563.0 356.1,562.4 366.1,560.8 376.1,558.3 386.1,555.2 396.1,551.7 406.1,548.2 416.1,545.0 426.1,542.5 436.1,540.9 446.1,540.4 450.0,540.4"/>
<path d="M350.0,560.4 349.2,560.4 359.2,560.4 369.2,560.4 379.2,560.3 389.2,560.2 399.2,560.1 409.2,560.1 419.2,560.0 429.2,559.9 439.2,559.9 449.2,559.9 450.0,559.9"/>
<path d="M350.0,557.7 352.9,557.7 362.9,557.6 372.9,557.6 382.9,557.6 392.9,557.5 402.9,557.5 412.9,557.4 422.9,557.4 432.9,557.4 442.9,557.3 452.9,557.3 450.0,557.3"/>
<path d="M350.0,557.5 354.3,557.5 364.3,557.6 374.3,557.8 384.3,558.2 394.3,558.7 404.3,559.3 414.3,559.9 424.3,560.4 434.3,560.8 444.3,561.1 454.3,561.2 450.0,561.2"/>
<path d="M350.0,554.6 349.0,554.6 359.0,554.7 369.0,555.1 379.0,555.7 389.0,556.5 399.0,557.3 409.0,558.1 419.0,558.9 429.0,559.4 439.0,559.8 449.0,560.0 450.0,560.0"/>
<path d="M350.0,560.9 357.3,560.9 367.3,560.8 377.3,560.6 387.3,560.3 397.3,559.9 407.3,559.4 417.3,558.9 427.3,558.5 437.3,558.2 447.3,558.0 457.3,557.9 450.0,557.9"/>
<path d="M350.0,561.1 353.9,561.1 363.9,561.7 373.9,563.6 383.9,566.5 393.9,570.1 403.9,574.2 413.9,578.2 423.9,581.9 433.9,584.8 443.9,586.6 453.9,587.3 450.0,587.3"/>
<path d="M350.0,555.2 356.9,555.2 366.9,555.9 376.9,558.0 386.9,561.3 396.9,565.4 406.9,570.0 416.9,574.5 426.9,578.6 436.9,581.9 446.9,584.0 456.9,584.7 450.0,584.7"/>
<path d="M350.0,561.2 350.0,561.2 360.0,561.9 370.0,563.6 380.0,566.4 390.0,569.9 400.0,573.8 410.0,577.7 420.0,581.2 430.0,584.0 440.0,585.8 450.0,586.4 450.0,586.4"/>
<path d="M350.0,558.7 339.2,558.7 349.2,559.3 359.2,560.9 369.2,563.4 379.2,566.5 389.2,570.0 399.2,573.5 409.2,576.6 419.2,579.1 429.2,580.7 439.2,581.3 450.0,581.3"/>
<path d="M350.0,558.4 348.5,558.4 358.5,559.1 368.5,561.1 378.5,564.3 388.5,568.3 398.5,572.7 408.5,577.1 418.5,581.1 428.5,584.3 438.5,586.3 448.5,587.0 450.0,587.0"/>
<path d="M350.0,557.4 358.3,557.4 368.3,558.6 378.3,562.2 388.3,567.7 398.3,574.6 408.3,582.2 418.3,589.9 428.3,596.8 438.3,602.3 448.3,605.9 458.3,607.1 450.0,607.1"/>
<path d="M350.0,557.2 352.2,557.2 362.2,558.5 372.2,562.0 382.2,567.6 392.2,574.5 402.2,582.3 412.2,590.0 422.2,597.0 432.2,602.5 442.2,606.1 452.2,607.3 450.0,607.3"/>
<path d="M350.0,561.7 347.0,561.7 357.0,562.8 367.0,566.2 377.0,571.4 387.0,577.9 397.0,585.2 407.0,592.4 417.0,599.0 427.0,604.2 437.0,607.5 447.0,608.7 450.0,608.7"/>
<path d="M350.0,557.5 348.9,557.5 358.9,558.7 368.9,562.0 378.9,567.2 388.9,573.8 398.9,581.0 408.9,588.3 418.9,594.9 428.9,600.1 438.9,603.4 448.9,604.6 450.0,604.6"/>
<path d="M350.0,561.4 347.5,561.4 357.5,562.6 367.5,565.9 377.5,571.0 387.5,577.5 397.5,584.7 407.5,591.9 417.5,598.4 427.5,603.6 437.5,606.9 447.5,608.0 450.0,608.0"/>
<path d="M350.0,582.0 354.8,582.0 364.8,580.8 374.8,577.6 384.8,572.5 394.8,566.1 404.8,559.0 414.8,551.9 424.8,545.5 434.8,540.4 444.8,537.2 454.8,536.0 450.0,536.0"/>
<path d="M350.0,586.5 355.4,586.5 365.4,585.3 375.4,581.9 385.4,576.6 395.4,569.8 405.4,562.3 415.4,554.9 425.4,548.1 435.4,542.8 445.4,539.4 455.4,538.2 450.0,538.2"/>
<path d="M350.0,588.1 354.1,588.1 364.1,586.9 374.1,583.3 384.1,577.7 394.1,570.6 404.1,562.8 414.1,555.0 424.1,548.0 434.1,542.4 444.1,538.8 454.1,537.5 450.0,537.5"/>
<path d="M350.0,579.8 348.1,579.8 358.1,578.8 368.1,575.9 378.1,571.3 388.1,565.6 398.1,559.3 408.1,552.9 418.1,547.2 428.1,542.6 438.1,539.7 448.1,538.7 450.0,538.7"/>
<path d="M350.0,585.6 348.5,585.6 358.5,584.3 368.5,580.7 378.5,575.1 388.5,567.9 398.5,560.1 408.5,552.2 418.5,545.1 428.5,539.4 438.5,535.8 448.5,534.6 450.0,534.6"/>
<path d="M350.0,581.9 343.9,581.9 353.9,581.4 363.9,579.7 373.9,577.1 383.9,573.9 393.9,570.3 403.9,566.7 413.9,563.5 423.9,560.9 433.9,559.3 443.9,558.7 450.0,558.7"/>
<path d="M350.0,587.6 351.1,587.6 361.1,586.9 371.1,584.8 381.1,581.5 391.1,577.4 401.1,572.8 411.1,568.3 421.1,564.2 431.1,560.9 441.1,558.8 451.1,558.1 450.0,558.1"/>
<path d="M350.0,583.2 345.9,583.2 355.9,582.6 365.9,580.9 375.9,578.2 385.9,574.7 395.9,570.9 405.9,567.1 415.9,563.6 425.9,560.9 435.9,559.2 445.9,558.6 450.0,558.6"/>
<path d="M350.0,582.7 346.0,582.7 356.0,582.1 366.0,580.5 376.0,578.0 386.0,574.9 396.0,571.4 406.0,567.9 416.0,564.8 426.0,562.3 436.0,560.7 446.0,560.2 450.0,560.2"/>
<path d="M350.0,581.9 363.8,581.9 373.8,581.3 383.8,579.6 393.8,576.9 403.8,573.6 413.8,569.9 423.8,566.1 433.8,562.8 443.8,560.1 453.8,558.4 463.8,557.9 450.0,557.9"/>
<path d="M350.0,587.7 352.0,587.7 362.0,587.6 372.0,587.5 382.0,587.2 392.0,586.9 402.0,586.6 412.0,586.3 422.0,586.0 432.0,585.7 442.0,585.6 452.0,585.5 450.0,585.5"/>
<path d="M350.0,585.7 364.2,585.7 374.2,585.7 384.2,585.7 394.2,585.8 404.2,585.8 414.2,585.9 424.2,585.9 434.2,585.9 444.2,586.0 454.2,586.0 464.2,586.0 450.0,586.0"/>
<path d="M350.0,588.9 339.9,588.9 349.9,588.8 359.9,588.6 369.9,588.2 379.9,587.7 389.9,587.1 399.9,586.6 409.9,586.1 419.9,585.7 429.9,585.5 439.9,585.4 450.0,585.4"/>
<path d="M350.0,582.5 347.5,582.5 357.5,582.5 367.5,582.8 377.5,583.1 387.5,583.5 397.5,584.0 407.5,584.5 417.5,584.9 427.5,585.3 437.5,585.5 447.5,585.6 450.0,585.6"/>
<path d="M350.0,586.1 353.2,586.1 363.2,586.0 373.2,585.9 383.2,585.7 393.2,585.4 403.2,585.1 413.2,584.8 423.2,584.5 433.2,584.3 443.2,584.2 453.2,584.1 450.0,584.1"/>
<path d="M350.0,586.1 342.6,586.1 352.6,586.6 362.6,588.1 372.6,590.3 382.6,593.1 392.6,596.3 402.6,599.4 412.6,602.2 422.6,604.5 432.6,605.9 442.6,606.4 450.0,606.4"/>
<path d="M350.0,584.1 344.7,584.1 354.7,584.7 364.7,586.2 374.7,588.6 384.7,591.6 394.7,595.0 404.7,598.3 414.7,601.3 424.7,603.7 434.7,605.3 444.7,605.8 450.0,605.8"/>
<path d="M350.0,585.2 348.2,585.2 358.2,585.8 368.2,587.6 378.2,590.4 388.2,594.0 398.2,598.0 408.2,601.9 418.2,605.5 428.2,608.3 438.2,610.1 448.2,610.8 450.0,610.8"/>
<path d="M350.0,583.9 352.0,583.9 362.0,584.4 372.0,585.9 382.0,588.2 392.0,591.1 402.0,594.4 412.0,597.6 422.0,600.5 432.0,602.8 442.0,604.3 452.0,604.8 450.0,604.8"/>
<path d="M350.0,585.6 359.7,585.6 369.7,586.1 379.7,587.7 389.7,590.2 399.7,593.4 409.7,596.9 419.7,600.4 429.7,603.5 439.7,606.0 449.7,607.6 459.7,608.2 450.0,608.2"/>
<path d="M350.0,608.4 348.3,608.4 358.3,606.7 368.3,601.8 378.3,594.2 388.3,584.7 398.3,574.1 408.3,563.5 418.3,553.9 428.3,546.3 438.3,541.4 448.3,539.7 450.0,539.7"/>
<path d="M350.0,608.7 355.1,608.7 365.1,606.9 375.1,601.6 385.1,593.4 395.1,583.2 405.1,571.7 415.1,560.3 425.1,550.0 435.1,541.9 445.1,536.6 455.1,534.8 450.0,534.8"/>
<path d="M350.0,611.4 345.4,611.4 355.4,609.5 365.4,604.1 375.4,595.6 385.4,584.9 395.4,573.0 405.4,561.2 415.4,550.5 425.4,542.0 435.4,536.5 445.4,534.7 450.0,534.7"/>
<path d="M350.0,608.4 355.6,608.4 365.6,606.6 375.6,601.6 385.6,593.7 395.6,583.7 405.6,572.7 415.6,561.7 425.6,551.8 435.6,543.9 445.6,538.8 455.6,537.1 450.0,537.1"/>
<path d="M350.0,600.7 353.5,600.7 363.5,599.1 373.5,594.5 383.5,587.3 393.5,578.2 403.5,568.1 413.5,558.1 423.5,549.0 433.5,541.8 443.5,537.2 453.5,535.6 450.0,535.6"/>
<path d="M350.0,608.3 354.7,608.3 364.7,607.0 374.7,603.3 384.7,597.5 394.7,590.3 404.7,582.2 414.7,574.1 424.7,566.9 434.7,561.1 444.7,557.4 454.7,556.1 450.0,556.1"/>
<path d="M350.0,608.0 348.9,608.0 358.9,606.8 368.9,603.3 378.9,597.9 388.9,591.1 398.9,583.5 408.9,575.9 418.9,569.1 428.9,563.7 438.9,560.2 448.9,559.0 450.0,559.0"/>
<path d="M350.0,607.3 342.0,607.3 352.0,606.2 362.0,602.9 372.0,597.7 382.0,591.2 392.0,583.9 402.0,576.7 412.0,570.2 422.0,565.0 432.0,561.7 442.0,560.5 450.0,560.5"/>
<path d="M350.0,598.8 335.6,598.8 345.6,597.8 355.6,595.1 365.6,590.9 375.6,585.6 385.6,579.7 395.6,573.8 405.6,568.4 415.6,564.2 425.6,561.5 435.6,560.6 450.0,560.6"/>
<path d="M350.0,608.2 352.4,608.2 362.4,607.0 372.4,603.5 382.4,598.0 392.4,591.2 402.4,583.6 412.4,576.0 422.4,569.1 432.4,563.7 442.4,560.2 452.4,559.0 450.0,559.0"/>
<path d="M350.0,604.7 348.4,604.7 358.4,604.3 368.4,603.0 378.4,600.9 388.4,598.4 398.4,595.6 408.4,592.7 418.4,590.2 428.4,588.1 438.4,586.8 448.4,586.4 450.0,586.4"/>
<path d="M350.0,606.3 345.2,606.3 355.2,605.8 365.2,604.2 375.2,601.8 385.2,598.7 395.2,595.3 405.2,591.9 415.2,588.8 425.2,586.4 435.2,584.8 445.2,584.2 450.0,584.2"/>
<path d="M350.0,611.9 350.3,611.9 360.3,611.2 370.3,609.1 380.3,606.0 390.3,602.0 400.3,597.6 410.3,593.1 420.3,589.1 430.3,586.0 440.3,583.9 450.3,583.2 450.0,583.2"/>
<path d="M350.0,606.7 350.6,606.7 360.6,606.2 370.6,604.7 380.6,602.3 390.6,599.4 400.6,596.1 410.6,592.8 420.6,589.8 430.6,587.5 440.6,585.9 450.6,585.4 450.0,585.4"/>
<path d="M350.0,606.9 351.3,606.9 361.3,606.3 371.3,604.8 381.3,602.4 391.3,599.3 401.3,595.9 411.3,592.6 421.3,589.5 431.3,587.1 441.3,585.6 451.3,585.0 450.0,585.0"/>
<path d="M350.0,608.2 349.7,608.2 359.7,608.3 369.7,608.4 379.7,608.7 389.7,609.0 399.7,609.3 409.7,609.6 419.7,610.0 429.7,610.2 439.7,610.4 449.7,610.4 450.0,610.4"/>
<path d="M350.0,607.4 349.5,607.4 359.5,607.4 369.5,607.5 379.5,607.7 389.5,607.9 399.5,608.2 409.5,608.4 419.5,608.7 429.5,608.8 439.5,608.9 449.5,609.0 450.0,609.0"/>
<path d="M350.0,608.7 337.0,608.7 347.0,608.7 357.0,608.8 367.0,608.8 377.0,608.9 387.0,609.0 397.0,609.0 407.0,609.1 417.0,609.2 427.0,609.2 437.0,609.2 450.0,609.2"/>
<path d="M350.0,607.9 340.8,607.9 350.8,607.9 360.8,607.8 370.8,607.6 380.8,607.4 390.8,607.2 400.8,607.0 410.8,606.8 420.8,606.7 430.8,606.6 440.8,606.6 450.0,606.6"/>
<path d="M350.0,604.3 356.4,604.3 366.4,604.3 376.4,604.3 386.4,604.2 396.4,604.2 406.4,604.1 416.4,604.1 426.4,604.0 436.4,604.0 446.4,603.9 456.4,603.9 450.0,603.9"/>
<path d="M450.0,540.0 449.7,540.0 459.7,540.0 469.7,539.8 479.7,539.4 489.7,539.0 499.7,538.6 509.7,538.1 519.7,537.7 529.7,537.4 539.7,537.2 549.7,537.1 550.0,537.1"/>
<path d="M450.0,534.1 459.4,534.1 469.4,534.4 479.4,534.9 489.4,535.9 499.4,537.0 509.4,538.3 519.4,539.6 529.4,540.8 539.4,541.7 549.4,542.3 559.4,542.5 550.0,542.5"/>
<path d="M450.0,537.7 449.5,537.7 459.5,537.6 469.5,537.4 479.5,537.1 489.5,536.7 499.5,536.3 509.5,535.9 519.5,535.5 529.5,535.2 539.5,535.0 549.5,534.9 550.0,534.9"/>
<path d="M450.0,535.3 443.7,535.3 453.7,535.3 463.7,535.2 473.7,535.0 483.7,534.8 493.7,534.6 503.7,534.4 513.7,534.1 523.7,534.0 533.7,533.9 543.7,533.8 550.0,533.8"/>
<path d="M450.0,534.6 452.8,534.6 462.8,534.6 472.8,534.7 482.8,534.8 492.8,534.9 502.8,535.0 512.8,535.0 522.8,535.1 532.8,535.2 542.8,535.3 552.8,535.3 550.0,535.3"/>
<path d="M450.0,534.5 451.5,534.5 461.5,535.1 471.5,537.0 481.5,539.8 491.5,543.4 501.5,547.3 511.5,551.3 521.5,554.9 531.5,557.7 541.5,559.5 551.5,560.2 550.0,560.2"/>
<path d="M450.0,539.6 464.3,539.6 474.3,540.1 484.3,541.7 494.3,544.3 504.3,547.5 514.3,551.0 524.3,554.5 534.3,557.7 544.3,560.3 554.3,561.9 564.3,562.5 550.0,562.5"/>
<path d="M450.0,539.5 448.9,539.5 458.9,540.0 468.9,541.3 478.9,543.3 488.9,545.9 498.9,548.7 508.9,551.6 518.9,554.1 528.9,556.2 538.9,557.5 548.9,557.9 550.0,557.9"/>
<path d="M450.0,544.3 450.8,544.3 460.8,544.6 470.8,545.4 480.8,546.8 490.8,548.4 500.8,550.2 510.8,552.0 520.8,553.7 530.8,555.0 540.8,555.8 550.8,556.1 550.0,556.1"/>
<path d="M450.0,540.2 453.2,540.2 463.2,540.7 473.2,542.0 483.2,544.1 493.2,546.7 503.2,549.6 513.2,552.5 523.2,555.1 533.2,557.2 543.2,558.5 553.2,559.0 550.0,559.0"/>
<path d="M450.0,541.7 450.7,541.7 460.7,542.8 470.7,546.1 480.7,551.1 490.7,557.5 500.7,564.5 510.7,571.5 520.7,577.9 530.7,582.9 540.7,586.2 550.7,587.3 550.0,587.3"/>
<path d="M450.0,538.6 454.4,538.6 464.4,539.8 474.4,543.1 484.4,548.3 494.4,554.9 504.4,562.2 514.4,569.5 524.4,576.0 534.4,581.3 544.4,584.6 554.4,585.8 550.0,585.8"/>
<path d="M450.0,538.6 450.8,538.6 460.8,539.7 470.8,542.9 480.8,548.0 490.8,554.3 500.8,561.4 510.8,568.4 520.8,574.8 530.8,579.8 540.8,583.1 550.8,584.2 550.0,584.2"/>
<path d="M450.0,537.7 447.3,537.7 457.3,538.9 467.3,542.2 477.3,547.4 487.3,553.9 497.3,561.1 507.3,568.3 517.3,574.8 527.3,580.0 537.3,583.3 547.3,584.5 550.0,584.5"/>
<path d="M450.0,539.5 448.9,539.5 458.9,540.5 468.9,543.3 478.9,547.7 488.9,553.2 498.9,559.4 508.9,565.5 518.9,571.0 528.9,575.4 538.9,578.2 548.9,579.2 550.0,579.2"/>
<path d="M450.0,539.8 443.4,539.8 453.4,541.5 463.4,546.3 473.4,553.9 483.4,563.5 493.4,574.1 503.4,584.7 513.4,594.3 523.4,601.9 533.4,606.8 543.4,608.5 550.0,608.5"/>
<path d="M450.0,534.5 454.4,534.5 464.4,536.5 474.4,542.0 484.4,550.7 494.4,561.6 504.4,573.7 514.4,585.7 524.4,596.6 534.4,605.3 544.4,610.9 554.4,612.8 550.0,612.8"/>
<path d="M450.0,536.9 448.6,536.9 458.6,538.6 468.6,543.7 478.6,551.5 488.6,561.4 498.6,572.4 508.6,583.4 518.6,593.3 528.6,601.1 538.6,606.2 548.6,607.9 550.0,607.9"/>
<path d="M450.0,538.0 451.4,538.0 461.4,539.6 471.4,544.4 481.4,551.9 491.4,561.3 501.4,571.7 511.4,582.1 521.4,591.5 531.4,598.9 541.4,603.7 551.4,605.4 550.0,605.4"/>
<path d="M450.0,536.9 455.9,536.9 465.9,538.6 475.9,543.7 485.9,551.6 495.9,561.5 505.9,572.5 515.9,583.5 525.9,593.5 535.9,601.4 545.9,606.4 555.9,608.2 550.0,608.2"/>
<path d="M450.0,554.3 451.4,554.3 461.4,553.9 471.4,552.6 481.4,550.7 491.4,548.3 501.4,545.5 511.4,542.8 521.4,540.4 531.4,538.5 541.4,537.2 551.4,536.8 550.0,536.8"/>
<path d="M450.0,559.5 452.7,559.5 462.7,558.9 472.7,557.3 482.7,554.8 492.7,551.7 502.7,548.2 512.7,544.7 522.7,541.6 532.7,539.1 542.7,537.5 552.7,537.0 550.0,537.0"/>
<path d="M450.0,561.8 451.6,561.8 461.6,561.1 471.6,559.3 481.6,556.4 491.6,552.8 501.6,548.8 511.6,544.8 521.6,541.2 531.6,538.3 541.6,536.5 551.6,535.9 550.0,535.9"/>
<path d="M450.0,561.0 456.6,561.0 466.6,560.4 476.6,558.7 486.6,556.0 496.6,552.6 506.6,548.8 516.6,545.1 526.6,541.7 536.6,539.0 546.6,537.2 556.6,536.6 550.0,536.6"/>
<path d="M450.0,557.2 452.0,557.2 462.0,556.8 472.0,555.6 482.0,553.7 492.0,551.3 502.0,548.7 512.0,546.1 522.0,543.7 532.0,541.8 542.0,540.6 552.0,540.2 550.0,540.2"/>
<path d="M450.0,562.7 444.8,562.7 454.8,562.7 464.8,562.7 474.8,562.6 484.8,562.6 494.8,562.6 504.8,562.6 514.8,562.6 524.8,562.5 534.8,562.5 544.8,562.5 550.0,562.5"/>
<path d="M450.0,561.4 451.0,561.4 461.0,561.4 471.0,561.3 481.0,561.2 491.0,561.0 501.0,560.8 511.0,560.7 521.0,560.5 531.0,560.4 541.0,560.3 551.0,560.3 550.0,560.3"/>
<path d="M450.0,557.9 448.9,557.9 458.9,558.0 468.9,558.1 478.9,558.3 488.9,558.6 498.9,558.9 508.9,559.3 518.9,559.5 528.9,559.8 538.9,559.9 548.9,560.0 550.0,560.0"/>
<path d="M450.0,559.1 450.9,559.1 460.9,559.1 470.9,559.1 480.9,559.0 490.9,559.0 500.9,559.0 510.9,559.0 520.9,559.0 530.9,559.0 540.9,559.0 550.9,559.0 550.0,559.0"/>
<path d="M450.0,558.3 451.5,558.3 461.5,558.3 471.5,558.0 481.5,557.7 491.5,557.3 501.5,556.9 511.5,556.4 521.5,556.0 531.5,555.7 541.5,555.5 551.5,555.4 550.0,555.4"/>
<path d="M450.0,550.4 449.5,550.4 459.5,551.3 469.5,553.8 479.5,557.7 489.5,562.6 499.5,568.0 509.5,573.5 519.5,578.4 529.5,582.3 539.5,584.8 549.5,585.6 550.0,585.6"/>
<path d="M450.0,558.7 452.1,558.7 462.1,559.3 472.1,561.0 482.1,563.8 492.1,567.3 502.1,571.1 512.1,575.0 522.1,578.5 532.1,581.2 542.1,583.0 552.1,583.6 550.0,583.6"/>
<path d="M450.0,560.3 446.6,560.3 456.6,560.8 466.6,562.5 476.6,565.1 486.6,568.3 496.6,571.9 506.6,575.5 516.6,578.8 526.6,581.4 536.6,583.1 546.6,583.6 550.0,583.6"/>
<path d="M450.0,556.4 452.9,556.4 462.9,557.0 472.9,558.8 482.9,561.6 492.9,565.2 502.9,569.1 512.9,573.0 522.9,576.6 532.9,579.4 542.9,581.2 552.9,581.8 550.0,581.8"/>
<path d="M450.0,558.7 441.1,558.7 451.1,559.4 461.1,561.5 471.1,564.8 481.1,569.0 491.1,573.6 501.1,578.2 511.1,582.4 521.1,585.7 531.1,587.8 541.1,588.5 550.0,588.5"/>
<path d="M450.0,556.0 447.5,556.0 457.5,557.3 467.5,561.0 477.5,566.7 487.5,574.0 497.5,582.0 507.5,590.0 517.5,597.3 527.5,603.0 537.5,606.7 547.5,608.0 550.0,608.0"/>
<path d="M450.0,559.8 457.7,559.8 467.7,560.9 477.7,564.1 487.7,569.2 497.7,575.5 507.7,582.6 517.7,589.7 527.7,596.0 537.7,601.1 547.7,604.3 557.7,605.4 550.0,605.4"/>
<path d="M450.0,558.2 456.9,558.2 466.9,559.5 476.9,563.0 486.9,568.6 496.9,575.6 506.9,583.4 516.9,591.2 526.9,598.2 536.9,603.7 546.9,607.3 556.9,608.5 550.0,608.5"/>
<path d="M450.0,555.8 444.0,555.8 454.0,557.1 464.0,560.7 474.0,566.3 484.0,573.4 494.0,581.2 504.0,589.1 514.0,596.2 524.0,601.8 534.0,605.4 544.0,606.6 550.0,606.6"/>
<path d="M450.0,561.1 447.3,561.1 457.3,562.1 467.3,565.1 477.3,569.7 487.3,575.6 497.3,582.0 507.3,588.5 517.3,594.4 527.3,599.0 537.3,602.0 547.3,603.0 550.0,603.0"/>
<path d="M450.0,583.2 459.9,583.2 469.9,582.1 479.9,579.0 489.9,574.2 499.9,568.0 509.9,561.3 519.9,554.5 529.9,548.3 539.9,543.5 549.9,540.4 559.9,539.3 550.0,539.3"/>
<path d="M450.0,585.1 454.4,585.1 464.4,584.0 474.4,580.9 484.4,576.2 494.4,570.1 504.4,563.5 514.4,556.8 524.4,550.8 534.4,546.0 544.4,542.9 554.4,541.8 550.0,541.8"/>
<path d="M450.0,581.4 444.2,581.4 454.2,580.3 464.2,577.2 474.2,572.2 484.2,565.9 494.2,559.0 504.2,552.0 514.2,545.8 524.2,540.8 534.2,537.6 544.2,536.5 550.0,536.5"/>
<path d="M450.0,586.9 452.0,586.9 462.0,585.7 472.0,582.3 482.0,576.9 492.0,570.1 502.0,562.5 512.0,555.0 522.0,548.2 532.0,542.8 542.0,539.3 552.0,538.1 550.0,538.1"/>
<path d="M450.0,582.7 443.0,582.7 453.0,581.5 463.0,578.2 473.0,573.1 483.0,566.7 493.0,559.5 503.0,552.4 513.0,546.0 523.0,540.8 533.0,537.6 543.0,536.4 550.0,536.4"/>
<path d="M450.0,584.7 448.8,584.7 458.8,584.2 468.8,582.6 478.8,580.2 488.8,577.1 498.8,573.6 508.8,570.2 518.8,567.1 528.8,564.7 538.8,563.1 548.8,562.5 550.0,562.5"/>
<path d="M450.0,588.6 448.4,588.6 458.4,587.9 468.4,585.8 478.4,582.6 488.4,578.5 498.4,573.9 508.4,569.4 518.4,565.3 528.4,562.1 538.4,560.0 548.4,559.3 550.0,559.3"/>
<path d="M450.0,586.3 459.6,586.3 469.6,585.5 479.6,583.3 489.6,579.9 499.6,575.5 509.6,570.7 519.6,565.9 529.6,561.6 539.6,558.1 549.6,555.9 559.6,555.2 550.0,555.2"/>
<path d="M450.0,585.5 454.6,585.5 464.6,584.8 474.6,582.7 484.6,579.5 494.6,575.3 504.6,570.8 514.6,566.2 524.6,562.1 534.6,558.8 544.6,556.7 554.6,556.0 550.0,556.0"/>
<path d="M450.0,582.4 457.6,582.4 467.6,581.9 477.6,580.4 487.6,578.0 497.6,575.1 507.6,571.8 517.6,568.5 527.6,565.6 537.6,563.2 547.6,561.7 557.6,561.2 550.0,561.2"/>
<path d="M450.0,587.4 448.1,587.4 458.1,587.2 468.1,586.8 478.1,586.2 488.1,585.5 498.1,584.6 508.1,583.7 518.1,583.0 528.1,582.4 538.1,582.0 548.1,581.8 550.0,581.8"/>
<path d="M450.0,587.6 453.3,587.6 463.3,587.6 473.3,587.5 483.3,587.3 493.3,587.1 503.3,586.9 513.3,586.7 523.3,586.4 533.3,586.3 543.3,586.2 553.3,586.1 550.0,586.1"/>
<path d="M450.0,591.0 448.7,591.0 458.7,590.9 468.7,590.6 478.7,590.3 488.7,589.8 498.7,589.2 508.7,588.7 518.7,588.2 528.7,587.8 538.7,587.6 548.7,587.5 550.0,587.5"/>
<path d="M450.0,581.9 441.5,581.9 451.5,581.9 461.5,582.0 471.5,582.1 481.5,582.3 491.5,582.5 501.5,582.7 511.5,582.9 521.5,583.1 531.5,583.1 541.5,583.2 550.0,583.2"/>
<path d="M450.0,582.9 442.5,582.9 452.5,582.9 462.5,583.1 472.5,583.3 482.5,583.7 492.5,584.0 502.5,584.4 512.5,584.7 522.5,584.9 532.5,585.1 542.5,585.2 550.0,585.2"/>
<path d="M450.0,584.9 452.9,584.9 462.9,585.5 472.9,587.0 482.9,589.3 492.9,592.3 502.9,595.5 512.9,598.8 522.9,601.8 532.9,604.1 542.9,605.6 552.9,606.1 550.0,606.1"/>
<path d="M450.0,581.5 450.4,581.5 460.4,582.1 470.4,583.8 480.4,586.5 490.4,589.9 500.4,593.6 510.4,597.3 520.4,600.7 530.4,603.3 540.4,605.0 550.4,605.6 550.0,605.6"/>
<path d="M450.0,586.2 432.6,586.2 442.6,586.7 452.6,588.2 462.6,590.6 472.6,593.6 482.6,596.9 492.6,600.3 502.6,603.3 512.6,605.7 522.6,607.2 532.6,607.7 550.0,607.7"/>
<path d="M450.0,584.2 449.1,584.2 459.1,584.6 469.1,586.0 479.1,588.0 489.1,590.6 499.1,593.5 509.1,596.3 519.1,598.9 529.1,600.9 539.1,602.3 549.1,602.7 550.0,602.7"/>
<path d="M450.0,582.3 446.8,582.3 456.8,582.8 466.8,584.4 476.8,586.9 486.8,590.1 496.8,593.6 506.8,597.1 516.8,600.3 526.8,602.8 536.8,604.4 546.8,605.0 550.0,605.0"/>
<path d="M450.0,608.7 453.2,608.7 463.2,607.0 473.2,601.9 483.2,593.9 493.2,583.9 503.2,572.7 513.2,561.6 523.2,551.6 533.2,543.6 543.2,538.5 553.2,536.7 550.0,536.7"/>
<path d="M450.0,607.5 457.3,607.5 467.3,605.7 477.3,600.6 487.3,592.7 497.3,582.7 507.3,571.6 517.3,560.5 527.3,550.5 537.3,542.6 547.3,537.5 557.3,535.7 550.0,535.7"/>
<path d="M450.0,612.5 450.6,612.5 460.6,610.6 470.6,605.1 480.6,596.5 490.6,585.7 500.6,573.8 510.6,561.8 520.6,551.0 530.6,542.4 540.6,536.9 550.6,535.0 550.0,535.0"/>
<path d="M450.0,603.8 444.9,603.8 454.9,602.1 464.9,597.4 474.9,590.0 484.9,580.7 494.9,570.4 504.9,560.0 514.9,550.7 524.9,543.3 534.9,538.6 544.9,536.9 550.0,536.9"/>
<path d="M450.0,610.8 451.4,610.8 461.4,609.0 471.4,603.9 481.4,595.8 491.4,585.6 501.4,574.3 511.4,563.1 521.4,552.9 531.4,544.8 541.4,539.7 551.4,537.9 550.0,537.9"/>
<path d="M450.0,610.3 433.5,610.3 443.5,609.1 453.5,605.5 463.5,599.9 473.5,592.8 483.5,585.0 493.5,577.1 503.5,570.1 513.5,564.5 523.5,560.9 533.5,559.6 550.0,559.6"/>
<path d="M450.0,611.6 450.8,611.6 460.8,610.4 470.8,606.9 480.8,601.6 490.8,594.8 500.8,587.3 510.8,579.8 520.8,573.0 530.8,567.7 540.8,564.2 550.8,563.0 550.0,563.0"/>
<path d="M450.0,610.6 441.4,610.6 451.4,609.4 461.4,605.8 471.4,600.2 481.4,593.1 491.4,585.3 501.4,577.5 511.4,570.5 521.4,564.9 531.4,561.3 541.4,560.0 550.0,560.0"/>
<path d="M450.0,603.5 455.4,603.5 465.4,602.5 475.4,599.6 485.4,595.0 495.4,589.3 505.4,583.0 515.4,576.7 525.4,571.0 535.4,566.5 545.4,563.6 555.4,562.6 550.0,562.6"/>
<path d="M450.0,611.8 449.0,611.8 459.0,610.6 469.0,607.2 479.0,601.9 489.0,595.2 499.0,587.8 509.0,580.4 519.0,573.7 529.0,568.4 539.0,565.0 549.0,563.8 550.0,563.8"/>
<path d="M450.0,609.4 454.5,609.4 464.5,608.9 474.5,607.2 484.5,604.7 494.5,601.5 504.5,598.0 514.5,594.4 524.5,591.2 534.5,588.7 544.5,587.1 554.5,586.5 550.0,586.5"/>
<path d="M450.0,608.9 452.1,608.9 462.1,608.3 472.1,606.5 482.1,603.7 492.1,600.1 502.1,596.2 512.1,592.3 522.1,588.8 532.1,586.0 542.1,584.2 552.1,583.6 550.0,583.6"/>
<path d="M450.0,602.7 447.3,602.7 457.3,602.3 467.3,601.1 477.3,599.3 487.3,596.9 497.3,594.4 507.3,591.8 517.3,589.4 527.3,587.6 537.3,586.4 547.3,586.0 550.0,586.0"/>
<path d="M450.0,605.6 452.0,605.6 462.0,605.1 472.0,603.7 482.0,601.5 492.0,598.8 502.0,595.7 512.0,592.6 522.0,589.8 532.0,587.6 542.0,586.2 552.0,585.7 550.0,585.7"/>
<path d="M450.0,608.3 446.3,608.3 456.3,607.7 466.3,605.9 476.3,603.1 486.3,599.5 496.3,595.6 506.3,591.7 516.3,588.2 526.3,585.4 536.3,583.6 546.3,582.9 550.0,582.9"/>
<path d="M450.0,606.9 447.6,606.9 457.6,606.9 467.6,606.9 477.6,607.0 487.6,607.0 497.6,607.0 507.6,607.1 517.6,607.1 527.6,607.1 537.6,607.1 547.6,607.2 550.0,607.2"/>
<path d="M450.0,604.7 445.9,604.7 455.9,604.8 465.9,605.1 475.9,605.4 485.9,605.9 495.9,606.4 505.9,606.9 515.9,607.3 525.9,607.7 535.9,607.9 545.9,608.0 550.0,608.0"/>
<path d="M450.0,607.4 436.1,607.4 446.1,607.3 456.1,607.1 466.1,606.8 476.1,606.5 486.1,606.1 496.1,605.7 506.1,605.4 516.1,605.1 526.1,604.9 536.1,604.8 550.0,604.8"/>
<path d="M450.0,607.8 449.0,607.8 459.0,607.8 469.0,607.8 479.0,607.9 489.0,608.0 499.0,608.1 509.0,608.2 519.0,608.3 529.0,608.4 539.0,608.5 549.0,608.5 550.0,608.5"/>
<path d="M450.0,609.8 448.8,609.8 458.8,609.8 468.8,609.7 478.8,609.4 488.8,609.2 498.8,608.9 508.8,608.6 518.8,608.3 528.8,608.1 538.8,608.0 548.8,607.9 550.0,607.9"/>
<path d="M240.5,540.0 H456"/>
<path d="M240.5,608.4 H456"/>
<path d="M240.5,535.1 H456"/>
<path d="M240.5,607.9 H456"/>
<path d="M240.5,535.9 H456"/>
<path d="M240.5,605.1 H456"/>
<path d="M240.5,538.7 H456"/>
<path d="M240.5,607.1 H456"/>
<path d="M240.5,535.6 H456"/>
<path d="M240.5,607.3 H456"/>
<path d="M240.5,542.1 H456"/>
<path d="M240.5,611.4 H456"/>
<path d="M240.5,540.1 H456"/>
<path d="M240.5,604.7 H456"/>
<path d="M240.5,533.0 H456"/>
<path d="M240.5,607.4 H456"/>
<path d="M240.5,537.1 H456"/>
<path d="M240.5,609.1 H456"/>
<path d="M240.5,537.3 H456"/>
<path d="M240.5,609.5 H456"/>
<path d="M240.5,534.4 H456"/>
<path d="M240.5,609.3 H456"/>
<path d="M240.5,536.6 H456"/>
<path d="M240.5,609.9 H456"/>
<path d="M240.5,538.3 H456"/>
<path d="M240.5,603.1 H456"/>
<path d="M240.5,536.9 H456"/>
<path d="M240.5,610.8 H456"/>
</g></g>
</g>
<text x="292.7" y="516.2" font-size="13" font-weight="bold" fill="#fff" textLength="112" lengthAdjust="spacingAndGlyphs" >RX 112Gb/s PAM4</text>
<text x="286" y="637.8" font-size="13" font-weight="bold" fill="#fff" textLength="125" lengthAdjust="spacingAndGlyphs" >Input OMA=-4.9dBm</text>
<line x1="526.8" y1="420.85" x2="760.8" y2="420.85" stroke="#c4c4c4" stroke-width="1.8" />
<line x1="526.8" y1="443.5" x2="760.8" y2="443.5" stroke="#c4c4c4" stroke-width="1.8" />
<line x1="526.8" y1="466.15" x2="760.8" y2="466.15" stroke="#c4c4c4" stroke-width="1.8" />
<line x1="526.8" y1="488.8" x2="760.8" y2="488.8" stroke="#c4c4c4" stroke-width="1.8" />
<line x1="526.8" y1="511.45" x2="760.8" y2="511.45" stroke="#c4c4c4" stroke-width="1.8" />
<line x1="526.8" y1="534.1" x2="760.8" y2="534.1" stroke="#c4c4c4" stroke-width="1.8" />
<line x1="526.8" y1="556.75" x2="760.8" y2="556.75" stroke="#c4c4c4" stroke-width="1.8" />
<line x1="526.8" y1="579.4" x2="760.8" y2="579.4" stroke="#c4c4c4" stroke-width="1.8" />
<line x1="585" y1="398" x2="585" y2="602" stroke="#c4c4c4" stroke-width="1.8" />
<line x1="643.5" y1="398" x2="643.5" y2="602" stroke="#c4c4c4" stroke-width="1.8" />
<line x1="702" y1="398" x2="702" y2="602" stroke="#c4c4c4" stroke-width="1.8" />
<line x1="527.3" y1="479.8" x2="759" y2="479.8" stroke="#8a8a8a" stroke-width="3.8" stroke-linecap="round" stroke-dasharray="12.2,21.77"/>
<text x="682.8" y="468" font-size="14" font-weight="bold" fill="#000" textLength="73.5" lengthAdjust="spacingAndGlyphs" >2.4e-4 limit</text>
<polyline points="595.2,452.8 632.6,481.7 665.6,498.7 686,512 702,529.5 721.5,538.1" fill="none" stroke="#000000" stroke-width="3.3" stroke-linejoin="round" stroke-linecap="round" />
<polyline points="602.3,462.1 632.6,475.5 663,504.5 679.7,515.8 707,517 720.8,544.9" fill="none" stroke="#e0101a" stroke-width="3.3" stroke-linejoin="round" stroke-linecap="round" />
<polyline points="602.3,455.9 633.5,467.5 663.8,478.2 679.7,498.5 706.4,516.8 720.8,521.6" fill="none" stroke="#0a9a0a" stroke-width="3.3" stroke-linejoin="round" stroke-linecap="round" />
<polyline points="599.6,444.3 636.2,470.1 667.4,493.7 686.1,509.5 703.1,518.9 720.8,526.8" fill="none" stroke="#1010e0" stroke-width="3.3" stroke-linejoin="round" stroke-linecap="round" />
<polyline points="600.5,472.8 636.2,501.3 666.5,514.7 685.2,527.4 702.5,532.5 720.8,550.6" fill="none" stroke="#f4a060" stroke-width="3.3" stroke-linejoin="round" stroke-linecap="round" />
<polygon points="595.2,446.5 589.53,456.58 600.87,456.58" fill="#000000"/>
<polygon points="632.6,475.4 626.93,485.48 638.27,485.48" fill="#000000"/>
<polygon points="665.6,492.4 659.93,502.48 671.27,502.48" fill="#000000"/>
<polygon points="686,505.7 680.33,515.78 691.67,515.78" fill="#000000"/>
<polygon points="702,523.2 696.33,533.28 707.67,533.28" fill="#000000"/>
<polygon points="721.5,531.8 715.83,541.88 727.17,541.88" fill="#000000"/>
<polygon points="602.3,468.4 596.63,458.32 607.97,458.32" fill="#e0101a"/>
<polygon points="632.6,481.8 626.93,471.72 638.27,471.72" fill="#e0101a"/>
<polygon points="663,510.8 657.33,500.72 668.67,500.72" fill="#e0101a"/>
<polygon points="679.7,522.1 674.03,512.02 685.37,512.02" fill="#e0101a"/>
<polygon points="707,523.3 701.33,513.22 712.67,513.22" fill="#e0101a"/>
<polygon points="720.8,551.2 715.13,541.12 726.47,541.12" fill="#e0101a"/>
<polygon points="602.3,449.6 607.02,455.9 602.3,462.2 597.57,455.9" fill="#0a9a0a"/>
<polygon points="633.5,461.2 638.23,467.5 633.5,473.8 628.77,467.5" fill="#0a9a0a"/>
<polygon points="663.8,471.9 668.52,478.2 663.8,484.5 659.07,478.2" fill="#0a9a0a"/>
<polygon points="679.7,492.2 684.43,498.5 679.7,504.8 674.98,498.5" fill="#0a9a0a"/>
<polygon points="706.4,510.5 711.12,516.8 706.4,523.1 701.67,516.8" fill="#0a9a0a"/>
<polygon points="720.8,515.3 725.52,521.6 720.8,527.9 716.07,521.6" fill="#0a9a0a"/>
<polygon points="593.3,444.3 603.38,438.63 603.38,449.97" fill="#1010e0"/>
<polygon points="629.9,470.1 639.98,464.43 639.98,475.77" fill="#1010e0"/>
<polygon points="661.1,493.7 671.18,488.03 671.18,499.37" fill="#1010e0"/>
<polygon points="679.8,509.5 689.88,503.83 689.88,515.17" fill="#1010e0"/>
<polygon points="696.8,518.9 706.88,513.23 706.88,524.57" fill="#1010e0"/>
<polygon points="714.5,526.8 724.58,521.13 724.58,532.47" fill="#1010e0"/>
<polygon points="606.8,472.8 596.72,467.13 596.72,478.47" fill="#f4a060"/>
<polygon points="642.5,501.3 632.42,495.63 632.42,506.97" fill="#f4a060"/>
<polygon points="672.8,514.7 662.72,509.03 662.72,520.37" fill="#f4a060"/>
<polygon points="691.5,527.4 681.42,521.73 681.42,533.07" fill="#f4a060"/>
<polygon points="708.8,532.5 698.72,526.83 698.72,538.17" fill="#f4a060"/>
<polygon points="727.1,550.6 717.02,544.93 717.02,556.27" fill="#f4a060"/>
<rect x="539.5" y="497" width="69.7" height="94.1" fill="#fff" stroke="#111" stroke-width="1.2"/>
<line x1="541.5" y1="507.1" x2="575.3" y2="507.1" stroke="#000000" stroke-width="3.2" />
<polygon points="557.8,502.1 553.3,510.1 562.3,510.1" fill="#000000"/>
<text x="579" y="512.3" font-size="14" font-weight="bold" fill="#000" textLength="28.5" lengthAdjust="spacingAndGlyphs" >CH1</text>
<line x1="541.5" y1="525.58" x2="575.3" y2="525.58" stroke="#e0101a" stroke-width="3.2" />
<polygon points="557.8,530.58 553.3,522.58 562.3,522.58" fill="#e0101a"/>
<text x="579" y="530.78" font-size="14" font-weight="bold" fill="#000" textLength="28.5" lengthAdjust="spacingAndGlyphs" >CH2</text>
<line x1="541.5" y1="544.06" x2="575.3" y2="544.06" stroke="#0a9a0a" stroke-width="3.2" />
<polygon points="557.8,539.06 561.55,544.06 557.8,549.06 554.05,544.06" fill="#0a9a0a"/>
<text x="579" y="549.26" font-size="14" font-weight="bold" fill="#000" textLength="28.5" lengthAdjust="spacingAndGlyphs" >CH3</text>
<line x1="541.5" y1="562.54" x2="575.3" y2="562.54" stroke="#1010e0" stroke-width="3.2" />
<polygon points="552.8,562.54 560.8,558.04 560.8,567.04" fill="#1010e0"/>
<text x="579" y="567.74" font-size="14" font-weight="bold" fill="#000" textLength="28.5" lengthAdjust="spacingAndGlyphs" >CH4</text>
<line x1="541.5" y1="581.02" x2="575.3" y2="581.02" stroke="#f4a060" stroke-width="3.2" />
<polygon points="562.8,581.02 554.8,576.52 554.8,585.52" fill="#f4a060"/>
<text x="579" y="586.22" font-size="14" font-weight="bold" fill="#000" textLength="28.5" lengthAdjust="spacingAndGlyphs" >CH5</text>
<rect x="526.8" y="398" width="234.0" height="204" fill="none" stroke="#000" stroke-width="2.6"/>
<line x1="526.8" y1="398.2" x2="531.8" y2="398.2" stroke="#000" stroke-width="2" />
<line x1="526.8" y1="420.85" x2="531.8" y2="420.85" stroke="#000" stroke-width="2" />
<line x1="526.8" y1="443.5" x2="531.8" y2="443.5" stroke="#000" stroke-width="2" />
<line x1="526.8" y1="466.15" x2="531.8" y2="466.15" stroke="#000" stroke-width="2" />
<line x1="526.8" y1="488.8" x2="531.8" y2="488.8" stroke="#000" stroke-width="2" />
<line x1="526.8" y1="511.45" x2="531.8" y2="511.45" stroke="#000" stroke-width="2" />
<line x1="526.8" y1="534.1" x2="531.8" y2="534.1" stroke="#000" stroke-width="2" />
<line x1="526.8" y1="556.75" x2="531.8" y2="556.75" stroke="#000" stroke-width="2" />
<line x1="526.8" y1="579.4" x2="531.8" y2="579.4" stroke="#000" stroke-width="2" />
<line x1="526.8" y1="602.05" x2="531.8" y2="602.05" stroke="#000" stroke-width="2" />
<line x1="760.8" y1="426.8" x2="756.8" y2="426.8" stroke="#000" stroke-width="2" />
<line x1="760.8" y1="456" x2="756.8" y2="456" stroke="#000" stroke-width="2" />
<line x1="760.8" y1="485.2" x2="756.8" y2="485.2" stroke="#000" stroke-width="2" />
<line x1="760.8" y1="514.4" x2="756.8" y2="514.4" stroke="#000" stroke-width="2" />
<line x1="760.8" y1="543.6" x2="756.8" y2="543.6" stroke="#000" stroke-width="2" />
<line x1="760.8" y1="572.8" x2="756.8" y2="572.8" stroke="#000" stroke-width="2" />
<line x1="585" y1="602" x2="585" y2="597" stroke="#000" stroke-width="2" />
<line x1="643.5" y1="602" x2="643.5" y2="597" stroke="#000" stroke-width="2" />
<line x1="702" y1="602" x2="702" y2="597" stroke="#000" stroke-width="2" />
<text x="515.5" y="403.4" font-size="14" font-weight="bold" fill="#000" text-anchor="end" textLength="16.3" lengthAdjust="spacingAndGlyphs" >10</text>
<text x="521" y="396.4" font-size="10" font-weight="bold" fill="#000" text-anchor="end" textLength="5" lengthAdjust="spacingAndGlyphs" >0</text>
<text x="511" y="426.05" font-size="14" font-weight="bold" fill="#000" text-anchor="end" textLength="16.3" lengthAdjust="spacingAndGlyphs" >10</text>
<text x="521" y="419.05" font-size="10" font-weight="bold" fill="#000" text-anchor="end" textLength="9.5" lengthAdjust="spacingAndGlyphs" >&#8722;1</text>
<text x="511" y="448.7" font-size="14" font-weight="bold" fill="#000" text-anchor="end" textLength="16.3" lengthAdjust="spacingAndGlyphs" >10</text>
<text x="521" y="441.7" font-size="10" font-weight="bold" fill="#000" text-anchor="end" textLength="9.5" lengthAdjust="spacingAndGlyphs" >&#8722;2</text>
<text x="511" y="471.35" font-size="14" font-weight="bold" fill="#000" text-anchor="end" textLength="16.3" lengthAdjust="spacingAndGlyphs" >10</text>
<text x="521" y="464.35" font-size="10" font-weight="bold" fill="#000" text-anchor="end" textLength="9.5" lengthAdjust="spacingAndGlyphs" >&#8722;3</text>
<text x="511" y="494" font-size="14" font-weight="bold" fill="#000" text-anchor="end" textLength="16.3" lengthAdjust="spacingAndGlyphs" >10</text>
<text x="521" y="487" font-size="10" font-weight="bold" fill="#000" text-anchor="end" textLength="9.5" lengthAdjust="spacingAndGlyphs" >&#8722;4</text>
<text x="511" y="516.65" font-size="14" font-weight="bold" fill="#000" text-anchor="end" textLength="16.3" lengthAdjust="spacingAndGlyphs" >10</text>
<text x="521" y="509.65" font-size="10" font-weight="bold" fill="#000" text-anchor="end" textLength="9.5" lengthAdjust="spacingAndGlyphs" >&#8722;5</text>
<text x="511" y="539.3" font-size="14" font-weight="bold" fill="#000" text-anchor="end" textLength="16.3" lengthAdjust="spacingAndGlyphs" >10</text>
<text x="521" y="532.3" font-size="10" font-weight="bold" fill="#000" text-anchor="end" textLength="9.5" lengthAdjust="spacingAndGlyphs" >&#8722;6</text>
<text x="511" y="561.95" font-size="14" font-weight="bold" fill="#000" text-anchor="end" textLength="16.3" lengthAdjust="spacingAndGlyphs" >10</text>
<text x="521" y="554.95" font-size="10" font-weight="bold" fill="#000" text-anchor="end" textLength="9.5" lengthAdjust="spacingAndGlyphs" >&#8722;7</text>
<text x="511" y="584.6" font-size="14" font-weight="bold" fill="#000" text-anchor="end" textLength="16.3" lengthAdjust="spacingAndGlyphs" >10</text>
<text x="521" y="577.6" font-size="10" font-weight="bold" fill="#000" text-anchor="end" textLength="9.5" lengthAdjust="spacingAndGlyphs" >&#8722;8</text>
<text x="511" y="607.25" font-size="14" font-weight="bold" fill="#000" text-anchor="end" textLength="16.3" lengthAdjust="spacingAndGlyphs" >10</text>
<text x="521" y="600.25" font-size="10" font-weight="bold" fill="#000" text-anchor="end" textLength="9.5" lengthAdjust="spacingAndGlyphs" >&#8722;9</text>
<text x="526.5" y="618.3" font-size="14" font-weight="bold" fill="#000" text-anchor="middle" >&#8722;10</text>
<text x="585" y="618.3" font-size="14" font-weight="bold" fill="#000" text-anchor="middle" >&#8722;8</text>
<text x="643.5" y="618.3" font-size="14" font-weight="bold" fill="#000" text-anchor="middle" >&#8722;6</text>
<text x="702" y="618.3" font-size="14" font-weight="bold" fill="#000" text-anchor="middle" >&#8722;4</text>
<text x="760.5" y="618.3" font-size="14" font-weight="bold" fill="#000" text-anchor="middle" >&#8722;2</text>
<text x="575.9" y="640.6" font-size="16.5" font-weight="bold" fill="#000" textLength="136" lengthAdjust="spacingAndGlyphs" >Input OMA (dBm)</text>
<text x="0" y="0" font-size="17" font-weight="bold" fill="#000" text-anchor="middle" textLength="34" lengthAdjust="spacingAndGlyphs" transform="translate(489,499) rotate(-90)" >BER</text>
<text transform="scale(0.72,1)" x="-3" y="669.8" font-size="23.5" font-weight="bold" fill="#111" stroke="#111" stroke-width="0.6" textLength="470" lengthAdjust="spacing">Figure 23.3.5: Measurement results.</text>
<rect x="0" y="650" width="2.6" height="22" fill="#fff"/>
<g opacity="0.9">
<ellipse cx="562" cy="643.5" rx="10" ry="8.5" fill="#b4b4b4"/>
<path d="M556,650 l-2,4 l5,-2.5z" fill="#b4b4b4"/>
<ellipse cx="572" cy="650.4" rx="9" ry="7.2" fill="#b4b4b4" stroke="#fff" stroke-width="1.2"/>
<path d="M576.5,655.5 l2.5,3 l-5,-1.5z" fill="#b4b4b4"/>
<circle cx="558.5" cy="641" r="1.3" fill="#fff"/>
<circle cx="565.5" cy="641" r="1.3" fill="#fff"/>
<circle cx="569" cy="648.5" r="1.1" fill="#fff"/>
<circle cx="575" cy="648.5" r="1.1" fill="#fff"/>
</g>
<g fill="none" stroke="#b0b0b0" stroke-width="1.6" stroke-linecap="round" stroke-linejoin="round">
<path transform="translate(586.4,637.6)" d="M7,1 Q5,6 1,9.5"/>
<path transform="translate(586.4,637.6)" d="M12.5,1 Q15,6 19.5,9"/>
<path transform="translate(586.4,637.6)" d="M9.5,8 L3,17.5 L17,16.5"/>
<path transform="translate(586.4,637.6)" d="M13.5,12 L18.5,17.5"/>
<path transform="translate(607.4,637.6)" d="M10,0.5 Q8,6 2,9"/>
<path transform="translate(607.4,637.6)" d="M10,2.5 Q13,7 19,9"/>
<path transform="translate(607.4,637.6)" d="M5.5,9 Q5,15 1,18.5"/>
<path transform="translate(607.4,637.6)" d="M5.8,12.5 L9,17"/>
<path transform="translate(607.4,637.6)" d="M14,9 Q13.5,15 10,18.5"/>
<path transform="translate(607.4,637.6)" d="M14.2,11.5 Q16,16 19.5,18.5"/>
<path transform="translate(630.3,637.6)" d="M4.5,1 H15.5 V7 H4.5 Z"/>
<path transform="translate(630.3,637.6)" d="M1,10 H19"/>
<path transform="translate(630.3,637.6)" d="M7,10 L6,14 H16 Q16,18.5 12,17.8"/>
<path transform="translate(674.7,637.6)" d="M10,0.5 V8"/>
<path transform="translate(674.7,637.6)" d="M4.5,2.5 L6.5,7"/>
<path transform="translate(674.7,637.6)" d="M15.5,2.5 L13.5,7"/>
<path transform="translate(674.7,637.6)" d="M1,8.5 H19"/>
<path transform="translate(674.7,637.6)" d="M8,8.5 Q8,16 1.5,18.5"/>
<path transform="translate(674.7,637.6)" d="M12,8.5 V17.5 H18.5 V14.5"/>
<path transform="translate(697.1,637.6)" d="M1,4 H19"/>
<path transform="translate(697.1,637.6)" d="M6.5,0.5 V7"/>
<path transform="translate(697.1,637.6)" d="M13.5,0.5 V7"/>
<path transform="translate(697.1,637.6)" d="M3.5,11 L1.5,16.5"/>
<path transform="translate(697.1,637.6)" d="M7,9.5 V17.5 H15 L16,14.5"/>
<path transform="translate(697.1,637.6)" d="M10,10 L12,13"/>
<path transform="translate(697.1,637.6)" d="M15.5,10.5 L18.5,15"/>
<path transform="translate(718.9,637.6)" d="M9,0.5 L11.5,3.5"/>
<path transform="translate(718.9,637.6)" d="M3.5,6 H15.5 L2.5,17"/>
<path transform="translate(718.9,637.6)" d="M4.5,15 Q8,17.5 19.5,18.5"/>
<path transform="translate(740.6,637.6)" d="M1.5,1.5 H8 V6.5 H1.5 Z"/>
<path transform="translate(740.6,637.6)" d="M4.5,9 V16.5"/>
<path transform="translate(740.6,637.6)" d="M4.5,12 H8"/>
<path transform="translate(740.6,637.6)" d="M1.5,10 V18 L8.5,16"/>
<path transform="translate(740.6,637.6)" d="M13,0.5 L9.5,6.5"/>
<path transform="translate(740.6,637.6)" d="M12,3 H18.5 L10,11"/>
<path transform="translate(740.6,637.6)" d="M12.5,6 L19.5,11"/>
<path transform="translate(740.6,637.6)" d="M11,13 H18.5 V19 H11 Z"/>
</g>
<circle cx="660.8" cy="647" r="1.5" fill="#b0b0b0"/>
</svg>
</body></html>
